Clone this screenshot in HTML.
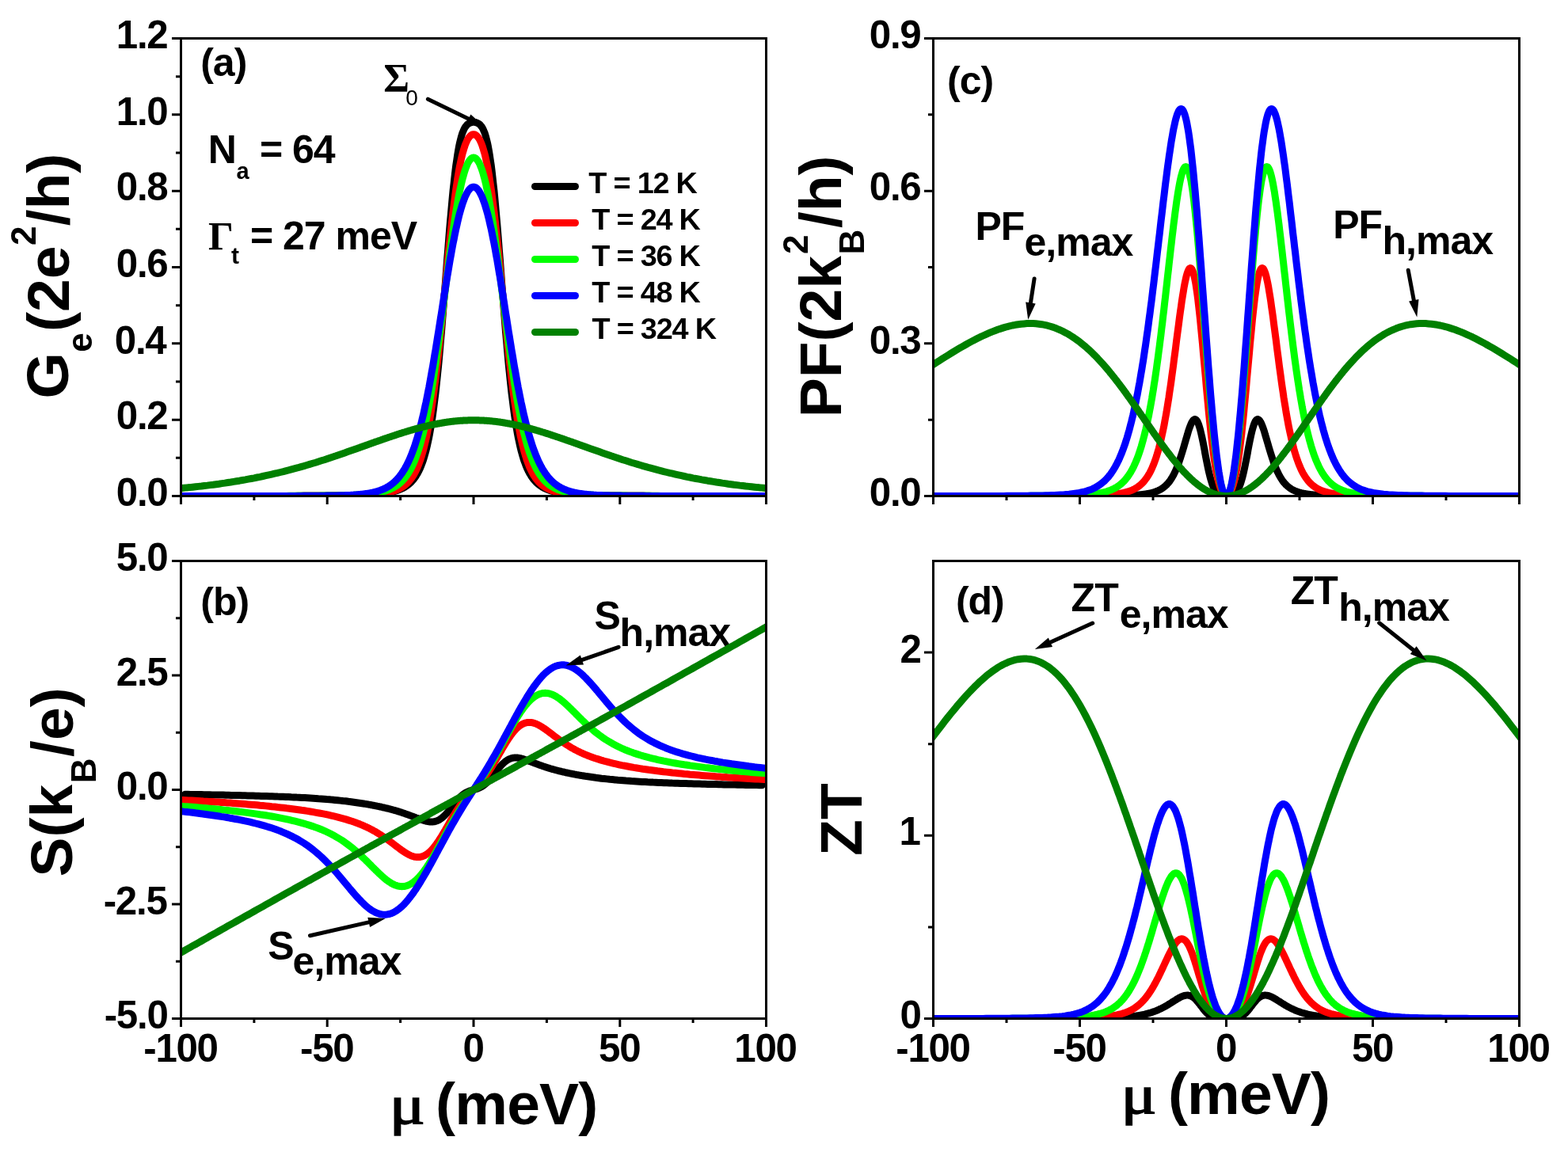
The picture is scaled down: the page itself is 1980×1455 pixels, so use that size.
<!DOCTYPE html>
<html><head><meta charset="utf-8"><title>Thermoelectric properties</title>
<style>
html,body{margin:0;padding:0;background:#fff;overflow:hidden}
svg{display:block}
text{font-family:"Liberation Sans",Arial,sans-serif;font-weight:bold;fill:#000}
.tk{font-size:49.3px;letter-spacing:-1.3px}
.lg{font-size:37.8px;letter-spacing:-1.2px}
.an{font-size:50px;letter-spacing:-1px}
.sub{font-size:29px}
.subb{font-size:30px}
.sub0{font-size:28px;font-weight:normal}
.gr{font-family:"Liberation Serif",serif;font-size:50px}
.ax{font-size:75px}
.axs{font-size:44px}
.mu{font-family:"Liberation Serif",serif;font-weight:normal;font-size:70px;stroke:#000;stroke-width:1.6px}
.mev{font-size:75px;letter-spacing:-0.8px}
</style></head><body>
<svg width="1980" height="1455" viewBox="0 0 1980 1455">
<rect width="1980" height="1455" fill="#fff"/>
<defs>
<clipPath id="cpa"><rect x="228.5" y="48.5" width="739.0" height="578.0"/></clipPath>
<clipPath id="cpb"><rect x="228.5" y="708.5" width="739.0" height="578.0"/></clipPath>
<clipPath id="cpc"><rect x="1178.5" y="48.5" width="740.0" height="578.0"/></clipPath>
<clipPath id="cpd"><rect x="1178.5" y="708.5" width="740.0" height="578.0"/></clipPath>
</defs>
<text class="tk" text-anchor="end" x="211.5" y="639.0">0.0</text>
<text class="tk" text-anchor="end" x="211.5" y="542.3">0.2</text>
<text class="tk" text-anchor="end" x="209.5" y="446.7">0.4</text>
<text class="tk" text-anchor="end" x="211.5" y="350.0">0.6</text>
<text class="tk" text-anchor="end" x="211.5" y="253.3">0.8</text>
<text class="tk" text-anchor="end" x="211.5" y="157.7">1.0</text>
<text class="tk" text-anchor="end" x="211.5" y="61.0">1.2</text>
<text class="tk" text-anchor="end" x="211.5" y="1299.0">-5.0</text>
<text class="tk" text-anchor="end" x="210.5" y="1154.5">-2.5</text>
<text class="tk" text-anchor="end" x="211.5" y="1010.0">0.0</text>
<text class="tk" text-anchor="end" x="211.5" y="865.5">2.5</text>
<text class="tk" text-anchor="end" x="211.5" y="721.0">5.0</text>
<text class="tk" text-anchor="end" x="1162.5" y="639.0">0.0</text>
<text class="tk" text-anchor="end" x="1162.5" y="446.7">0.3</text>
<text class="tk" text-anchor="end" x="1162.5" y="253.3">0.6</text>
<text class="tk" text-anchor="end" x="1162.5" y="61.0">0.9</text>
<text class="tk" text-anchor="end" x="1162.5" y="1299.0">0</text>
<text class="tk" text-anchor="end" x="1161.5" y="1067.0">1</text>
<text class="tk" text-anchor="end" x="1162.5" y="837.0">2</text>
<text class="tk" text-anchor="middle" x="228.0" y="1340.5">-100</text>
<text class="tk" text-anchor="middle" x="412.8" y="1340.5">-50</text>
<text class="tk" text-anchor="middle" x="597.5" y="1340.5">0</text>
<text class="tk" text-anchor="middle" x="782.2" y="1340.5">50</text>
<text class="tk" text-anchor="middle" x="966.5" y="1340.5">100</text>
<text class="tk" text-anchor="middle" x="1178.0" y="1340.5">-100</text>
<text class="tk" text-anchor="middle" x="1363.0" y="1340.5">-50</text>
<text class="tk" text-anchor="middle" x="1548.0" y="1340.5">0</text>
<text class="tk" text-anchor="middle" x="1733.0" y="1340.5">50</text>
<text class="tk" text-anchor="middle" x="1917.5" y="1340.5">100</text>
<text class="an" x="253.2" y="95.8">(a)</text>
<text class="an" x="253.3" y="777.4">(b)</text>
<text class="an" x="1196.0" y="118.6">(c)</text>
<text class="an" x="1206.9" y="776.1">(d)</text>
<text class="an" x="262.7" y="206.0">N</text>
<text class="sub" x="298.5" y="225.8">a</text>
<text class="an" x="327.9" y="206.0">= 64</text>
<text class="gr" x="263.0" y="314.6">Γ</text>
<text class="subb" x="292.0" y="333.0">t</text>
<text class="an" x="315.9" y="315.2">= 27 meV</text>
<text class="gr" x="484.3" y="115.4">Σ</text>
<text class="sub0" x="512.2" y="133.4">0</text>
<text class="an" x="750.6" y="795.0">S</text>
<text class="an" x="782.6" y="816.0">h,max</text>
<text class="an" x="338.2" y="1211.9">S</text>
<text class="an" x="369.6" y="1230.9">e,max</text>
<text class="an" x="1231.5" y="302.9">PF</text>
<text class="an" x="1293.5" y="322.8">e,max</text>
<text class="an" x="1683.2" y="301.2">PF</text>
<text class="an" x="1745.5" y="321.2">h,max</text>
<text class="an" x="1352.6" y="772.4">ZT</text>
<text class="an" x="1413.8" y="793.2">e,max</text>
<text class="an" x="1629.8" y="763.0">ZT</text>
<text class="an" x="1690.3" y="784.0">h,max</text>
<text class="lg" x="743.3" y="243.8">T = 12 K</text>
<text class="lg" x="747.3" y="289.8">T = 24 K</text>
<text class="lg" x="747.3" y="336.3">T = 36 K</text>
<text class="lg" x="747.3" y="382.4">T = 48 K</text>
<text class="lg" x="747.5" y="428.3">T = 324 K</text>
<text class="ax" transform="translate(85.6 503.4) rotate(-90)">G</text>
<text class="axs" transform="translate(115.8 444.8) rotate(-90)">e</text>
<text class="ax" transform="translate(87.4 419.0) rotate(-90)">(2e</text>
<text class="axs" transform="translate(44.6 309.9) rotate(-90)">2</text>
<text class="ax" transform="translate(87.0 285.3) rotate(-90)">/h)</text>
<text class="ax" transform="translate(91.0 1107.5) rotate(-90)">S(k</text>
<text class="axs" transform="translate(121.0 989.2) rotate(-90)">B</text>
<text class="ax" transform="translate(91.8 955.9) rotate(-90)">/e)</text>
<text class="ax" transform="translate(1062.0 527.3) rotate(-90)">PF(2k</text>
<text class="axs" transform="translate(1019.8 321.1) rotate(-90)">2</text>
<text class="axs" transform="translate(1090.8 321.4) rotate(-90)">B</text>
<text class="ax" transform="translate(1062.0 288.1) rotate(-90)">/h)</text>
<text class="ax" transform="translate(1088.2 1080.9) rotate(-90)">ZT</text>
<text class="mu" transform="translate(491.8 1419.3) scale(1.200 1)">μ</text>
<text class="mev" x="550.1" y="1420.2">(meV)</text>
<text class="mu" transform="translate(1415.6 1405.7) scale(1.200 1)">μ</text>
<text class="mev" x="1474.9" y="1407.0">(meV)</text>
<g clip-path="url(#cpa)" fill="none" stroke-width="9" stroke-linejoin="round" stroke-linecap="round">
<path stroke="#000000" d="M206.3 626.5 L210.0 626.5 L213.7 626.5 L217.4 626.5 L221.1 626.5 L224.8 626.5 L228.5 626.5 L232.2 626.5 L235.9 626.5 L239.6 626.5 L243.3 626.5 L247.0 626.5 L250.7 626.5 L254.4 626.5 L258.1 626.5 L261.8 626.5 L265.4 626.5 L269.1 626.5 L272.8 626.5 L276.5 626.5 L280.2 626.5 L283.9 626.5 L287.6 626.5 L291.3 626.5 L295.0 626.5 L298.7 626.5 L302.4 626.5 L306.1 626.5 L309.8 626.5 L313.5 626.5 L317.2 626.4 L320.9 626.4 L324.6 626.4 L328.3 626.4 L332.0 626.4 L335.7 626.4 L339.4 626.4 L343.0 626.4 L346.7 626.4 L350.4 626.4 L354.1 626.4 L357.8 626.4 L361.5 626.4 L365.2 626.4 L368.9 626.4 L372.6 626.4 L376.3 626.3 L380.0 626.3 L383.7 626.3 L387.4 626.3 L391.1 626.3 L394.8 626.3 L398.5 626.3 L402.2 626.2 L405.9 626.2 L409.6 626.2 L413.2 626.1 L416.9 626.1 L420.6 626.1 L424.3 626.0 L428.0 626.0 L431.7 625.9 L435.4 625.9 L439.1 625.8 L442.8 625.7 L446.5 625.6 L450.2 625.5 L451.1 625.5 L452.0 625.5 L453.0 625.4 L453.9 625.4 L454.8 625.4 L455.7 625.3 L456.7 625.3 L457.6 625.3 L458.5 625.2 L459.4 625.2 L460.4 625.1 L461.3 625.1 L462.2 625.0 L463.1 625.0 L464.1 625.0 L465.0 624.9 L465.9 624.8 L466.8 624.8 L467.8 624.7 L468.7 624.7 L469.6 624.6 L470.5 624.6 L471.4 624.5 L472.4 624.4 L473.3 624.4 L474.2 624.3 L475.1 624.2 L476.1 624.1 L477.0 624.0 L477.9 623.9 L478.8 623.9 L479.8 623.8 L480.7 623.7 L481.6 623.5 L482.5 623.4 L483.5 623.3 L484.4 623.2 L485.3 623.1 L486.2 622.9 L487.1 622.8 L488.1 622.7 L489.0 622.5 L489.9 622.3 L490.8 622.2 L491.8 622.0 L492.7 621.8 L493.6 621.6 L494.5 621.4 L495.5 621.2 L496.4 621.0 L497.3 620.7 L498.2 620.5 L499.2 620.2 L500.1 620.0 L501.0 619.7 L501.9 619.4 L502.9 619.0 L503.8 618.7 L504.7 618.3 L505.6 618.0 L506.5 617.6 L507.5 617.1 L508.4 616.7 L509.3 616.2 L510.2 615.7 L511.2 615.2 L512.1 614.6 L513.0 614.0 L513.9 613.3 L514.9 612.7 L515.8 611.9 L516.7 611.2 L517.6 610.4 L518.6 609.5 L519.5 608.6 L520.4 607.6 L521.3 606.5 L522.3 605.4 L523.2 604.2 L524.1 602.9 L525.0 601.6 L525.9 600.1 L526.9 598.6 L527.8 596.9 L528.7 595.2 L529.6 593.3 L530.6 591.2 L531.5 589.1 L532.4 586.7 L533.3 584.3 L534.3 581.6 L535.2 578.8 L536.1 575.7 L537.0 572.5 L538.0 569.0 L538.9 565.3 L539.8 561.3 L540.7 557.0 L541.7 552.5 L542.6 547.7 L543.5 542.5 L544.4 537.0 L545.3 531.2 L546.3 525.0 L547.2 518.5 L548.1 511.5 L549.0 504.1 L550.0 496.4 L550.9 488.2 L551.8 479.7 L552.7 470.7 L553.7 461.3 L554.6 451.5 L555.5 441.4 L556.4 430.9 L557.4 420.1 L558.3 409.0 L559.2 397.6 L560.1 386.0 L561.0 374.2 L562.0 362.3 L562.9 350.4 L563.8 338.5 L564.7 326.6 L565.7 314.8 L566.6 303.2 L567.5 291.8 L568.4 280.8 L569.4 270.1 L570.3 259.8 L571.2 249.9 L572.1 240.5 L573.1 231.7 L574.0 223.4 L574.9 215.6 L575.8 208.4 L576.8 201.8 L577.7 195.7 L578.6 190.2 L579.5 185.2 L580.4 180.8 L581.4 176.8 L582.3 173.3 L583.2 170.2 L584.1 167.5 L585.1 165.2 L586.0 163.1 L586.9 161.4 L587.8 160.0 L588.8 158.8 L589.7 157.7 L590.6 156.9 L591.5 156.2 L592.5 155.7 L593.4 155.2 L594.3 154.9 L595.2 154.6 L596.2 154.5 L597.1 154.4 L598.0 154.3 L598.9 154.4 L599.8 154.5 L600.8 154.6 L601.7 154.9 L602.6 155.2 L603.5 155.7 L604.5 156.2 L605.4 156.9 L606.3 157.7 L607.2 158.8 L608.2 160.0 L609.1 161.4 L610.0 163.1 L610.9 165.2 L611.9 167.5 L612.8 170.2 L613.7 173.3 L614.6 176.8 L615.6 180.8 L616.5 185.2 L617.4 190.2 L618.3 195.7 L619.2 201.8 L620.2 208.4 L621.1 215.6 L622.0 223.4 L622.9 231.7 L623.9 240.5 L624.8 249.9 L625.7 259.8 L626.6 270.1 L627.6 280.8 L628.5 291.8 L629.4 303.2 L630.3 314.8 L631.3 326.6 L632.2 338.5 L633.1 350.4 L634.0 362.3 L635.0 374.2 L635.9 386.0 L636.8 397.6 L637.7 409.0 L638.6 420.1 L639.6 430.9 L640.5 441.4 L641.4 451.5 L642.3 461.3 L643.3 470.7 L644.2 479.7 L645.1 488.2 L646.0 496.4 L647.0 504.1 L647.9 511.5 L648.8 518.5 L649.7 525.0 L650.7 531.2 L651.6 537.0 L652.5 542.5 L653.4 547.7 L654.3 552.5 L655.3 557.0 L656.2 561.3 L657.1 565.3 L658.0 569.0 L659.0 572.5 L659.9 575.7 L660.8 578.8 L661.7 581.6 L662.7 584.3 L663.6 586.7 L664.5 589.1 L665.4 591.2 L666.4 593.3 L667.3 595.2 L668.2 596.9 L669.1 598.6 L670.1 600.1 L671.0 601.6 L671.9 602.9 L672.8 604.2 L673.7 605.4 L674.7 606.5 L675.6 607.6 L676.5 608.6 L677.4 609.5 L678.4 610.4 L679.3 611.2 L680.2 611.9 L681.1 612.7 L682.1 613.3 L683.0 614.0 L683.9 614.6 L684.8 615.2 L685.8 615.7 L686.7 616.2 L687.6 616.7 L688.5 617.1 L689.5 617.6 L690.4 618.0 L691.3 618.3 L692.2 618.7 L693.1 619.0 L694.1 619.4 L695.0 619.7 L695.9 620.0 L696.8 620.2 L697.8 620.5 L698.7 620.7 L699.6 621.0 L700.5 621.2 L701.5 621.4 L702.4 621.6 L703.3 621.8 L704.2 622.0 L705.2 622.2 L706.1 622.3 L707.0 622.5 L707.9 622.7 L708.9 622.8 L709.8 622.9 L710.7 623.1 L711.6 623.2 L712.5 623.3 L713.5 623.4 L714.4 623.5 L715.3 623.7 L716.2 623.8 L717.2 623.9 L718.1 623.9 L719.0 624.0 L719.9 624.1 L720.9 624.2 L721.8 624.3 L722.7 624.4 L723.6 624.4 L724.6 624.5 L725.5 624.6 L726.4 624.6 L727.3 624.7 L728.2 624.7 L729.2 624.8 L730.1 624.8 L731.0 624.9 L731.9 625.0 L732.9 625.0 L733.8 625.0 L734.7 625.1 L735.6 625.1 L736.6 625.2 L737.5 625.2 L738.4 625.3 L739.3 625.3 L740.3 625.3 L741.2 625.4 L742.1 625.4 L743.0 625.4 L744.0 625.5 L744.9 625.5 L745.8 625.5 L749.5 625.6 L753.2 625.7 L756.9 625.8 L760.6 625.9 L764.3 625.9 L768.0 626.0 L771.7 626.0 L775.4 626.1 L779.1 626.1 L782.8 626.1 L786.4 626.2 L790.1 626.2 L793.8 626.2 L797.5 626.3 L801.2 626.3 L804.9 626.3 L808.6 626.3 L812.3 626.3 L816.0 626.3 L819.7 626.3 L823.4 626.4 L827.1 626.4 L830.8 626.4 L834.5 626.4 L838.2 626.4 L841.9 626.4 L845.6 626.4 L849.3 626.4 L853.0 626.4 L856.6 626.4 L860.3 626.4 L864.0 626.4 L867.7 626.4 L871.4 626.4 L875.1 626.4 L878.8 626.4 L882.5 626.5 L886.2 626.5 L889.9 626.5 L893.6 626.5 L897.3 626.5 L901.0 626.5 L904.7 626.5 L908.4 626.5 L912.1 626.5 L915.8 626.5 L919.5 626.5 L923.2 626.5 L926.9 626.5 L930.5 626.5 L934.2 626.5 L937.9 626.5 L941.6 626.5 L945.3 626.5 L949.0 626.5 L952.7 626.5 L956.4 626.5 L960.1 626.5 L963.8 626.5 L967.5 626.5 L971.2 626.5 L974.9 626.5 L978.6 626.5 L982.3 626.5 L986.0 626.5 L989.7 626.5"/>
<path stroke="#ff0000" d="M206.3 626.5 L210.0 626.5 L213.7 626.5 L217.4 626.5 L221.1 626.5 L224.8 626.5 L228.5 626.5 L232.2 626.5 L235.9 626.5 L239.6 626.5 L243.3 626.5 L247.0 626.5 L250.7 626.5 L254.4 626.5 L258.1 626.5 L261.8 626.5 L265.4 626.5 L269.1 626.5 L272.8 626.5 L276.5 626.5 L280.2 626.5 L283.9 626.5 L287.6 626.5 L291.3 626.5 L295.0 626.5 L298.7 626.5 L302.4 626.5 L306.1 626.5 L309.8 626.5 L313.5 626.5 L317.2 626.5 L320.9 626.5 L324.6 626.5 L328.3 626.4 L332.0 626.4 L335.7 626.4 L339.4 626.4 L343.0 626.4 L346.7 626.4 L350.4 626.4 L354.1 626.4 L357.8 626.4 L361.5 626.4 L365.2 626.4 L368.9 626.4 L372.6 626.4 L376.3 626.4 L380.0 626.4 L383.7 626.3 L387.4 626.3 L391.1 626.3 L394.8 626.3 L398.5 626.3 L402.2 626.3 L405.9 626.2 L409.6 626.2 L413.2 626.2 L416.9 626.2 L420.6 626.1 L424.3 626.1 L428.0 626.0 L431.7 626.0 L435.4 625.9 L439.1 625.9 L442.8 625.8 L446.5 625.7 L450.2 625.6 L451.1 625.6 L452.0 625.5 L453.0 625.5 L453.9 625.5 L454.8 625.4 L455.7 625.4 L456.7 625.4 L457.6 625.3 L458.5 625.3 L459.4 625.2 L460.4 625.2 L461.3 625.2 L462.2 625.1 L463.1 625.1 L464.1 625.0 L465.0 625.0 L465.9 624.9 L466.8 624.9 L467.8 624.8 L468.7 624.7 L469.6 624.7 L470.5 624.6 L471.4 624.5 L472.4 624.5 L473.3 624.4 L474.2 624.3 L475.1 624.2 L476.1 624.1 L477.0 624.0 L477.9 623.9 L478.8 623.8 L479.8 623.7 L480.7 623.6 L481.6 623.5 L482.5 623.4 L483.5 623.2 L484.4 623.1 L485.3 623.0 L486.2 622.8 L487.1 622.6 L488.1 622.5 L489.0 622.3 L489.9 622.1 L490.8 621.9 L491.8 621.7 L492.7 621.5 L493.6 621.2 L494.5 621.0 L495.5 620.7 L496.4 620.5 L497.3 620.2 L498.2 619.9 L499.2 619.5 L500.1 619.2 L501.0 618.8 L501.9 618.4 L502.9 618.0 L503.8 617.6 L504.7 617.1 L505.6 616.6 L506.5 616.1 L507.5 615.6 L508.4 615.0 L509.3 614.3 L510.2 613.7 L511.2 613.0 L512.1 612.2 L513.0 611.4 L513.9 610.6 L514.9 609.7 L515.8 608.7 L516.7 607.7 L517.6 606.6 L518.6 605.4 L519.5 604.2 L520.4 602.9 L521.3 601.5 L522.3 600.0 L523.2 598.4 L524.1 596.7 L525.0 594.9 L525.9 593.0 L526.9 591.0 L527.8 588.8 L528.7 586.5 L529.6 584.1 L530.6 581.5 L531.5 578.7 L532.4 575.8 L533.3 572.7 L534.3 569.4 L535.2 566.0 L536.1 562.3 L537.0 558.4 L538.0 554.3 L538.9 550.0 L539.8 545.5 L540.7 540.7 L541.7 535.6 L542.6 530.3 L543.5 524.8 L544.4 519.0 L545.3 512.9 L546.3 506.6 L547.2 500.0 L548.1 493.1 L549.0 486.0 L550.0 478.6 L550.9 471.0 L551.8 463.1 L552.7 455.0 L553.7 446.7 L554.6 438.1 L555.5 429.4 L556.4 420.5 L557.4 411.4 L558.3 402.3 L559.2 393.0 L560.1 383.6 L561.0 374.1 L562.0 364.7 L562.9 355.2 L563.8 345.8 L564.7 336.4 L565.7 327.2 L566.6 318.0 L567.5 309.0 L568.4 300.2 L569.4 291.6 L570.3 283.2 L571.2 275.0 L572.1 267.1 L573.1 259.5 L574.0 252.2 L574.9 245.2 L575.8 238.6 L576.8 232.2 L577.7 226.2 L578.6 220.6 L579.5 215.3 L580.4 210.3 L581.4 205.7 L582.3 201.4 L583.2 197.4 L584.1 193.7 L585.1 190.4 L586.0 187.3 L586.9 184.5 L587.8 182.0 L588.8 179.7 L589.7 177.7 L590.6 176.0 L591.5 174.5 L592.5 173.2 L593.4 172.1 L594.3 171.2 L595.2 170.5 L596.2 170.0 L597.1 169.8 L598.0 169.7 L598.9 169.8 L599.8 170.0 L600.8 170.5 L601.7 171.2 L602.6 172.1 L603.5 173.2 L604.5 174.5 L605.4 176.0 L606.3 177.7 L607.2 179.7 L608.2 182.0 L609.1 184.5 L610.0 187.3 L610.9 190.4 L611.9 193.7 L612.8 197.4 L613.7 201.4 L614.6 205.7 L615.6 210.3 L616.5 215.3 L617.4 220.6 L618.3 226.2 L619.2 232.2 L620.2 238.6 L621.1 245.2 L622.0 252.2 L622.9 259.5 L623.9 267.1 L624.8 275.0 L625.7 283.2 L626.6 291.6 L627.6 300.2 L628.5 309.0 L629.4 318.0 L630.3 327.2 L631.3 336.4 L632.2 345.8 L633.1 355.2 L634.0 364.7 L635.0 374.1 L635.9 383.6 L636.8 393.0 L637.7 402.3 L638.6 411.4 L639.6 420.5 L640.5 429.4 L641.4 438.1 L642.3 446.7 L643.3 455.0 L644.2 463.1 L645.1 471.0 L646.0 478.6 L647.0 486.0 L647.9 493.1 L648.8 500.0 L649.7 506.6 L650.7 512.9 L651.6 519.0 L652.5 524.8 L653.4 530.3 L654.3 535.6 L655.3 540.7 L656.2 545.5 L657.1 550.0 L658.0 554.3 L659.0 558.4 L659.9 562.3 L660.8 566.0 L661.7 569.4 L662.7 572.7 L663.6 575.8 L664.5 578.7 L665.4 581.5 L666.4 584.1 L667.3 586.5 L668.2 588.8 L669.1 591.0 L670.1 593.0 L671.0 594.9 L671.9 596.7 L672.8 598.4 L673.7 600.0 L674.7 601.5 L675.6 602.9 L676.5 604.2 L677.4 605.4 L678.4 606.6 L679.3 607.7 L680.2 608.7 L681.1 609.7 L682.1 610.6 L683.0 611.4 L683.9 612.2 L684.8 613.0 L685.8 613.7 L686.7 614.3 L687.6 615.0 L688.5 615.6 L689.5 616.1 L690.4 616.6 L691.3 617.1 L692.2 617.6 L693.1 618.0 L694.1 618.4 L695.0 618.8 L695.9 619.2 L696.8 619.5 L697.8 619.9 L698.7 620.2 L699.6 620.5 L700.5 620.7 L701.5 621.0 L702.4 621.2 L703.3 621.5 L704.2 621.7 L705.2 621.9 L706.1 622.1 L707.0 622.3 L707.9 622.5 L708.9 622.6 L709.8 622.8 L710.7 623.0 L711.6 623.1 L712.5 623.2 L713.5 623.4 L714.4 623.5 L715.3 623.6 L716.2 623.7 L717.2 623.8 L718.1 623.9 L719.0 624.0 L719.9 624.1 L720.9 624.2 L721.8 624.3 L722.7 624.4 L723.6 624.5 L724.6 624.5 L725.5 624.6 L726.4 624.7 L727.3 624.7 L728.2 624.8 L729.2 624.9 L730.1 624.9 L731.0 625.0 L731.9 625.0 L732.9 625.1 L733.8 625.1 L734.7 625.2 L735.6 625.2 L736.6 625.2 L737.5 625.3 L738.4 625.3 L739.3 625.4 L740.3 625.4 L741.2 625.4 L742.1 625.5 L743.0 625.5 L744.0 625.5 L744.9 625.6 L745.8 625.6 L749.5 625.7 L753.2 625.8 L756.9 625.9 L760.6 625.9 L764.3 626.0 L768.0 626.0 L771.7 626.1 L775.4 626.1 L779.1 626.2 L782.8 626.2 L786.4 626.2 L790.1 626.2 L793.8 626.3 L797.5 626.3 L801.2 626.3 L804.9 626.3 L808.6 626.3 L812.3 626.3 L816.0 626.4 L819.7 626.4 L823.4 626.4 L827.1 626.4 L830.8 626.4 L834.5 626.4 L838.2 626.4 L841.9 626.4 L845.6 626.4 L849.3 626.4 L853.0 626.4 L856.6 626.4 L860.3 626.4 L864.0 626.4 L867.7 626.4 L871.4 626.5 L875.1 626.5 L878.8 626.5 L882.5 626.5 L886.2 626.5 L889.9 626.5 L893.6 626.5 L897.3 626.5 L901.0 626.5 L904.7 626.5 L908.4 626.5 L912.1 626.5 L915.8 626.5 L919.5 626.5 L923.2 626.5 L926.9 626.5 L930.5 626.5 L934.2 626.5 L937.9 626.5 L941.6 626.5 L945.3 626.5 L949.0 626.5 L952.7 626.5 L956.4 626.5 L960.1 626.5 L963.8 626.5 L967.5 626.5 L971.2 626.5 L974.9 626.5 L978.6 626.5 L982.3 626.5 L986.0 626.5 L989.7 626.5"/>
<path stroke="#00ff00" d="M206.3 626.5 L210.0 626.5 L213.7 626.5 L217.4 626.5 L221.1 626.5 L224.8 626.5 L228.5 626.5 L232.2 626.5 L235.9 626.5 L239.6 626.5 L243.3 626.5 L247.0 626.5 L250.7 626.5 L254.4 626.5 L258.1 626.5 L261.8 626.5 L265.4 626.5 L269.1 626.5 L272.8 626.5 L276.5 626.5 L280.2 626.5 L283.9 626.5 L287.6 626.5 L291.3 626.5 L295.0 626.5 L298.7 626.5 L302.4 626.4 L306.1 626.4 L309.8 626.4 L313.5 626.4 L317.2 626.4 L320.9 626.4 L324.6 626.4 L328.3 626.4 L332.0 626.4 L335.7 626.4 L339.4 626.4 L343.0 626.4 L346.7 626.4 L350.4 626.4 L354.1 626.4 L357.8 626.4 L361.5 626.4 L365.2 626.3 L368.9 626.3 L372.6 626.3 L376.3 626.3 L380.0 626.3 L383.7 626.3 L387.4 626.3 L391.1 626.2 L394.8 626.2 L398.5 626.2 L402.2 626.2 L405.9 626.1 L409.6 626.1 L413.2 626.0 L416.9 626.0 L420.6 625.9 L424.3 625.9 L428.0 625.8 L431.7 625.7 L435.4 625.6 L439.1 625.5 L442.8 625.4 L446.5 625.3 L450.2 625.1 L451.1 625.1 L452.0 625.0 L453.0 625.0 L453.9 624.9 L454.8 624.8 L455.7 624.8 L456.7 624.7 L457.6 624.7 L458.5 624.6 L459.4 624.5 L460.4 624.5 L461.3 624.4 L462.2 624.3 L463.1 624.2 L464.1 624.1 L465.0 624.1 L465.9 624.0 L466.8 623.9 L467.8 623.8 L468.7 623.7 L469.6 623.5 L470.5 623.4 L471.4 623.3 L472.4 623.2 L473.3 623.0 L474.2 622.9 L475.1 622.7 L476.1 622.6 L477.0 622.4 L477.9 622.3 L478.8 622.1 L479.8 621.9 L480.7 621.7 L481.6 621.5 L482.5 621.2 L483.5 621.0 L484.4 620.8 L485.3 620.5 L486.2 620.2 L487.1 620.0 L488.1 619.7 L489.0 619.3 L489.9 619.0 L490.8 618.7 L491.8 618.3 L492.7 617.9 L493.6 617.5 L494.5 617.1 L495.5 616.6 L496.4 616.1 L497.3 615.6 L498.2 615.1 L499.2 614.5 L500.1 613.9 L501.0 613.3 L501.9 612.7 L502.9 612.0 L503.8 611.2 L504.7 610.5 L505.6 609.6 L506.5 608.8 L507.5 607.9 L508.4 606.9 L509.3 605.9 L510.2 604.9 L511.2 603.8 L512.1 602.6 L513.0 601.4 L513.9 600.1 L514.9 598.7 L515.8 597.3 L516.7 595.7 L517.6 594.1 L518.6 592.5 L519.5 590.7 L520.4 588.9 L521.3 586.9 L522.3 584.9 L523.2 582.7 L524.1 580.5 L525.0 578.1 L525.9 575.6 L526.9 573.0 L527.8 570.3 L528.7 567.5 L529.6 564.5 L530.6 561.4 L531.5 558.1 L532.4 554.7 L533.3 551.2 L534.3 547.5 L535.2 543.7 L536.1 539.7 L537.0 535.5 L538.0 531.2 L538.9 526.7 L539.8 522.1 L540.7 517.3 L541.7 512.3 L542.6 507.2 L543.5 501.9 L544.4 496.4 L545.3 490.8 L546.3 485.0 L547.2 479.0 L548.1 472.9 L549.0 466.7 L550.0 460.3 L550.9 453.8 L551.8 447.1 L552.7 440.3 L553.7 433.5 L554.6 426.5 L555.5 419.4 L556.4 412.2 L557.4 405.0 L558.3 397.7 L559.2 390.4 L560.1 383.1 L561.0 375.7 L562.0 368.3 L562.9 361.0 L563.8 353.6 L564.7 346.3 L565.7 339.1 L566.6 331.9 L567.5 324.9 L568.4 317.9 L569.4 311.1 L570.3 304.3 L571.2 297.7 L572.1 291.3 L573.1 285.0 L574.0 278.9 L574.9 273.0 L575.8 267.3 L576.8 261.8 L577.7 256.5 L578.6 251.4 L579.5 246.5 L580.4 241.9 L581.4 237.5 L582.3 233.3 L583.2 229.4 L584.1 225.7 L585.1 222.2 L586.0 219.0 L586.9 216.0 L587.8 213.3 L588.8 210.8 L589.7 208.5 L590.6 206.5 L591.5 204.7 L592.5 203.2 L593.4 201.9 L594.3 200.9 L595.2 200.0 L596.2 199.4 L597.1 199.1 L598.0 199.0 L598.9 199.1 L599.8 199.4 L600.8 200.0 L601.7 200.9 L602.6 201.9 L603.5 203.2 L604.5 204.7 L605.4 206.5 L606.3 208.5 L607.2 210.8 L608.2 213.3 L609.1 216.0 L610.0 219.0 L610.9 222.2 L611.9 225.7 L612.8 229.4 L613.7 233.3 L614.6 237.5 L615.6 241.9 L616.5 246.5 L617.4 251.4 L618.3 256.5 L619.2 261.8 L620.2 267.3 L621.1 273.0 L622.0 278.9 L622.9 285.0 L623.9 291.3 L624.8 297.7 L625.7 304.3 L626.6 311.1 L627.6 317.9 L628.5 324.9 L629.4 331.9 L630.3 339.1 L631.3 346.3 L632.2 353.6 L633.1 361.0 L634.0 368.3 L635.0 375.7 L635.9 383.1 L636.8 390.4 L637.7 397.7 L638.6 405.0 L639.6 412.2 L640.5 419.4 L641.4 426.5 L642.3 433.5 L643.3 440.3 L644.2 447.1 L645.1 453.8 L646.0 460.3 L647.0 466.7 L647.9 472.9 L648.8 479.0 L649.7 485.0 L650.7 490.8 L651.6 496.4 L652.5 501.9 L653.4 507.2 L654.3 512.3 L655.3 517.3 L656.2 522.1 L657.1 526.7 L658.0 531.2 L659.0 535.5 L659.9 539.7 L660.8 543.7 L661.7 547.5 L662.7 551.2 L663.6 554.7 L664.5 558.1 L665.4 561.4 L666.4 564.5 L667.3 567.5 L668.2 570.3 L669.1 573.0 L670.1 575.6 L671.0 578.1 L671.9 580.5 L672.8 582.7 L673.7 584.9 L674.7 586.9 L675.6 588.9 L676.5 590.7 L677.4 592.5 L678.4 594.1 L679.3 595.7 L680.2 597.3 L681.1 598.7 L682.1 600.1 L683.0 601.4 L683.9 602.6 L684.8 603.8 L685.8 604.9 L686.7 605.9 L687.6 606.9 L688.5 607.9 L689.5 608.8 L690.4 609.6 L691.3 610.5 L692.2 611.2 L693.1 612.0 L694.1 612.7 L695.0 613.3 L695.9 613.9 L696.8 614.5 L697.8 615.1 L698.7 615.6 L699.6 616.1 L700.5 616.6 L701.5 617.1 L702.4 617.5 L703.3 617.9 L704.2 618.3 L705.2 618.7 L706.1 619.0 L707.0 619.3 L707.9 619.7 L708.9 620.0 L709.8 620.2 L710.7 620.5 L711.6 620.8 L712.5 621.0 L713.5 621.2 L714.4 621.5 L715.3 621.7 L716.2 621.9 L717.2 622.1 L718.1 622.3 L719.0 622.4 L719.9 622.6 L720.9 622.7 L721.8 622.9 L722.7 623.0 L723.6 623.2 L724.6 623.3 L725.5 623.4 L726.4 623.5 L727.3 623.7 L728.2 623.8 L729.2 623.9 L730.1 624.0 L731.0 624.1 L731.9 624.1 L732.9 624.2 L733.8 624.3 L734.7 624.4 L735.6 624.5 L736.6 624.5 L737.5 624.6 L738.4 624.7 L739.3 624.7 L740.3 624.8 L741.2 624.8 L742.1 624.9 L743.0 625.0 L744.0 625.0 L744.9 625.1 L745.8 625.1 L749.5 625.3 L753.2 625.4 L756.9 625.5 L760.6 625.6 L764.3 625.7 L768.0 625.8 L771.7 625.9 L775.4 625.9 L779.1 626.0 L782.8 626.0 L786.4 626.1 L790.1 626.1 L793.8 626.2 L797.5 626.2 L801.2 626.2 L804.9 626.2 L808.6 626.3 L812.3 626.3 L816.0 626.3 L819.7 626.3 L823.4 626.3 L827.1 626.3 L830.8 626.3 L834.5 626.4 L838.2 626.4 L841.9 626.4 L845.6 626.4 L849.3 626.4 L853.0 626.4 L856.6 626.4 L860.3 626.4 L864.0 626.4 L867.7 626.4 L871.4 626.4 L875.1 626.4 L878.8 626.4 L882.5 626.4 L886.2 626.4 L889.9 626.4 L893.6 626.4 L897.3 626.5 L901.0 626.5 L904.7 626.5 L908.4 626.5 L912.1 626.5 L915.8 626.5 L919.5 626.5 L923.2 626.5 L926.9 626.5 L930.5 626.5 L934.2 626.5 L937.9 626.5 L941.6 626.5 L945.3 626.5 L949.0 626.5 L952.7 626.5 L956.4 626.5 L960.1 626.5 L963.8 626.5 L967.5 626.5 L971.2 626.5 L974.9 626.5 L978.6 626.5 L982.3 626.5 L986.0 626.5 L989.7 626.5"/>
<path stroke="#0000ff" d="M206.3 626.5 L210.0 626.5 L213.7 626.5 L217.4 626.5 L221.1 626.5 L224.8 626.5 L228.5 626.5 L232.2 626.5 L235.9 626.5 L239.6 626.5 L243.3 626.5 L247.0 626.5 L250.7 626.5 L254.4 626.5 L258.1 626.5 L261.8 626.5 L265.4 626.5 L269.1 626.5 L272.8 626.5 L276.5 626.5 L280.2 626.5 L283.9 626.5 L287.6 626.5 L291.3 626.5 L295.0 626.5 L298.7 626.5 L302.4 626.5 L306.1 626.5 L309.8 626.5 L313.5 626.5 L317.2 626.5 L320.9 626.5 L324.6 626.5 L328.3 626.5 L332.0 626.5 L335.7 626.5 L339.4 626.4 L343.0 626.4 L346.7 626.4 L350.4 626.4 L354.1 626.4 L357.8 626.4 L361.5 626.4 L365.2 626.4 L368.9 626.4 L372.6 626.4 L376.3 626.4 L380.0 626.4 L383.7 626.3 L387.4 626.3 L391.1 626.3 L394.8 626.3 L398.5 626.3 L402.2 626.2 L405.9 626.2 L409.6 626.2 L413.2 626.1 L416.9 626.1 L420.6 626.0 L424.3 625.9 L428.0 625.8 L431.7 625.7 L435.4 625.6 L439.1 625.4 L442.8 625.3 L446.5 625.1 L450.2 624.8 L451.1 624.7 L452.0 624.7 L453.0 624.6 L453.9 624.5 L454.8 624.4 L455.7 624.3 L456.7 624.2 L457.6 624.1 L458.5 624.0 L459.4 623.9 L460.4 623.8 L461.3 623.7 L462.2 623.5 L463.1 623.4 L464.1 623.3 L465.0 623.1 L465.9 623.0 L466.8 622.8 L467.8 622.6 L468.7 622.4 L469.6 622.3 L470.5 622.1 L471.4 621.9 L472.4 621.6 L473.3 621.4 L474.2 621.2 L475.1 620.9 L476.1 620.7 L477.0 620.4 L477.9 620.1 L478.8 619.8 L479.8 619.5 L480.7 619.1 L481.6 618.8 L482.5 618.4 L483.5 618.0 L484.4 617.6 L485.3 617.2 L486.2 616.7 L487.1 616.3 L488.1 615.8 L489.0 615.3 L489.9 614.7 L490.8 614.2 L491.8 613.6 L492.7 612.9 L493.6 612.3 L494.5 611.6 L495.5 610.9 L496.4 610.1 L497.3 609.3 L498.2 608.5 L499.2 607.6 L500.1 606.7 L501.0 605.7 L501.9 604.7 L502.9 603.7 L503.8 602.6 L504.7 601.5 L505.6 600.3 L506.5 599.0 L507.5 597.7 L508.4 596.3 L509.3 594.9 L510.2 593.4 L511.2 591.9 L512.1 590.2 L513.0 588.5 L513.9 586.8 L514.9 584.9 L515.8 583.0 L516.7 581.0 L517.6 578.9 L518.6 576.7 L519.5 574.5 L520.4 572.1 L521.3 569.7 L522.3 567.1 L523.2 564.5 L524.1 561.8 L525.0 558.9 L525.9 556.0 L526.9 553.0 L527.8 549.8 L528.7 546.6 L529.6 543.2 L530.6 539.7 L531.5 536.1 L532.4 532.5 L533.3 528.6 L534.3 524.7 L535.2 520.7 L536.1 516.5 L537.0 512.3 L538.0 507.9 L538.9 503.4 L539.8 498.8 L540.7 494.1 L541.7 489.3 L542.6 484.4 L543.5 479.4 L544.4 474.3 L545.3 469.1 L546.3 463.9 L547.2 458.5 L548.1 453.1 L549.0 447.6 L550.0 442.0 L550.9 436.3 L551.8 430.6 L552.7 424.9 L553.7 419.1 L554.6 413.3 L555.5 407.5 L556.4 401.6 L557.4 395.7 L558.3 389.9 L559.2 384.0 L560.1 378.2 L561.0 372.3 L562.0 366.6 L562.9 360.8 L563.8 355.1 L564.7 349.5 L565.7 343.9 L566.6 338.4 L567.5 333.0 L568.4 327.7 L569.4 322.4 L570.3 317.3 L571.2 312.3 L572.1 307.4 L573.1 302.7 L574.0 298.0 L574.9 293.5 L575.8 289.2 L576.8 285.0 L577.7 280.9 L578.6 277.0 L579.5 273.3 L580.4 269.7 L581.4 266.3 L582.3 263.1 L583.2 260.1 L584.1 257.2 L585.1 254.5 L586.0 252.0 L586.9 249.6 L587.8 247.5 L588.8 245.5 L589.7 243.7 L590.6 242.1 L591.5 240.7 L592.5 239.5 L593.4 238.4 L594.3 237.6 L595.2 236.9 L596.2 236.5 L597.1 236.2 L598.0 236.1 L598.9 236.2 L599.8 236.5 L600.8 236.9 L601.7 237.6 L602.6 238.4 L603.5 239.5 L604.5 240.7 L605.4 242.1 L606.3 243.7 L607.2 245.5 L608.2 247.5 L609.1 249.6 L610.0 252.0 L610.9 254.5 L611.9 257.2 L612.8 260.1 L613.7 263.1 L614.6 266.3 L615.6 269.7 L616.5 273.3 L617.4 277.0 L618.3 280.9 L619.2 285.0 L620.2 289.2 L621.1 293.5 L622.0 298.0 L622.9 302.7 L623.9 307.4 L624.8 312.3 L625.7 317.3 L626.6 322.4 L627.6 327.7 L628.5 333.0 L629.4 338.4 L630.3 343.9 L631.3 349.5 L632.2 355.1 L633.1 360.8 L634.0 366.6 L635.0 372.3 L635.9 378.2 L636.8 384.0 L637.7 389.9 L638.6 395.7 L639.6 401.6 L640.5 407.5 L641.4 413.3 L642.3 419.1 L643.3 424.9 L644.2 430.6 L645.1 436.3 L646.0 442.0 L647.0 447.6 L647.9 453.1 L648.8 458.5 L649.7 463.9 L650.7 469.1 L651.6 474.3 L652.5 479.4 L653.4 484.4 L654.3 489.3 L655.3 494.1 L656.2 498.8 L657.1 503.4 L658.0 507.9 L659.0 512.3 L659.9 516.5 L660.8 520.7 L661.7 524.7 L662.7 528.6 L663.6 532.5 L664.5 536.1 L665.4 539.7 L666.4 543.2 L667.3 546.6 L668.2 549.8 L669.1 553.0 L670.1 556.0 L671.0 558.9 L671.9 561.8 L672.8 564.5 L673.7 567.1 L674.7 569.7 L675.6 572.1 L676.5 574.5 L677.4 576.7 L678.4 578.9 L679.3 581.0 L680.2 583.0 L681.1 584.9 L682.1 586.8 L683.0 588.5 L683.9 590.2 L684.8 591.9 L685.8 593.4 L686.7 594.9 L687.6 596.3 L688.5 597.7 L689.5 599.0 L690.4 600.3 L691.3 601.5 L692.2 602.6 L693.1 603.7 L694.1 604.7 L695.0 605.7 L695.9 606.7 L696.8 607.6 L697.8 608.5 L698.7 609.3 L699.6 610.1 L700.5 610.9 L701.5 611.6 L702.4 612.3 L703.3 612.9 L704.2 613.6 L705.2 614.2 L706.1 614.7 L707.0 615.3 L707.9 615.8 L708.9 616.3 L709.8 616.7 L710.7 617.2 L711.6 617.6 L712.5 618.0 L713.5 618.4 L714.4 618.8 L715.3 619.1 L716.2 619.5 L717.2 619.8 L718.1 620.1 L719.0 620.4 L719.9 620.7 L720.9 620.9 L721.8 621.2 L722.7 621.4 L723.6 621.6 L724.6 621.9 L725.5 622.1 L726.4 622.3 L727.3 622.4 L728.2 622.6 L729.2 622.8 L730.1 623.0 L731.0 623.1 L731.9 623.3 L732.9 623.4 L733.8 623.5 L734.7 623.7 L735.6 623.8 L736.6 623.9 L737.5 624.0 L738.4 624.1 L739.3 624.2 L740.3 624.3 L741.2 624.4 L742.1 624.5 L743.0 624.6 L744.0 624.7 L744.9 624.7 L745.8 624.8 L749.5 625.1 L753.2 625.3 L756.9 625.4 L760.6 625.6 L764.3 625.7 L768.0 625.8 L771.7 625.9 L775.4 626.0 L779.1 626.1 L782.8 626.1 L786.4 626.2 L790.1 626.2 L793.8 626.2 L797.5 626.3 L801.2 626.3 L804.9 626.3 L808.6 626.3 L812.3 626.3 L816.0 626.4 L819.7 626.4 L823.4 626.4 L827.1 626.4 L830.8 626.4 L834.5 626.4 L838.2 626.4 L841.9 626.4 L845.6 626.4 L849.3 626.4 L853.0 626.4 L856.6 626.4 L860.3 626.5 L864.0 626.5 L867.7 626.5 L871.4 626.5 L875.1 626.5 L878.8 626.5 L882.5 626.5 L886.2 626.5 L889.9 626.5 L893.6 626.5 L897.3 626.5 L901.0 626.5 L904.7 626.5 L908.4 626.5 L912.1 626.5 L915.8 626.5 L919.5 626.5 L923.2 626.5 L926.9 626.5 L930.5 626.5 L934.2 626.5 L937.9 626.5 L941.6 626.5 L945.3 626.5 L949.0 626.5 L952.7 626.5 L956.4 626.5 L960.1 626.5 L963.8 626.5 L967.5 626.5 L971.2 626.5 L974.9 626.5 L978.6 626.5 L982.3 626.5 L986.0 626.5 L989.7 626.5"/>
<path stroke="#008000" d="M206.3 618.5 L210.0 618.2 L213.7 617.9 L217.4 617.6 L221.1 617.3 L224.8 617.0 L228.5 616.7 L232.2 616.3 L235.9 615.9 L239.6 615.6 L243.3 615.2 L247.0 614.8 L250.7 614.4 L254.4 614.0 L258.1 613.5 L261.8 613.1 L265.4 612.6 L269.1 612.2 L272.8 611.7 L276.5 611.2 L280.2 610.6 L283.9 610.1 L287.6 609.5 L291.3 609.0 L295.0 608.4 L298.7 607.8 L302.4 607.2 L306.1 606.5 L309.8 605.9 L313.5 605.2 L317.2 604.5 L320.9 603.8 L324.6 603.0 L328.3 602.3 L332.0 601.5 L335.7 600.7 L339.4 599.9 L343.0 599.1 L346.7 598.2 L350.4 597.4 L354.1 596.5 L357.8 595.6 L361.5 594.6 L365.2 593.7 L368.9 592.7 L372.6 591.7 L376.3 590.7 L380.0 589.6 L383.7 588.6 L387.4 587.5 L391.1 586.4 L394.8 585.3 L398.5 584.2 L402.2 583.0 L405.9 581.8 L409.6 580.7 L413.2 579.5 L416.9 578.2 L420.6 577.0 L424.3 575.8 L428.0 574.5 L431.7 573.2 L435.4 571.9 L439.1 570.6 L442.8 569.3 L446.5 568.0 L450.2 566.7 L451.1 566.4 L452.0 566.1 L453.0 565.7 L453.9 565.4 L454.8 565.1 L455.7 564.7 L456.7 564.4 L457.6 564.1 L458.5 563.7 L459.4 563.4 L460.4 563.1 L461.3 562.8 L462.2 562.4 L463.1 562.1 L464.1 561.8 L465.0 561.4 L465.9 561.1 L466.8 560.8 L467.8 560.4 L468.7 560.1 L469.6 559.8 L470.5 559.5 L471.4 559.1 L472.4 558.8 L473.3 558.5 L474.2 558.1 L475.1 557.8 L476.1 557.5 L477.0 557.2 L477.9 556.8 L478.8 556.5 L479.8 556.2 L480.7 555.9 L481.6 555.5 L482.5 555.2 L483.5 554.9 L484.4 554.6 L485.3 554.3 L486.2 553.9 L487.1 553.6 L488.1 553.3 L489.0 553.0 L489.9 552.7 L490.8 552.3 L491.8 552.0 L492.7 551.7 L493.6 551.4 L494.5 551.1 L495.5 550.8 L496.4 550.5 L497.3 550.2 L498.2 549.9 L499.2 549.6 L500.1 549.2 L501.0 548.9 L501.9 548.6 L502.9 548.3 L503.8 548.0 L504.7 547.7 L505.6 547.5 L506.5 547.2 L507.5 546.9 L508.4 546.6 L509.3 546.3 L510.2 546.0 L511.2 545.7 L512.1 545.4 L513.0 545.1 L513.9 544.9 L514.9 544.6 L515.8 544.3 L516.7 544.0 L517.6 543.8 L518.6 543.5 L519.5 543.2 L520.4 543.0 L521.3 542.7 L522.3 542.4 L523.2 542.2 L524.1 541.9 L525.0 541.6 L525.9 541.4 L526.9 541.1 L527.8 540.9 L528.7 540.6 L529.6 540.4 L530.6 540.2 L531.5 539.9 L532.4 539.7 L533.3 539.4 L534.3 539.2 L535.2 539.0 L536.1 538.8 L537.0 538.5 L538.0 538.3 L538.9 538.1 L539.8 537.9 L540.7 537.7 L541.7 537.4 L542.6 537.2 L543.5 537.0 L544.4 536.8 L545.3 536.6 L546.3 536.4 L547.2 536.2 L548.1 536.0 L549.0 535.9 L550.0 535.7 L550.9 535.5 L551.8 535.3 L552.7 535.1 L553.7 535.0 L554.6 534.8 L555.5 534.6 L556.4 534.5 L557.4 534.3 L558.3 534.2 L559.2 534.0 L560.1 533.8 L561.0 533.7 L562.0 533.6 L562.9 533.4 L563.8 533.3 L564.7 533.1 L565.7 533.0 L566.6 532.9 L567.5 532.8 L568.4 532.6 L569.4 532.5 L570.3 532.4 L571.2 532.3 L572.1 532.2 L573.1 532.1 L574.0 532.0 L574.9 531.9 L575.8 531.8 L576.8 531.7 L577.7 531.6 L578.6 531.6 L579.5 531.5 L580.4 531.4 L581.4 531.3 L582.3 531.3 L583.2 531.2 L584.1 531.2 L585.1 531.1 L586.0 531.1 L586.9 531.0 L587.8 531.0 L588.8 530.9 L589.7 530.9 L590.6 530.9 L591.5 530.8 L592.5 530.8 L593.4 530.8 L594.3 530.8 L595.2 530.8 L596.2 530.7 L597.1 530.7 L598.0 530.7 L598.9 530.7 L599.8 530.7 L600.8 530.8 L601.7 530.8 L602.6 530.8 L603.5 530.8 L604.5 530.8 L605.4 530.9 L606.3 530.9 L607.2 530.9 L608.2 531.0 L609.1 531.0 L610.0 531.1 L610.9 531.1 L611.9 531.2 L612.8 531.2 L613.7 531.3 L614.6 531.3 L615.6 531.4 L616.5 531.5 L617.4 531.6 L618.3 531.6 L619.2 531.7 L620.2 531.8 L621.1 531.9 L622.0 532.0 L622.9 532.1 L623.9 532.2 L624.8 532.3 L625.7 532.4 L626.6 532.5 L627.6 532.6 L628.5 532.8 L629.4 532.9 L630.3 533.0 L631.3 533.1 L632.2 533.3 L633.1 533.4 L634.0 533.6 L635.0 533.7 L635.9 533.8 L636.8 534.0 L637.7 534.2 L638.6 534.3 L639.6 534.5 L640.5 534.6 L641.4 534.8 L642.3 535.0 L643.3 535.1 L644.2 535.3 L645.1 535.5 L646.0 535.7 L647.0 535.9 L647.9 536.0 L648.8 536.2 L649.7 536.4 L650.7 536.6 L651.6 536.8 L652.5 537.0 L653.4 537.2 L654.3 537.4 L655.3 537.7 L656.2 537.9 L657.1 538.1 L658.0 538.3 L659.0 538.5 L659.9 538.8 L660.8 539.0 L661.7 539.2 L662.7 539.4 L663.6 539.7 L664.5 539.9 L665.4 540.2 L666.4 540.4 L667.3 540.6 L668.2 540.9 L669.1 541.1 L670.1 541.4 L671.0 541.6 L671.9 541.9 L672.8 542.2 L673.7 542.4 L674.7 542.7 L675.6 543.0 L676.5 543.2 L677.4 543.5 L678.4 543.8 L679.3 544.0 L680.2 544.3 L681.1 544.6 L682.1 544.9 L683.0 545.1 L683.9 545.4 L684.8 545.7 L685.8 546.0 L686.7 546.3 L687.6 546.6 L688.5 546.9 L689.5 547.2 L690.4 547.5 L691.3 547.7 L692.2 548.0 L693.1 548.3 L694.1 548.6 L695.0 548.9 L695.9 549.2 L696.8 549.6 L697.8 549.9 L698.7 550.2 L699.6 550.5 L700.5 550.8 L701.5 551.1 L702.4 551.4 L703.3 551.7 L704.2 552.0 L705.2 552.3 L706.1 552.7 L707.0 553.0 L707.9 553.3 L708.9 553.6 L709.8 553.9 L710.7 554.3 L711.6 554.6 L712.5 554.9 L713.5 555.2 L714.4 555.5 L715.3 555.9 L716.2 556.2 L717.2 556.5 L718.1 556.8 L719.0 557.2 L719.9 557.5 L720.9 557.8 L721.8 558.1 L722.7 558.5 L723.6 558.8 L724.6 559.1 L725.5 559.5 L726.4 559.8 L727.3 560.1 L728.2 560.4 L729.2 560.8 L730.1 561.1 L731.0 561.4 L731.9 561.8 L732.9 562.1 L733.8 562.4 L734.7 562.8 L735.6 563.1 L736.6 563.4 L737.5 563.7 L738.4 564.1 L739.3 564.4 L740.3 564.7 L741.2 565.1 L742.1 565.4 L743.0 565.7 L744.0 566.1 L744.9 566.4 L745.8 566.7 L749.5 568.0 L753.2 569.3 L756.9 570.6 L760.6 571.9 L764.3 573.2 L768.0 574.5 L771.7 575.8 L775.4 577.0 L779.1 578.2 L782.8 579.5 L786.4 580.7 L790.1 581.8 L793.8 583.0 L797.5 584.2 L801.2 585.3 L804.9 586.4 L808.6 587.5 L812.3 588.6 L816.0 589.6 L819.7 590.7 L823.4 591.7 L827.1 592.7 L830.8 593.7 L834.5 594.6 L838.2 595.6 L841.9 596.5 L845.6 597.4 L849.3 598.2 L853.0 599.1 L856.6 599.9 L860.3 600.7 L864.0 601.5 L867.7 602.3 L871.4 603.0 L875.1 603.8 L878.8 604.5 L882.5 605.2 L886.2 605.9 L889.9 606.5 L893.6 607.2 L897.3 607.8 L901.0 608.4 L904.7 609.0 L908.4 609.5 L912.1 610.1 L915.8 610.6 L919.5 611.2 L923.2 611.7 L926.9 612.2 L930.5 612.6 L934.2 613.1 L937.9 613.5 L941.6 614.0 L945.3 614.4 L949.0 614.8 L952.7 615.2 L956.4 615.6 L960.1 615.9 L963.8 616.3 L967.5 616.7 L971.2 617.0 L974.9 617.3 L978.6 617.6 L982.3 617.9 L986.0 618.2 L989.7 618.5"/>
</g>
<g clip-path="url(#cpb)" fill="none" stroke-width="9" stroke-linejoin="round" stroke-linecap="round">
<path stroke="#000000" d="M233.7 1003.3 L237.2 1003.3 L240.6 1003.4 L244.1 1003.4 L247.5 1003.5 L250.9 1003.5 L254.4 1003.6 L257.8 1003.7 L261.2 1003.7 L264.7 1003.8 L268.1 1003.9 L271.5 1003.9 L275.0 1004.0 L278.4 1004.1 L281.9 1004.1 L285.3 1004.2 L288.7 1004.3 L292.2 1004.4 L295.6 1004.4 L299.0 1004.5 L302.5 1004.6 L305.9 1004.7 L309.3 1004.8 L312.8 1004.9 L316.2 1005.0 L319.7 1005.1 L323.1 1005.2 L326.5 1005.3 L330.0 1005.4 L333.4 1005.5 L336.8 1005.6 L340.3 1005.7 L343.7 1005.8 L347.1 1005.9 L350.6 1006.1 L354.0 1006.2 L357.5 1006.3 L360.9 1006.5 L364.3 1006.6 L367.8 1006.8 L371.2 1006.9 L374.6 1007.1 L378.1 1007.2 L381.5 1007.4 L384.9 1007.6 L388.4 1007.8 L391.8 1008.0 L395.3 1008.2 L398.7 1008.4 L402.1 1008.7 L405.6 1008.9 L409.0 1009.2 L412.4 1009.5 L415.9 1009.7 L419.3 1010.1 L422.7 1010.4 L426.2 1010.7 L429.6 1011.1 L433.1 1011.5 L436.5 1011.8 L439.9 1012.3 L443.4 1012.7 L446.8 1013.2 L450.2 1013.7 L453.7 1014.2 L457.1 1014.7 L460.5 1015.3 L461.4 1015.4 L462.3 1015.5 L463.1 1015.7 L464.0 1015.8 L464.8 1016.0 L465.7 1016.1 L466.6 1016.3 L467.4 1016.4 L468.3 1016.6 L469.1 1016.8 L470.0 1016.9 L470.9 1017.1 L471.7 1017.3 L472.6 1017.4 L473.4 1017.6 L474.3 1017.8 L475.2 1017.9 L476.0 1018.1 L476.9 1018.3 L477.7 1018.5 L478.6 1018.6 L479.4 1018.8 L480.3 1019.0 L481.2 1019.2 L482.0 1019.4 L482.9 1019.6 L483.7 1019.8 L484.6 1020.0 L485.5 1020.2 L486.3 1020.4 L487.2 1020.6 L488.0 1020.8 L488.9 1021.0 L489.8 1021.2 L490.6 1021.4 L491.5 1021.6 L492.3 1021.9 L493.2 1022.1 L494.1 1022.3 L494.9 1022.5 L495.8 1022.8 L496.6 1023.0 L497.5 1023.3 L498.3 1023.5 L499.2 1023.7 L500.1 1024.0 L500.9 1024.2 L501.8 1024.5 L502.6 1024.8 L503.5 1025.0 L504.4 1025.3 L505.2 1025.6 L506.1 1025.8 L506.9 1026.1 L507.8 1026.4 L508.7 1026.7 L509.5 1027.0 L510.4 1027.3 L511.2 1027.6 L512.1 1027.9 L513.0 1028.2 L513.8 1028.5 L514.7 1028.8 L515.5 1029.1 L516.4 1029.4 L517.2 1029.7 L518.1 1030.0 L519.0 1030.4 L519.8 1030.7 L520.7 1031.0 L521.5 1031.3 L522.4 1031.7 L523.3 1032.0 L524.1 1032.3 L525.0 1032.7 L525.8 1033.0 L526.7 1033.3 L527.6 1033.6 L528.4 1034.0 L529.3 1034.3 L530.1 1034.6 L531.0 1034.9 L531.9 1035.2 L532.7 1035.5 L533.6 1035.8 L534.4 1036.1 L535.3 1036.3 L536.1 1036.6 L537.0 1036.8 L537.9 1037.1 L538.7 1037.3 L539.6 1037.4 L540.4 1037.6 L541.3 1037.7 L542.2 1037.9 L543.0 1037.9 L543.9 1038.0 L544.7 1038.0 L545.6 1038.0 L546.5 1038.0 L547.3 1037.9 L548.2 1037.8 L549.0 1037.6 L549.9 1037.4 L550.8 1037.1 L551.6 1036.8 L552.5 1036.5 L553.3 1036.1 L554.2 1035.7 L555.0 1035.2 L555.9 1034.6 L556.8 1034.0 L557.6 1033.4 L558.5 1032.7 L559.3 1032.0 L560.2 1031.2 L561.1 1030.4 L561.9 1029.5 L562.8 1028.6 L563.6 1027.7 L564.5 1026.7 L565.4 1025.7 L566.2 1024.7 L567.1 1023.6 L567.9 1022.5 L568.8 1021.4 L569.7 1020.3 L570.5 1019.2 L571.4 1018.1 L572.2 1017.0 L573.1 1015.9 L573.9 1014.8 L574.8 1013.7 L575.7 1012.7 L576.5 1011.6 L577.4 1010.6 L578.2 1009.6 L579.1 1008.7 L580.0 1007.8 L580.8 1006.9 L581.7 1006.1 L582.5 1005.3 L583.4 1004.5 L584.3 1003.8 L585.1 1003.2 L586.0 1002.6 L586.8 1002.0 L587.7 1001.5 L588.6 1001.0 L589.4 1000.5 L590.3 1000.1 L591.1 999.7 L592.0 999.4 L592.8 999.0 L593.7 998.8 L594.6 998.5 L595.4 998.2 L596.3 998.0 L597.1 997.7 L598.0 997.5 L598.9 997.3 L599.7 997.0 L600.6 996.8 L601.4 996.5 L602.3 996.2 L603.2 996.0 L604.0 995.6 L604.9 995.3 L605.7 994.9 L606.6 994.5 L607.4 994.0 L608.3 993.5 L609.2 993.0 L610.0 992.4 L610.9 991.8 L611.7 991.2 L612.6 990.5 L613.5 989.7 L614.3 988.9 L615.2 988.1 L616.0 987.2 L616.9 986.3 L617.8 985.4 L618.6 984.4 L619.5 983.4 L620.3 982.3 L621.2 981.3 L622.1 980.2 L622.9 979.1 L623.8 978.0 L624.6 976.9 L625.5 975.8 L626.3 974.7 L627.2 973.6 L628.1 972.5 L628.9 971.4 L629.8 970.3 L630.6 969.3 L631.5 968.3 L632.4 967.3 L633.2 966.4 L634.1 965.5 L634.9 964.6 L635.8 963.8 L636.7 963.0 L637.5 962.3 L638.4 961.6 L639.2 961.0 L640.1 960.4 L641.0 959.8 L641.8 959.3 L642.7 958.9 L643.5 958.5 L644.4 958.2 L645.2 957.9 L646.1 957.6 L647.0 957.4 L647.8 957.2 L648.7 957.1 L649.5 957.0 L650.4 957.0 L651.3 957.0 L652.1 957.0 L653.0 957.1 L653.8 957.1 L654.7 957.3 L655.6 957.4 L656.4 957.6 L657.3 957.7 L658.1 957.9 L659.0 958.2 L659.9 958.4 L660.7 958.7 L661.6 958.9 L662.4 959.2 L663.3 959.5 L664.1 959.8 L665.0 960.1 L665.9 960.4 L666.7 960.7 L667.6 961.0 L668.4 961.4 L669.3 961.7 L670.2 962.0 L671.0 962.3 L671.9 962.7 L672.7 963.0 L673.6 963.3 L674.5 963.7 L675.3 964.0 L676.2 964.3 L677.0 964.6 L677.9 965.0 L678.8 965.3 L679.6 965.6 L680.5 965.9 L681.3 966.2 L682.2 966.5 L683.0 966.8 L683.9 967.1 L684.8 967.4 L685.6 967.7 L686.5 968.0 L687.3 968.3 L688.2 968.6 L689.1 968.9 L689.9 969.2 L690.8 969.4 L691.6 969.7 L692.5 970.0 L693.4 970.2 L694.2 970.5 L695.1 970.8 L695.9 971.0 L696.8 971.3 L697.7 971.5 L698.5 971.7 L699.4 972.0 L700.2 972.2 L701.1 972.5 L701.9 972.7 L702.8 972.9 L703.7 973.1 L704.5 973.4 L705.4 973.6 L706.2 973.8 L707.1 974.0 L708.0 974.2 L708.8 974.4 L709.7 974.6 L710.5 974.8 L711.4 975.0 L712.3 975.2 L713.1 975.4 L714.0 975.6 L714.8 975.8 L715.7 976.0 L716.6 976.2 L717.4 976.4 L718.3 976.5 L719.1 976.7 L720.0 976.9 L720.8 977.1 L721.7 977.2 L722.6 977.4 L723.4 977.6 L724.3 977.7 L725.1 977.9 L726.0 978.1 L726.9 978.2 L727.7 978.4 L728.6 978.6 L729.4 978.7 L730.3 978.9 L731.2 979.0 L732.0 979.2 L732.9 979.3 L733.7 979.5 L734.6 979.6 L735.5 979.7 L738.9 980.3 L742.3 980.8 L745.8 981.3 L749.2 981.8 L752.6 982.3 L756.1 982.7 L759.5 983.2 L762.9 983.5 L766.4 983.9 L769.8 984.3 L773.3 984.6 L776.7 984.9 L780.1 985.3 L783.6 985.5 L787.0 985.8 L790.4 986.1 L793.9 986.3 L797.3 986.6 L800.7 986.8 L804.2 987.0 L807.6 987.2 L811.1 987.4 L814.5 987.6 L817.9 987.8 L821.4 987.9 L824.8 988.1 L828.2 988.2 L831.7 988.4 L835.1 988.5 L838.5 988.7 L842.0 988.8 L845.4 988.9 L848.9 989.1 L852.3 989.2 L855.7 989.3 L859.2 989.4 L862.6 989.5 L866.0 989.6 L869.5 989.7 L872.9 989.8 L876.3 989.9 L879.8 990.0 L883.2 990.1 L886.7 990.2 L890.1 990.3 L893.5 990.4 L897.0 990.5 L900.4 990.6 L903.8 990.6 L907.3 990.7 L910.7 990.8 L914.1 990.9 L917.6 990.9 L921.0 991.0 L924.5 991.1 L927.9 991.1 L931.3 991.2 L934.8 991.3 L938.2 991.3 L941.6 991.4 L945.1 991.5 L948.5 991.5 L951.9 991.6 L955.4 991.6 L958.8 991.7 L962.3 991.7"/>
<path stroke="#ff0000" d="M200.8 1009.1 L204.6 1009.3 L208.3 1009.5 L212.1 1009.6 L215.8 1009.8 L219.6 1010.0 L223.3 1010.2 L227.1 1010.3 L230.8 1010.5 L234.6 1010.7 L238.3 1010.9 L242.1 1011.1 L245.8 1011.3 L249.6 1011.5 L253.3 1011.7 L257.0 1012.0 L260.8 1012.2 L264.5 1012.4 L268.3 1012.6 L272.0 1012.9 L275.8 1013.1 L279.5 1013.4 L283.3 1013.6 L287.0 1013.9 L290.8 1014.1 L294.5 1014.4 L298.3 1014.7 L302.0 1015.0 L305.8 1015.3 L309.5 1015.6 L313.2 1015.9 L317.0 1016.2 L320.7 1016.5 L324.5 1016.8 L328.2 1017.2 L332.0 1017.5 L335.7 1017.9 L339.5 1018.3 L343.2 1018.7 L347.0 1019.0 L350.7 1019.5 L354.5 1019.9 L358.2 1020.3 L362.0 1020.8 L365.7 1021.2 L369.4 1021.7 L373.2 1022.2 L376.9 1022.7 L380.7 1023.3 L384.4 1023.8 L388.2 1024.4 L391.9 1025.0 L395.7 1025.6 L399.4 1026.3 L403.2 1027.0 L406.9 1027.7 L410.7 1028.4 L414.4 1029.2 L418.2 1030.1 L421.9 1030.9 L425.7 1031.8 L429.4 1032.8 L433.1 1033.8 L436.9 1034.9 L440.6 1036.1 L444.4 1037.3 L448.1 1038.6 L449.1 1038.9 L450.0 1039.3 L450.9 1039.6 L451.9 1040.0 L452.8 1040.3 L453.8 1040.7 L454.7 1041.1 L455.6 1041.5 L456.6 1041.8 L457.5 1042.2 L458.4 1042.6 L459.4 1043.0 L460.3 1043.5 L461.2 1043.9 L462.2 1044.3 L463.1 1044.7 L464.1 1045.2 L465.0 1045.6 L465.9 1046.1 L466.9 1046.6 L467.8 1047.1 L468.7 1047.5 L469.7 1048.0 L470.6 1048.5 L471.5 1049.0 L472.5 1049.6 L473.4 1050.1 L474.4 1050.6 L475.3 1051.2 L476.2 1051.7 L477.2 1052.3 L478.1 1052.9 L479.0 1053.5 L480.0 1054.1 L480.9 1054.7 L481.9 1055.3 L482.8 1055.9 L483.7 1056.5 L484.7 1057.1 L485.6 1057.8 L486.5 1058.4 L487.5 1059.1 L488.4 1059.8 L489.3 1060.4 L490.3 1061.1 L491.2 1061.8 L492.2 1062.5 L493.1 1063.2 L494.0 1063.9 L495.0 1064.6 L495.9 1065.3 L496.8 1066.0 L497.8 1066.8 L498.7 1067.5 L499.6 1068.2 L500.6 1068.9 L501.5 1069.6 L502.5 1070.3 L503.4 1071.0 L504.3 1071.7 L505.3 1072.4 L506.2 1073.1 L507.1 1073.8 L508.1 1074.4 L509.0 1075.1 L510.0 1075.7 L510.9 1076.3 L511.8 1076.9 L512.8 1077.5 L513.7 1078.1 L514.6 1078.6 L515.6 1079.1 L516.5 1079.6 L517.4 1080.0 L518.4 1080.5 L519.3 1080.9 L520.3 1081.2 L521.2 1081.5 L522.1 1081.8 L523.1 1082.1 L524.0 1082.3 L524.9 1082.4 L525.9 1082.5 L526.8 1082.6 L527.7 1082.6 L528.7 1082.6 L529.6 1082.5 L530.6 1082.4 L531.5 1082.2 L532.4 1082.0 L533.4 1081.7 L534.3 1081.3 L535.2 1080.9 L536.2 1080.5 L537.1 1080.0 L538.1 1079.4 L539.0 1078.8 L539.9 1078.1 L540.9 1077.4 L541.8 1076.6 L542.7 1075.8 L543.7 1074.9 L544.6 1073.9 L545.5 1072.9 L546.5 1071.9 L547.4 1070.8 L548.4 1069.6 L549.3 1068.4 L550.2 1067.2 L551.2 1065.9 L552.1 1064.6 L553.0 1063.2 L554.0 1061.9 L554.9 1060.4 L555.8 1059.0 L556.8 1057.5 L557.7 1056.0 L558.7 1054.4 L559.6 1052.8 L560.5 1051.3 L561.5 1049.7 L562.4 1048.1 L563.3 1046.4 L564.3 1044.8 L565.2 1043.2 L566.2 1041.5 L567.1 1039.9 L568.0 1038.3 L569.0 1036.6 L569.9 1035.0 L570.8 1033.4 L571.8 1031.8 L572.7 1030.2 L573.6 1028.7 L574.6 1027.1 L575.5 1025.6 L576.5 1024.1 L577.4 1022.7 L578.3 1021.2 L579.3 1019.8 L580.2 1018.4 L581.1 1017.1 L582.1 1015.8 L583.0 1014.5 L583.9 1013.2 L584.9 1012.0 L585.8 1010.8 L586.8 1009.7 L587.7 1008.5 L588.6 1007.4 L589.6 1006.4 L590.5 1005.3 L591.4 1004.3 L592.4 1003.3 L593.3 1002.3 L594.3 1001.3 L595.2 1000.3 L596.1 999.4 L597.1 998.4 L598.0 997.5 L598.9 996.6 L599.9 995.6 L600.8 994.7 L601.7 993.7 L602.7 992.7 L603.6 991.7 L604.6 990.7 L605.5 989.7 L606.4 988.6 L607.4 987.6 L608.3 986.5 L609.2 985.3 L610.2 984.2 L611.1 983.0 L612.1 981.8 L613.0 980.5 L613.9 979.2 L614.9 977.9 L615.8 976.6 L616.7 975.2 L617.7 973.8 L618.6 972.3 L619.5 970.9 L620.5 969.4 L621.4 967.9 L622.4 966.3 L623.3 964.8 L624.2 963.2 L625.2 961.6 L626.1 960.0 L627.0 958.4 L628.0 956.7 L628.9 955.1 L629.8 953.5 L630.8 951.8 L631.7 950.2 L632.7 948.6 L633.6 946.9 L634.5 945.3 L635.5 943.7 L636.4 942.2 L637.3 940.6 L638.3 939.0 L639.2 937.5 L640.2 936.0 L641.1 934.6 L642.0 933.1 L643.0 931.8 L643.9 930.4 L644.8 929.1 L645.8 927.8 L646.7 926.6 L647.6 925.4 L648.6 924.2 L649.5 923.1 L650.5 922.1 L651.4 921.1 L652.3 920.1 L653.3 919.2 L654.2 918.4 L655.1 917.6 L656.1 916.9 L657.0 916.2 L657.9 915.6 L658.9 915.0 L659.8 914.5 L660.8 914.1 L661.7 913.7 L662.6 913.3 L663.6 913.0 L664.5 912.8 L665.4 912.6 L666.4 912.5 L667.3 912.4 L668.3 912.4 L669.2 912.4 L670.1 912.5 L671.1 912.6 L672.0 912.7 L672.9 912.9 L673.9 913.2 L674.8 913.5 L675.7 913.8 L676.7 914.1 L677.6 914.5 L678.6 915.0 L679.5 915.4 L680.4 915.9 L681.4 916.4 L682.3 916.9 L683.2 917.5 L684.2 918.1 L685.1 918.7 L686.0 919.3 L687.0 919.9 L687.9 920.6 L688.9 921.2 L689.8 921.9 L690.7 922.6 L691.7 923.3 L692.6 924.0 L693.5 924.7 L694.5 925.4 L695.4 926.1 L696.4 926.8 L697.3 927.5 L698.2 928.2 L699.2 929.0 L700.1 929.7 L701.0 930.4 L702.0 931.1 L702.9 931.8 L703.8 932.5 L704.8 933.2 L705.7 933.9 L706.7 934.6 L707.6 935.2 L708.5 935.9 L709.5 936.6 L710.4 937.2 L711.3 937.9 L712.3 938.5 L713.2 939.1 L714.1 939.7 L715.1 940.3 L716.0 940.9 L717.0 941.5 L717.9 942.1 L718.8 942.7 L719.8 943.3 L720.7 943.8 L721.6 944.4 L722.6 944.9 L723.5 945.4 L724.5 946.0 L725.4 946.5 L726.3 947.0 L727.3 947.5 L728.2 947.9 L729.1 948.4 L730.1 948.9 L731.0 949.4 L731.9 949.8 L732.9 950.3 L733.8 950.7 L734.8 951.1 L735.7 951.5 L736.6 952.0 L737.6 952.4 L738.5 952.8 L739.4 953.2 L740.4 953.5 L741.3 953.9 L742.2 954.3 L743.2 954.7 L744.1 955.0 L745.1 955.4 L746.0 955.7 L746.9 956.1 L747.9 956.4 L751.6 957.7 L755.4 958.9 L759.1 960.1 L762.9 961.2 L766.6 962.2 L770.3 963.2 L774.1 964.1 L777.8 964.9 L781.6 965.8 L785.3 966.6 L789.1 967.3 L792.8 968.0 L796.6 968.7 L800.3 969.4 L804.1 970.0 L807.8 970.6 L811.6 971.2 L815.3 971.7 L819.1 972.3 L822.8 972.8 L826.6 973.3 L830.3 973.8 L834.0 974.2 L837.8 974.7 L841.5 975.1 L845.3 975.5 L849.0 976.0 L852.8 976.3 L856.5 976.7 L860.3 977.1 L864.0 977.5 L867.8 977.8 L871.5 978.2 L875.3 978.5 L879.0 978.8 L882.8 979.1 L886.5 979.4 L890.2 979.7 L894.0 980.0 L897.7 980.3 L901.5 980.6 L905.2 980.9 L909.0 981.1 L912.7 981.4 L916.5 981.6 L920.2 981.9 L924.0 982.1 L927.7 982.4 L931.5 982.6 L935.2 982.8 L939.0 983.0 L942.7 983.3 L946.4 983.5 L950.2 983.7 L953.9 983.9 L957.7 984.1 L961.4 984.3 L965.2 984.5 L968.9 984.7 L972.7 984.8 L976.4 985.0 L980.2 985.2 L983.9 985.4 L987.7 985.5 L991.4 985.7 L995.2 985.9"/>
<path stroke="#00ff00" d="M206.3 1016.6 L210.0 1016.9 L213.7 1017.1 L217.4 1017.4 L221.1 1017.6 L224.8 1017.9 L228.5 1018.2 L232.2 1018.5 L235.9 1018.7 L239.6 1019.0 L243.3 1019.3 L247.0 1019.6 L250.7 1019.9 L254.4 1020.2 L258.1 1020.6 L261.8 1020.9 L265.4 1021.2 L269.1 1021.6 L272.8 1021.9 L276.5 1022.3 L280.2 1022.7 L283.9 1023.1 L287.6 1023.5 L291.3 1023.9 L295.0 1024.3 L298.7 1024.7 L302.4 1025.2 L306.1 1025.6 L309.8 1026.1 L313.5 1026.6 L317.2 1027.1 L320.9 1027.6 L324.6 1028.1 L328.3 1028.7 L332.0 1029.2 L335.7 1029.8 L339.4 1030.4 L343.0 1031.0 L346.7 1031.7 L350.4 1032.4 L354.1 1033.1 L357.8 1033.8 L361.5 1034.6 L365.2 1035.4 L368.9 1036.3 L372.6 1037.2 L376.3 1038.1 L380.0 1039.1 L383.7 1040.1 L387.4 1041.2 L391.1 1042.4 L394.8 1043.6 L398.5 1044.9 L402.2 1046.3 L405.9 1047.7 L409.6 1049.3 L413.2 1051.0 L416.9 1052.8 L420.6 1054.7 L424.3 1056.8 L428.0 1059.0 L431.7 1061.3 L435.4 1063.8 L439.1 1066.5 L442.8 1069.3 L446.5 1072.3 L450.2 1075.5 L451.1 1076.3 L452.0 1077.1 L453.0 1078.0 L453.9 1078.8 L454.8 1079.7 L455.7 1080.5 L456.7 1081.4 L457.6 1082.3 L458.5 1083.2 L459.4 1084.1 L460.4 1085.0 L461.3 1085.9 L462.2 1086.8 L463.1 1087.7 L464.1 1088.6 L465.0 1089.5 L465.9 1090.5 L466.8 1091.4 L467.8 1092.3 L468.7 1093.2 L469.6 1094.2 L470.5 1095.1 L471.4 1096.0 L472.4 1097.0 L473.3 1097.9 L474.2 1098.8 L475.1 1099.7 L476.1 1100.6 L477.0 1101.5 L477.9 1102.4 L478.8 1103.3 L479.8 1104.2 L480.7 1105.0 L481.6 1105.9 L482.5 1106.7 L483.5 1107.5 L484.4 1108.3 L485.3 1109.1 L486.2 1109.9 L487.1 1110.6 L488.1 1111.4 L489.0 1112.1 L489.9 1112.7 L490.8 1113.4 L491.8 1114.0 L492.7 1114.6 L493.6 1115.2 L494.5 1115.7 L495.5 1116.2 L496.4 1116.7 L497.3 1117.2 L498.2 1117.6 L499.2 1118.0 L500.1 1118.3 L501.0 1118.6 L501.9 1118.9 L502.9 1119.1 L503.8 1119.3 L504.7 1119.4 L505.6 1119.6 L506.5 1119.6 L507.5 1119.7 L508.4 1119.6 L509.3 1119.6 L510.2 1119.5 L511.2 1119.3 L512.1 1119.1 L513.0 1118.9 L513.9 1118.6 L514.9 1118.3 L515.8 1117.9 L516.7 1117.5 L517.6 1117.1 L518.6 1116.6 L519.5 1116.0 L520.4 1115.4 L521.3 1114.8 L522.3 1114.1 L523.2 1113.4 L524.1 1112.6 L525.0 1111.8 L525.9 1111.0 L526.9 1110.1 L527.8 1109.2 L528.7 1108.2 L529.6 1107.2 L530.6 1106.1 L531.5 1105.1 L532.4 1103.9 L533.3 1102.8 L534.3 1101.6 L535.2 1100.4 L536.1 1099.1 L537.0 1097.8 L538.0 1096.5 L538.9 1095.1 L539.8 1093.7 L540.7 1092.3 L541.7 1090.9 L542.6 1089.4 L543.5 1088.0 L544.4 1086.4 L545.3 1084.9 L546.3 1083.4 L547.2 1081.8 L548.1 1080.2 L549.0 1078.6 L550.0 1077.0 L550.9 1075.3 L551.8 1073.7 L552.7 1072.0 L553.7 1070.4 L554.6 1068.7 L555.5 1067.0 L556.4 1065.3 L557.4 1063.6 L558.3 1061.9 L559.2 1060.2 L560.1 1058.5 L561.0 1056.8 L562.0 1055.1 L562.9 1053.4 L563.8 1051.7 L564.7 1050.0 L565.7 1048.3 L566.6 1046.7 L567.5 1045.0 L568.4 1043.3 L569.4 1041.7 L570.3 1040.0 L571.2 1038.4 L572.1 1036.8 L573.1 1035.2 L574.0 1033.6 L574.9 1032.0 L575.8 1030.5 L576.8 1028.9 L577.7 1027.4 L578.6 1025.9 L579.5 1024.4 L580.4 1022.9 L581.4 1021.5 L582.3 1020.0 L583.2 1018.6 L584.1 1017.2 L585.1 1015.8 L586.0 1014.4 L586.9 1013.1 L587.8 1011.7 L588.8 1010.4 L589.7 1009.1 L590.6 1007.7 L591.5 1006.4 L592.5 1005.1 L593.4 1003.9 L594.3 1002.6 L595.2 1001.3 L596.2 1000.0 L597.1 998.8 L598.0 997.5 L598.9 996.2 L599.8 995.0 L600.8 993.7 L601.7 992.4 L602.6 991.1 L603.5 989.9 L604.5 988.6 L605.4 987.3 L606.3 985.9 L607.2 984.6 L608.2 983.3 L609.1 981.9 L610.0 980.6 L610.9 979.2 L611.9 977.8 L612.8 976.4 L613.7 975.0 L614.6 973.5 L615.6 972.1 L616.5 970.6 L617.4 969.1 L618.3 967.6 L619.2 966.1 L620.2 964.5 L621.1 963.0 L622.0 961.4 L622.9 959.8 L623.9 958.2 L624.8 956.6 L625.7 955.0 L626.6 953.3 L627.6 951.7 L628.5 950.0 L629.4 948.3 L630.3 946.7 L631.3 945.0 L632.2 943.3 L633.1 941.6 L634.0 939.9 L635.0 938.2 L635.9 936.5 L636.8 934.8 L637.7 933.1 L638.6 931.4 L639.6 929.7 L640.5 928.0 L641.4 926.3 L642.3 924.6 L643.3 923.0 L644.2 921.3 L645.1 919.7 L646.0 918.0 L647.0 916.4 L647.9 914.8 L648.8 913.2 L649.7 911.6 L650.7 910.1 L651.6 908.6 L652.5 907.0 L653.4 905.6 L654.3 904.1 L655.3 902.7 L656.2 901.3 L657.1 899.9 L658.0 898.5 L659.0 897.2 L659.9 895.9 L660.8 894.6 L661.7 893.4 L662.7 892.2 L663.6 891.1 L664.5 889.9 L665.4 888.9 L666.4 887.8 L667.3 886.8 L668.2 885.8 L669.1 884.9 L670.1 884.0 L671.0 883.2 L671.9 882.4 L672.8 881.6 L673.7 880.9 L674.7 880.2 L675.6 879.6 L676.5 879.0 L677.4 878.4 L678.4 877.9 L679.3 877.5 L680.2 877.1 L681.1 876.7 L682.1 876.4 L683.0 876.1 L683.9 875.9 L684.8 875.7 L685.8 875.5 L686.7 875.4 L687.6 875.4 L688.5 875.3 L689.5 875.4 L690.4 875.4 L691.3 875.6 L692.2 875.7 L693.1 875.9 L694.1 876.1 L695.0 876.4 L695.9 876.7 L696.8 877.0 L697.8 877.4 L698.7 877.8 L699.6 878.3 L700.5 878.8 L701.5 879.3 L702.4 879.8 L703.3 880.4 L704.2 881.0 L705.2 881.6 L706.1 882.3 L707.0 882.9 L707.9 883.6 L708.9 884.4 L709.8 885.1 L710.7 885.9 L711.6 886.7 L712.5 887.5 L713.5 888.3 L714.4 889.1 L715.3 890.0 L716.2 890.8 L717.2 891.7 L718.1 892.6 L719.0 893.5 L719.9 894.4 L720.9 895.3 L721.8 896.2 L722.7 897.1 L723.6 898.0 L724.6 899.0 L725.5 899.9 L726.4 900.8 L727.3 901.8 L728.2 902.7 L729.2 903.6 L730.1 904.5 L731.0 905.5 L731.9 906.4 L732.9 907.3 L733.8 908.2 L734.7 909.1 L735.6 910.0 L736.6 910.9 L737.5 911.8 L738.4 912.7 L739.3 913.6 L740.3 914.5 L741.2 915.3 L742.1 916.2 L743.0 917.0 L744.0 917.9 L744.9 918.7 L745.8 919.5 L749.5 922.7 L753.2 925.7 L756.9 928.5 L760.6 931.2 L764.3 933.7 L768.0 936.0 L771.7 938.2 L775.4 940.3 L779.1 942.2 L782.8 944.0 L786.4 945.7 L790.1 947.3 L793.8 948.7 L797.5 950.1 L801.2 951.4 L804.9 952.6 L808.6 953.8 L812.3 954.9 L816.0 955.9 L819.7 956.9 L823.4 957.8 L827.1 958.7 L830.8 959.6 L834.5 960.4 L838.2 961.2 L841.9 961.9 L845.6 962.6 L849.3 963.3 L853.0 964.0 L856.6 964.6 L860.3 965.2 L864.0 965.8 L867.7 966.3 L871.4 966.9 L875.1 967.4 L878.8 967.9 L882.5 968.4 L886.2 968.9 L889.9 969.4 L893.6 969.8 L897.3 970.3 L901.0 970.7 L904.7 971.1 L908.4 971.5 L912.1 971.9 L915.8 972.3 L919.5 972.7 L923.2 973.1 L926.9 973.4 L930.5 973.8 L934.2 974.1 L937.9 974.4 L941.6 974.8 L945.3 975.1 L949.0 975.4 L952.7 975.7 L956.4 976.0 L960.1 976.3 L963.8 976.5 L967.5 976.8 L971.2 977.1 L974.9 977.4 L978.6 977.6 L982.3 977.9 L986.0 978.1 L989.7 978.4"/>
<path stroke="#0000ff" d="M214.2 1023.1 L217.8 1023.5 L221.4 1023.9 L225.0 1024.2 L228.6 1024.6 L232.3 1025.1 L235.9 1025.5 L239.5 1025.9 L243.1 1026.3 L246.8 1026.8 L250.4 1027.2 L254.0 1027.7 L257.6 1028.2 L261.2 1028.7 L264.9 1029.2 L268.5 1029.7 L272.1 1030.2 L275.7 1030.8 L279.3 1031.4 L283.0 1031.9 L286.6 1032.5 L290.2 1033.2 L293.8 1033.8 L297.4 1034.5 L301.1 1035.2 L304.7 1035.9 L308.3 1036.7 L311.9 1037.4 L315.6 1038.2 L319.2 1039.1 L322.8 1040.0 L326.4 1040.9 L330.0 1041.9 L333.7 1042.9 L337.3 1044.0 L340.9 1045.1 L344.5 1046.3 L348.1 1047.5 L351.8 1048.9 L355.4 1050.3 L359.0 1051.8 L362.6 1053.4 L366.2 1055.1 L369.9 1056.9 L373.5 1058.8 L377.1 1060.8 L380.7 1063.0 L384.4 1065.3 L388.0 1067.7 L391.6 1070.4 L395.2 1073.1 L398.8 1076.1 L402.5 1079.2 L406.1 1082.5 L409.7 1086.0 L413.3 1089.6 L416.9 1093.4 L420.6 1097.3 L424.2 1101.4 L427.8 1105.6 L431.4 1109.9 L435.1 1114.3 L438.7 1118.6 L442.3 1123.0 L445.9 1127.2 L449.5 1131.4 L453.2 1135.4 L454.1 1136.3 L455.0 1137.3 L455.9 1138.2 L456.8 1139.2 L457.7 1140.0 L458.6 1140.9 L459.5 1141.8 L460.4 1142.6 L461.3 1143.5 L462.2 1144.3 L463.1 1145.0 L464.0 1145.8 L464.9 1146.5 L465.8 1147.2 L466.7 1147.9 L467.6 1148.6 L468.5 1149.2 L469.5 1149.8 L470.4 1150.4 L471.3 1150.9 L472.2 1151.4 L473.1 1151.9 L474.0 1152.3 L474.9 1152.8 L475.8 1153.2 L476.7 1153.5 L477.6 1153.8 L478.5 1154.1 L479.4 1154.4 L480.3 1154.6 L481.2 1154.8 L482.1 1154.9 L483.0 1155.1 L483.9 1155.2 L484.8 1155.2 L485.7 1155.2 L486.7 1155.2 L487.6 1155.1 L488.5 1155.0 L489.4 1154.9 L490.3 1154.7 L491.2 1154.5 L492.1 1154.3 L493.0 1154.0 L493.9 1153.7 L494.8 1153.4 L495.7 1153.0 L496.6 1152.6 L497.5 1152.1 L498.4 1151.6 L499.3 1151.1 L500.2 1150.5 L501.1 1149.9 L502.0 1149.3 L502.9 1148.6 L503.9 1147.9 L504.8 1147.2 L505.7 1146.4 L506.6 1145.6 L507.5 1144.8 L508.4 1144.0 L509.3 1143.1 L510.2 1142.2 L511.1 1141.2 L512.0 1140.2 L512.9 1139.2 L513.8 1138.2 L514.7 1137.1 L515.6 1136.0 L516.5 1134.9 L517.4 1133.7 L518.3 1132.6 L519.2 1131.4 L520.1 1130.1 L521.1 1128.9 L522.0 1127.6 L522.9 1126.3 L523.8 1125.0 L524.7 1123.7 L525.6 1122.3 L526.5 1120.9 L527.4 1119.5 L528.3 1118.1 L529.2 1116.7 L530.1 1115.2 L531.0 1113.8 L531.9 1112.3 L532.8 1110.8 L533.7 1109.3 L534.6 1107.7 L535.5 1106.2 L536.4 1104.6 L537.3 1103.1 L538.3 1101.5 L539.2 1099.9 L540.1 1098.3 L541.0 1096.7 L541.9 1095.0 L542.8 1093.4 L543.7 1091.8 L544.6 1090.1 L545.5 1088.5 L546.4 1086.8 L547.3 1085.1 L548.2 1083.5 L549.1 1081.8 L550.0 1080.1 L550.9 1078.4 L551.8 1076.8 L552.7 1075.1 L553.6 1073.4 L554.5 1071.7 L555.5 1070.0 L556.4 1068.3 L557.3 1066.7 L558.2 1065.0 L559.1 1063.3 L560.0 1061.6 L560.9 1060.0 L561.8 1058.3 L562.7 1056.6 L563.6 1055.0 L564.5 1053.3 L565.4 1051.7 L566.3 1050.0 L567.2 1048.4 L568.1 1046.8 L569.0 1045.2 L569.9 1043.6 L570.8 1042.0 L571.7 1040.4 L572.7 1038.8 L573.6 1037.2 L574.5 1035.6 L575.4 1034.1 L576.3 1032.5 L577.2 1031.0 L578.1 1029.4 L579.0 1027.9 L579.9 1026.4 L580.8 1024.9 L581.7 1023.4 L582.6 1021.9 L583.5 1020.4 L584.4 1018.9 L585.3 1017.5 L586.2 1016.0 L587.1 1014.6 L588.0 1013.1 L588.9 1011.7 L589.9 1010.2 L590.8 1008.8 L591.7 1007.4 L592.6 1006.0 L593.5 1004.6 L594.4 1003.1 L595.3 1001.7 L596.2 1000.3 L597.1 998.9 L598.0 997.5 L598.9 996.1 L599.8 994.7 L600.7 993.3 L601.6 991.9 L602.5 990.4 L603.4 989.0 L604.3 987.6 L605.2 986.2 L606.1 984.8 L607.1 983.3 L608.0 981.9 L608.9 980.4 L609.8 979.0 L610.7 977.5 L611.6 976.1 L612.5 974.6 L613.4 973.1 L614.3 971.6 L615.2 970.1 L616.1 968.6 L617.0 967.1 L617.9 965.6 L618.8 964.0 L619.7 962.5 L620.6 960.9 L621.5 959.4 L622.4 957.8 L623.3 956.2 L624.3 954.6 L625.2 953.0 L626.1 951.4 L627.0 949.8 L627.9 948.2 L628.8 946.6 L629.7 945.0 L630.6 943.3 L631.5 941.7 L632.4 940.0 L633.3 938.4 L634.2 936.7 L635.1 935.0 L636.0 933.4 L636.9 931.7 L637.8 930.0 L638.7 928.3 L639.6 926.7 L640.5 925.0 L641.5 923.3 L642.4 921.6 L643.3 919.9 L644.2 918.2 L645.1 916.6 L646.0 914.9 L646.9 913.2 L647.8 911.5 L648.7 909.9 L649.6 908.2 L650.5 906.5 L651.4 904.9 L652.3 903.2 L653.2 901.6 L654.1 900.0 L655.0 898.3 L655.9 896.7 L656.8 895.1 L657.7 893.5 L658.7 891.9 L659.6 890.4 L660.5 888.8 L661.4 887.3 L662.3 885.7 L663.2 884.2 L664.1 882.7 L665.0 881.2 L665.9 879.8 L666.8 878.3 L667.7 876.9 L668.6 875.5 L669.5 874.1 L670.4 872.7 L671.3 871.3 L672.2 870.0 L673.1 868.7 L674.0 867.4 L674.9 866.1 L675.9 864.9 L676.8 863.6 L677.7 862.4 L678.6 861.3 L679.5 860.1 L680.4 859.0 L681.3 857.9 L682.2 856.8 L683.1 855.8 L684.0 854.8 L684.9 853.8 L685.8 852.8 L686.7 851.9 L687.6 851.0 L688.5 850.2 L689.4 849.4 L690.3 848.6 L691.2 847.8 L692.1 847.1 L693.1 846.4 L694.0 845.7 L694.9 845.1 L695.8 844.5 L696.7 843.9 L697.6 843.4 L698.5 842.9 L699.4 842.4 L700.3 842.0 L701.2 841.6 L702.1 841.3 L703.0 841.0 L703.9 840.7 L704.8 840.5 L705.7 840.3 L706.6 840.1 L707.5 840.0 L708.4 839.9 L709.3 839.8 L710.3 839.8 L711.2 839.8 L712.1 839.8 L713.0 839.9 L713.9 840.1 L714.8 840.2 L715.7 840.4 L716.6 840.6 L717.5 840.9 L718.4 841.2 L719.3 841.5 L720.2 841.8 L721.1 842.2 L722.0 842.7 L722.9 843.1 L723.8 843.6 L724.7 844.1 L725.6 844.6 L726.5 845.2 L727.5 845.8 L728.4 846.4 L729.3 847.1 L730.2 847.8 L731.1 848.5 L732.0 849.2 L732.9 850.0 L733.8 850.7 L734.7 851.5 L735.6 852.4 L736.5 853.2 L737.4 854.1 L738.3 855.0 L739.2 855.8 L740.1 856.8 L741.0 857.7 L741.9 858.7 L742.8 859.6 L746.5 863.6 L750.1 867.8 L753.7 872.0 L757.3 876.4 L760.9 880.7 L764.6 885.1 L768.2 889.4 L771.8 893.6 L775.4 897.7 L779.1 901.6 L782.7 905.4 L786.3 909.0 L789.9 912.5 L793.5 915.8 L797.2 918.9 L800.8 921.9 L804.4 924.6 L808.0 927.3 L811.6 929.7 L815.3 932.0 L818.9 934.2 L822.5 936.2 L826.1 938.1 L829.8 939.9 L833.4 941.6 L837.0 943.2 L840.6 944.7 L844.2 946.1 L847.9 947.5 L851.5 948.7 L855.1 949.9 L858.7 951.0 L862.3 952.1 L866.0 953.1 L869.6 954.1 L873.2 955.0 L876.8 955.9 L880.4 956.8 L884.1 957.6 L887.7 958.3 L891.3 959.1 L894.9 959.8 L898.6 960.5 L902.2 961.2 L905.8 961.8 L909.4 962.5 L913.0 963.1 L916.7 963.6 L920.3 964.2 L923.9 964.8 L927.5 965.3 L931.1 965.8 L934.8 966.3 L938.4 966.8 L942.0 967.3 L945.6 967.8 L949.2 968.2 L952.9 968.7 L956.5 969.1 L960.1 969.5 L963.7 969.9 L967.4 970.4 L971.0 970.8 L974.6 971.1 L978.2 971.5 L981.8 971.9"/>
<path stroke="#008000" d="M206.3 1215.6 L210.0 1213.5 L213.7 1211.4 L217.4 1209.3 L221.1 1207.3 L224.8 1205.2 L228.5 1203.1 L232.2 1201.0 L235.9 1198.9 L239.6 1196.8 L243.3 1194.7 L247.0 1192.7 L250.7 1190.6 L254.4 1188.5 L258.1 1186.4 L261.8 1184.3 L265.4 1182.2 L269.1 1180.1 L272.8 1178.1 L276.5 1176.0 L280.2 1173.9 L283.9 1171.8 L287.6 1169.7 L291.3 1167.6 L295.0 1165.6 L298.7 1163.5 L302.4 1161.4 L306.1 1159.3 L309.8 1157.2 L313.5 1155.2 L317.2 1153.1 L320.9 1151.0 L324.6 1148.9 L328.3 1146.9 L332.0 1144.8 L335.7 1142.7 L339.4 1140.6 L343.0 1138.6 L346.7 1136.5 L350.4 1134.4 L354.1 1132.3 L357.8 1130.3 L361.5 1128.2 L365.2 1126.1 L368.9 1124.1 L372.6 1122.0 L376.3 1119.9 L380.0 1117.9 L383.7 1115.8 L387.4 1113.7 L391.1 1111.7 L394.8 1109.6 L398.5 1107.5 L402.2 1105.5 L405.9 1103.4 L409.6 1101.4 L413.2 1099.3 L416.9 1097.2 L420.6 1095.2 L424.3 1093.1 L428.0 1091.1 L431.7 1089.0 L435.4 1087.0 L439.1 1084.9 L442.8 1082.9 L446.5 1080.8 L450.2 1078.8 L451.1 1078.3 L452.0 1077.7 L453.0 1077.2 L453.9 1076.7 L454.8 1076.2 L455.7 1075.7 L456.7 1075.2 L457.6 1074.7 L458.5 1074.2 L459.4 1073.7 L460.4 1073.1 L461.3 1072.6 L462.2 1072.1 L463.1 1071.6 L464.1 1071.1 L465.0 1070.6 L465.9 1070.1 L466.8 1069.6 L467.8 1069.1 L468.7 1068.5 L469.6 1068.0 L470.5 1067.5 L471.4 1067.0 L472.4 1066.5 L473.3 1066.0 L474.2 1065.5 L475.1 1065.0 L476.1 1064.5 L477.0 1063.9 L477.9 1063.4 L478.8 1062.9 L479.8 1062.4 L480.7 1061.9 L481.6 1061.4 L482.5 1060.9 L483.5 1060.4 L484.4 1059.9 L485.3 1059.4 L486.2 1058.8 L487.1 1058.3 L488.1 1057.8 L489.0 1057.3 L489.9 1056.8 L490.8 1056.3 L491.8 1055.8 L492.7 1055.3 L493.6 1054.8 L494.5 1054.3 L495.5 1053.8 L496.4 1053.2 L497.3 1052.7 L498.2 1052.2 L499.2 1051.7 L500.1 1051.2 L501.0 1050.7 L501.9 1050.2 L502.9 1049.7 L503.8 1049.2 L504.7 1048.7 L505.6 1048.2 L506.5 1047.7 L507.5 1047.1 L508.4 1046.6 L509.3 1046.1 L510.2 1045.6 L511.2 1045.1 L512.1 1044.6 L513.0 1044.1 L513.9 1043.6 L514.9 1043.1 L515.8 1042.6 L516.7 1042.1 L517.6 1041.6 L518.6 1041.0 L519.5 1040.5 L520.4 1040.0 L521.3 1039.5 L522.3 1039.0 L523.2 1038.5 L524.1 1038.0 L525.0 1037.5 L525.9 1037.0 L526.9 1036.5 L527.8 1036.0 L528.7 1035.5 L529.6 1035.0 L530.6 1034.4 L531.5 1033.9 L532.4 1033.4 L533.3 1032.9 L534.3 1032.4 L535.2 1031.9 L536.1 1031.4 L537.0 1030.9 L538.0 1030.4 L538.9 1029.9 L539.8 1029.4 L540.7 1028.9 L541.7 1028.4 L542.6 1027.9 L543.5 1027.4 L544.4 1026.8 L545.3 1026.3 L546.3 1025.8 L547.2 1025.3 L548.1 1024.8 L549.0 1024.3 L550.0 1023.8 L550.9 1023.3 L551.8 1022.8 L552.7 1022.3 L553.7 1021.8 L554.6 1021.3 L555.5 1020.8 L556.4 1020.3 L557.4 1019.8 L558.3 1019.2 L559.2 1018.7 L560.1 1018.2 L561.0 1017.7 L562.0 1017.2 L562.9 1016.7 L563.8 1016.2 L564.7 1015.7 L565.7 1015.2 L566.6 1014.7 L567.5 1014.2 L568.4 1013.7 L569.4 1013.2 L570.3 1012.7 L571.2 1012.2 L572.1 1011.7 L573.1 1011.2 L574.0 1010.6 L574.9 1010.1 L575.8 1009.6 L576.8 1009.1 L577.7 1008.6 L578.6 1008.1 L579.5 1007.6 L580.4 1007.1 L581.4 1006.6 L582.3 1006.1 L583.2 1005.6 L584.1 1005.1 L585.1 1004.6 L586.0 1004.1 L586.9 1003.6 L587.8 1003.1 L588.8 1002.6 L589.7 1002.1 L590.6 1001.5 L591.5 1001.0 L592.5 1000.5 L593.4 1000.0 L594.3 999.5 L595.2 999.0 L596.2 998.5 L597.1 998.0 L598.0 997.5 L598.9 997.0 L599.8 996.5 L600.8 996.0 L601.7 995.5 L602.6 995.0 L603.5 994.5 L604.5 994.0 L605.4 993.5 L606.3 992.9 L607.2 992.4 L608.2 991.9 L609.1 991.4 L610.0 990.9 L610.9 990.4 L611.9 989.9 L612.8 989.4 L613.7 988.9 L614.6 988.4 L615.6 987.9 L616.5 987.4 L617.4 986.9 L618.3 986.4 L619.2 985.9 L620.2 985.4 L621.1 984.9 L622.0 984.4 L622.9 983.8 L623.9 983.3 L624.8 982.8 L625.7 982.3 L626.6 981.8 L627.6 981.3 L628.5 980.8 L629.4 980.3 L630.3 979.8 L631.3 979.3 L632.2 978.8 L633.1 978.3 L634.0 977.8 L635.0 977.3 L635.9 976.8 L636.8 976.3 L637.7 975.8 L638.6 975.2 L639.6 974.7 L640.5 974.2 L641.4 973.7 L642.3 973.2 L643.3 972.7 L644.2 972.2 L645.1 971.7 L646.0 971.2 L647.0 970.7 L647.9 970.2 L648.8 969.7 L649.7 969.2 L650.7 968.7 L651.6 968.2 L652.5 967.6 L653.4 967.1 L654.3 966.6 L655.3 966.1 L656.2 965.6 L657.1 965.1 L658.0 964.6 L659.0 964.1 L659.9 963.6 L660.8 963.1 L661.7 962.6 L662.7 962.1 L663.6 961.6 L664.5 961.1 L665.4 960.6 L666.4 960.0 L667.3 959.5 L668.2 959.0 L669.1 958.5 L670.1 958.0 L671.0 957.5 L671.9 957.0 L672.8 956.5 L673.7 956.0 L674.7 955.5 L675.6 955.0 L676.5 954.5 L677.4 954.0 L678.4 953.4 L679.3 952.9 L680.2 952.4 L681.1 951.9 L682.1 951.4 L683.0 950.9 L683.9 950.4 L684.8 949.9 L685.8 949.4 L686.7 948.9 L687.6 948.4 L688.5 947.9 L689.5 947.3 L690.4 946.8 L691.3 946.3 L692.2 945.8 L693.1 945.3 L694.1 944.8 L695.0 944.3 L695.9 943.8 L696.8 943.3 L697.8 942.8 L698.7 942.3 L699.6 941.8 L700.5 941.2 L701.5 940.7 L702.4 940.2 L703.3 939.7 L704.2 939.2 L705.2 938.7 L706.1 938.2 L707.0 937.7 L707.9 937.2 L708.9 936.7 L709.8 936.2 L710.7 935.6 L711.6 935.1 L712.5 934.6 L713.5 934.1 L714.4 933.6 L715.3 933.1 L716.2 932.6 L717.2 932.1 L718.1 931.6 L719.0 931.1 L719.9 930.5 L720.9 930.0 L721.8 929.5 L722.7 929.0 L723.6 928.5 L724.6 928.0 L725.5 927.5 L726.4 927.0 L727.3 926.5 L728.2 925.9 L729.2 925.4 L730.1 924.9 L731.0 924.4 L731.9 923.9 L732.9 923.4 L733.8 922.9 L734.7 922.4 L735.6 921.9 L736.6 921.3 L737.5 920.8 L738.4 920.3 L739.3 919.8 L740.3 919.3 L741.2 918.8 L742.1 918.3 L743.0 917.8 L744.0 917.3 L744.9 916.7 L745.8 916.2 L749.5 914.2 L753.2 912.1 L756.9 910.1 L760.6 908.0 L764.3 906.0 L768.0 903.9 L771.7 901.9 L775.4 899.8 L779.1 897.8 L782.8 895.7 L786.4 893.6 L790.1 891.6 L793.8 889.5 L797.5 887.5 L801.2 885.4 L804.9 883.3 L808.6 881.3 L812.3 879.2 L816.0 877.1 L819.7 875.1 L823.4 873.0 L827.1 870.9 L830.8 868.9 L834.5 866.8 L838.2 864.7 L841.9 862.7 L845.6 860.6 L849.3 858.5 L853.0 856.4 L856.6 854.4 L860.3 852.3 L864.0 850.2 L867.7 848.1 L871.4 846.1 L875.1 844.0 L878.8 841.9 L882.5 839.8 L886.2 837.8 L889.9 835.7 L893.6 833.6 L897.3 831.5 L901.0 829.4 L904.7 827.4 L908.4 825.3 L912.1 823.2 L915.8 821.1 L919.5 819.0 L923.2 816.9 L926.9 814.9 L930.5 812.8 L934.2 810.7 L937.9 808.6 L941.6 806.5 L945.3 804.4 L949.0 802.3 L952.7 800.3 L956.4 798.2 L960.1 796.1 L963.8 794.0 L967.5 791.9 L971.2 789.8 L974.9 787.7 L978.6 785.7 L982.3 783.6 L986.0 781.5 L989.7 779.4"/>
</g>
<g clip-path="url(#cpc)" fill="none" stroke-width="9" stroke-linejoin="round" stroke-linecap="round">
<path stroke="#000000" d="M1170.4 626.5 L1174.0 626.5 L1177.6 626.5 L1181.1 626.5 L1184.7 626.5 L1188.3 626.5 L1191.8 626.5 L1195.4 626.5 L1199.0 626.5 L1202.5 626.5 L1206.1 626.5 L1209.7 626.5 L1213.2 626.5 L1216.8 626.5 L1220.4 626.5 L1223.9 626.5 L1227.5 626.5 L1231.1 626.5 L1234.6 626.5 L1238.2 626.5 L1241.8 626.5 L1245.3 626.5 L1248.9 626.5 L1252.5 626.5 L1256.0 626.5 L1259.6 626.5 L1263.2 626.5 L1266.7 626.5 L1270.3 626.5 L1273.9 626.5 L1277.4 626.5 L1281.0 626.5 L1284.6 626.5 L1288.1 626.5 L1291.7 626.5 L1295.3 626.5 L1298.8 626.5 L1302.4 626.5 L1306.0 626.5 L1309.5 626.5 L1313.1 626.5 L1316.7 626.5 L1320.2 626.5 L1323.8 626.5 L1327.4 626.5 L1330.9 626.5 L1334.5 626.5 L1338.1 626.5 L1341.6 626.5 L1345.2 626.5 L1348.8 626.5 L1352.3 626.5 L1355.9 626.4 L1359.5 626.4 L1363.0 626.4 L1366.6 626.4 L1370.2 626.4 L1373.7 626.4 L1377.3 626.4 L1380.9 626.4 L1384.4 626.4 L1388.0 626.3 L1391.6 626.3 L1395.1 626.3 L1398.7 626.3 L1402.3 626.2 L1405.8 626.2 L1406.7 626.2 L1407.6 626.1 L1408.5 626.1 L1409.4 626.1 L1410.3 626.1 L1411.2 626.1 L1412.1 626.1 L1413.0 626.0 L1413.9 626.0 L1414.7 626.0 L1415.6 626.0 L1416.5 626.0 L1417.4 625.9 L1418.3 625.9 L1419.2 625.9 L1420.1 625.9 L1421.0 625.8 L1421.9 625.8 L1422.8 625.8 L1423.7 625.8 L1424.6 625.7 L1425.4 625.7 L1426.3 625.7 L1427.2 625.6 L1428.1 625.6 L1429.0 625.5 L1429.9 625.5 L1430.8 625.4 L1431.7 625.4 L1432.6 625.3 L1433.5 625.3 L1434.4 625.2 L1435.3 625.2 L1436.1 625.1 L1437.0 625.0 L1437.9 625.0 L1438.8 624.9 L1439.7 624.8 L1440.6 624.7 L1441.5 624.6 L1442.4 624.5 L1443.3 624.4 L1444.2 624.3 L1445.1 624.2 L1446.0 624.1 L1446.8 623.9 L1447.7 623.8 L1448.6 623.7 L1449.5 623.5 L1450.4 623.3 L1451.3 623.2 L1452.2 623.0 L1453.1 622.8 L1454.0 622.6 L1454.9 622.3 L1455.8 622.1 L1456.7 621.8 L1457.5 621.6 L1458.4 621.3 L1459.3 621.0 L1460.2 620.6 L1461.1 620.3 L1462.0 619.9 L1462.9 619.5 L1463.8 619.0 L1464.7 618.6 L1465.6 618.1 L1466.5 617.6 L1467.4 617.0 L1468.2 616.4 L1469.1 615.7 L1470.0 615.0 L1470.9 614.3 L1471.8 613.5 L1472.7 612.7 L1473.6 611.8 L1474.5 610.8 L1475.4 609.8 L1476.3 608.7 L1477.2 607.5 L1478.1 606.2 L1478.9 604.9 L1479.8 603.5 L1480.7 602.0 L1481.6 600.3 L1482.5 598.6 L1483.4 596.8 L1484.3 594.9 L1485.2 592.9 L1486.1 590.8 L1487.0 588.5 L1487.9 586.2 L1488.8 583.7 L1489.6 581.2 L1490.5 578.5 L1491.4 575.7 L1492.3 572.9 L1493.2 570.0 L1494.1 567.0 L1495.0 563.9 L1495.9 560.8 L1496.8 557.7 L1497.7 554.6 L1498.6 551.6 L1499.5 548.6 L1500.3 545.7 L1501.2 542.9 L1502.1 540.3 L1503.0 537.9 L1503.9 535.7 L1504.8 533.8 L1505.7 532.2 L1506.6 530.9 L1507.5 530.1 L1508.4 529.6 L1509.3 529.6 L1510.2 530.0 L1511.0 530.9 L1511.9 532.3 L1512.8 534.2 L1513.7 536.5 L1514.6 539.3 L1515.5 542.4 L1516.4 546.0 L1517.3 549.9 L1518.2 554.0 L1519.1 558.4 L1520.0 563.0 L1520.9 567.6 L1521.7 572.4 L1522.6 577.1 L1523.5 581.7 L1524.4 586.2 L1525.3 590.6 L1526.2 594.7 L1527.1 598.6 L1528.0 602.2 L1528.9 605.5 L1529.8 608.5 L1530.7 611.3 L1531.6 613.7 L1532.4 615.8 L1533.3 617.7 L1534.2 619.3 L1535.1 620.7 L1536.0 621.9 L1536.9 622.8 L1537.8 623.6 L1538.7 624.3 L1539.6 624.8 L1540.5 625.2 L1541.4 625.6 L1542.3 625.8 L1543.1 626.1 L1544.0 626.2 L1544.9 626.3 L1545.8 626.4 L1546.7 626.5 L1547.6 626.5 L1548.5 626.5 L1549.4 626.5 L1550.3 626.5 L1551.2 626.4 L1552.1 626.3 L1553.0 626.2 L1553.9 626.1 L1554.7 625.8 L1555.6 625.6 L1556.5 625.2 L1557.4 624.8 L1558.3 624.3 L1559.2 623.6 L1560.1 622.8 L1561.0 621.9 L1561.9 620.7 L1562.8 619.3 L1563.7 617.7 L1564.6 615.8 L1565.4 613.7 L1566.3 611.3 L1567.2 608.5 L1568.1 605.5 L1569.0 602.2 L1569.9 598.6 L1570.8 594.7 L1571.7 590.6 L1572.6 586.2 L1573.5 581.7 L1574.4 577.1 L1575.3 572.4 L1576.1 567.6 L1577.0 563.0 L1577.9 558.4 L1578.8 554.0 L1579.7 549.9 L1580.6 546.0 L1581.5 542.4 L1582.4 539.3 L1583.3 536.5 L1584.2 534.2 L1585.1 532.3 L1586.0 530.9 L1586.8 530.0 L1587.7 529.6 L1588.6 529.6 L1589.5 530.1 L1590.4 530.9 L1591.3 532.2 L1592.2 533.8 L1593.1 535.7 L1594.0 537.9 L1594.9 540.3 L1595.8 542.9 L1596.7 545.7 L1597.5 548.6 L1598.4 551.6 L1599.3 554.6 L1600.2 557.7 L1601.1 560.8 L1602.0 563.9 L1602.9 567.0 L1603.8 570.0 L1604.7 572.9 L1605.6 575.7 L1606.5 578.5 L1607.4 581.2 L1608.2 583.7 L1609.1 586.2 L1610.0 588.5 L1610.9 590.8 L1611.8 592.9 L1612.7 594.9 L1613.6 596.8 L1614.5 598.6 L1615.4 600.3 L1616.3 602.0 L1617.2 603.5 L1618.1 604.9 L1618.9 606.2 L1619.8 607.5 L1620.7 608.7 L1621.6 609.8 L1622.5 610.8 L1623.4 611.8 L1624.3 612.7 L1625.2 613.5 L1626.1 614.3 L1627.0 615.0 L1627.9 615.7 L1628.8 616.4 L1629.6 617.0 L1630.5 617.6 L1631.4 618.1 L1632.3 618.6 L1633.2 619.0 L1634.1 619.5 L1635.0 619.9 L1635.9 620.3 L1636.8 620.6 L1637.7 621.0 L1638.6 621.3 L1639.5 621.6 L1640.3 621.8 L1641.2 622.1 L1642.1 622.3 L1643.0 622.6 L1643.9 622.8 L1644.8 623.0 L1645.7 623.2 L1646.6 623.3 L1647.5 623.5 L1648.4 623.7 L1649.3 623.8 L1650.2 623.9 L1651.0 624.1 L1651.9 624.2 L1652.8 624.3 L1653.7 624.4 L1654.6 624.5 L1655.5 624.6 L1656.4 624.7 L1657.3 624.8 L1658.2 624.9 L1659.1 625.0 L1660.0 625.0 L1660.9 625.1 L1661.7 625.2 L1662.6 625.2 L1663.5 625.3 L1664.4 625.3 L1665.3 625.4 L1666.2 625.4 L1667.1 625.5 L1668.0 625.5 L1668.9 625.6 L1669.8 625.6 L1670.7 625.7 L1671.6 625.7 L1672.4 625.7 L1673.3 625.8 L1674.2 625.8 L1675.1 625.8 L1676.0 625.8 L1676.9 625.9 L1677.8 625.9 L1678.7 625.9 L1679.6 625.9 L1680.5 626.0 L1681.4 626.0 L1682.3 626.0 L1683.1 626.0 L1684.0 626.0 L1684.9 626.1 L1685.8 626.1 L1686.7 626.1 L1687.6 626.1 L1688.5 626.1 L1689.4 626.1 L1690.3 626.2 L1691.2 626.2 L1694.7 626.2 L1698.3 626.3 L1701.9 626.3 L1705.4 626.3 L1709.0 626.3 L1712.6 626.4 L1716.1 626.4 L1719.7 626.4 L1723.3 626.4 L1726.8 626.4 L1730.4 626.4 L1734.0 626.4 L1737.5 626.4 L1741.1 626.4 L1744.7 626.5 L1748.2 626.5 L1751.8 626.5 L1755.4 626.5 L1758.9 626.5 L1762.5 626.5 L1766.1 626.5 L1769.6 626.5 L1773.2 626.5 L1776.8 626.5 L1780.3 626.5 L1783.9 626.5 L1787.5 626.5 L1791.0 626.5 L1794.6 626.5 L1798.2 626.5 L1801.7 626.5 L1805.3 626.5 L1808.9 626.5 L1812.4 626.5 L1816.0 626.5 L1819.6 626.5 L1823.1 626.5 L1826.7 626.5 L1830.3 626.5 L1833.8 626.5 L1837.4 626.5 L1841.0 626.5 L1844.5 626.5 L1848.1 626.5 L1851.7 626.5 L1855.2 626.5 L1858.8 626.5 L1862.4 626.5 L1865.9 626.5 L1869.5 626.5 L1873.1 626.5 L1876.6 626.5 L1880.2 626.5 L1883.8 626.5 L1887.3 626.5 L1890.9 626.5 L1894.5 626.5 L1898.0 626.5 L1901.6 626.5 L1905.2 626.5 L1908.7 626.5 L1912.3 626.5 L1915.9 626.5 L1919.4 626.5 L1923.0 626.5 L1926.6 626.5"/>
<path stroke="#ff0000" d="M1137.9 626.5 L1141.7 626.5 L1145.6 626.5 L1149.5 626.5 L1153.4 626.5 L1157.2 626.5 L1161.1 626.5 L1165.0 626.5 L1168.9 626.5 L1172.7 626.5 L1176.6 626.5 L1180.5 626.5 L1184.4 626.5 L1188.2 626.5 L1192.1 626.5 L1196.0 626.5 L1199.8 626.5 L1203.7 626.5 L1207.6 626.5 L1211.5 626.5 L1215.3 626.5 L1219.2 626.5 L1223.1 626.5 L1227.0 626.5 L1230.8 626.5 L1234.7 626.5 L1238.6 626.5 L1242.5 626.5 L1246.3 626.5 L1250.2 626.5 L1254.1 626.5 L1258.0 626.5 L1261.8 626.5 L1265.7 626.5 L1269.6 626.5 L1273.5 626.5 L1277.3 626.5 L1281.2 626.5 L1285.1 626.5 L1288.9 626.5 L1292.8 626.4 L1296.7 626.4 L1300.6 626.4 L1304.4 626.4 L1308.3 626.4 L1312.2 626.4 L1316.1 626.4 L1319.9 626.4 L1323.8 626.4 L1327.7 626.4 L1331.6 626.4 L1335.4 626.3 L1339.3 626.3 L1343.2 626.3 L1347.1 626.3 L1350.9 626.2 L1354.8 626.2 L1358.7 626.2 L1362.6 626.1 L1366.4 626.1 L1370.3 626.0 L1374.2 625.9 L1378.0 625.8 L1381.9 625.7 L1385.8 625.6 L1389.7 625.4 L1393.5 625.3 L1394.5 625.2 L1395.5 625.1 L1396.4 625.1 L1397.4 625.0 L1398.4 625.0 L1399.4 624.9 L1400.3 624.8 L1401.3 624.7 L1402.3 624.7 L1403.2 624.6 L1404.2 624.5 L1405.2 624.4 L1406.1 624.3 L1407.1 624.2 L1408.1 624.1 L1409.0 624.0 L1410.0 623.8 L1411.0 623.7 L1411.9 623.6 L1412.9 623.4 L1413.9 623.3 L1414.9 623.1 L1415.8 622.9 L1416.8 622.8 L1417.8 622.6 L1418.7 622.4 L1419.7 622.1 L1420.7 621.9 L1421.6 621.7 L1422.6 621.4 L1423.6 621.1 L1424.5 620.8 L1425.5 620.5 L1426.5 620.2 L1427.4 619.8 L1428.4 619.5 L1429.4 619.1 L1430.3 618.6 L1431.3 618.2 L1432.3 617.7 L1433.3 617.2 L1434.2 616.6 L1435.2 616.0 L1436.2 615.4 L1437.1 614.7 L1438.1 614.0 L1439.1 613.3 L1440.0 612.5 L1441.0 611.6 L1442.0 610.7 L1442.9 609.7 L1443.9 608.7 L1444.9 607.6 L1445.8 606.4 L1446.8 605.1 L1447.8 603.8 L1448.7 602.4 L1449.7 600.8 L1450.7 599.2 L1451.7 597.5 L1452.6 595.7 L1453.6 593.7 L1454.6 591.6 L1455.5 589.4 L1456.5 587.1 L1457.5 584.6 L1458.4 582.0 L1459.4 579.2 L1460.4 576.3 L1461.3 573.2 L1462.3 569.9 L1463.3 566.4 L1464.2 562.7 L1465.2 558.9 L1466.2 554.8 L1467.1 550.5 L1468.1 546.1 L1469.1 541.4 L1470.1 536.5 L1471.0 531.3 L1472.0 526.0 L1473.0 520.4 L1473.9 514.6 L1474.9 508.6 L1475.9 502.4 L1476.8 495.9 L1477.8 489.3 L1478.8 482.5 L1479.7 475.6 L1480.7 468.4 L1481.7 461.2 L1482.6 453.8 L1483.6 446.3 L1484.6 438.8 L1485.5 431.2 L1486.5 423.7 L1487.5 416.2 L1488.5 408.7 L1489.4 401.4 L1490.4 394.2 L1491.4 387.3 L1492.3 380.6 L1493.3 374.2 L1494.3 368.2 L1495.2 362.6 L1496.2 357.4 L1497.2 352.8 L1498.1 348.7 L1499.1 345.3 L1500.1 342.5 L1501.0 340.4 L1502.0 339.1 L1503.0 338.5 L1504.0 338.8 L1504.9 339.9 L1505.9 341.8 L1506.9 344.6 L1507.8 348.2 L1508.8 352.6 L1509.8 357.9 L1510.7 363.9 L1511.7 370.7 L1512.7 378.2 L1513.6 386.3 L1514.6 395.1 L1515.6 404.4 L1516.5 414.1 L1517.5 424.2 L1518.5 434.6 L1519.4 445.3 L1520.4 456.1 L1521.4 466.9 L1522.4 477.7 L1523.3 488.5 L1524.3 499.1 L1525.3 509.4 L1526.2 519.4 L1527.2 529.2 L1528.2 538.5 L1529.1 547.4 L1530.1 555.8 L1531.1 563.7 L1532.0 571.2 L1533.0 578.1 L1534.0 584.5 L1534.9 590.4 L1535.9 595.8 L1536.9 600.7 L1537.8 605.1 L1538.8 609.0 L1539.8 612.5 L1540.8 615.6 L1541.7 618.2 L1542.7 620.5 L1543.7 622.4 L1544.6 623.9 L1545.6 625.0 L1546.6 625.8 L1547.5 626.3 L1548.5 626.5 L1549.5 626.3 L1550.4 625.8 L1551.4 625.0 L1552.4 623.9 L1553.3 622.4 L1554.3 620.5 L1555.3 618.2 L1556.2 615.6 L1557.2 612.5 L1558.2 609.0 L1559.2 605.1 L1560.1 600.7 L1561.1 595.8 L1562.1 590.4 L1563.0 584.5 L1564.0 578.1 L1565.0 571.2 L1565.9 563.7 L1566.9 555.8 L1567.9 547.4 L1568.8 538.5 L1569.8 529.2 L1570.8 519.4 L1571.7 509.4 L1572.7 499.1 L1573.7 488.5 L1574.6 477.7 L1575.6 466.9 L1576.6 456.1 L1577.6 445.3 L1578.5 434.6 L1579.5 424.2 L1580.5 414.1 L1581.4 404.4 L1582.4 395.1 L1583.4 386.3 L1584.3 378.2 L1585.3 370.7 L1586.3 363.9 L1587.2 357.9 L1588.2 352.6 L1589.2 348.2 L1590.1 344.6 L1591.1 341.8 L1592.1 339.9 L1593.0 338.8 L1594.0 338.5 L1595.0 339.1 L1596.0 340.4 L1596.9 342.5 L1597.9 345.3 L1598.9 348.7 L1599.8 352.8 L1600.8 357.4 L1601.8 362.6 L1602.7 368.2 L1603.7 374.2 L1604.7 380.6 L1605.6 387.3 L1606.6 394.2 L1607.6 401.4 L1608.5 408.7 L1609.5 416.2 L1610.5 423.7 L1611.5 431.2 L1612.4 438.8 L1613.4 446.3 L1614.4 453.8 L1615.3 461.2 L1616.3 468.4 L1617.3 475.6 L1618.2 482.5 L1619.2 489.3 L1620.2 495.9 L1621.1 502.4 L1622.1 508.6 L1623.1 514.6 L1624.0 520.4 L1625.0 526.0 L1626.0 531.3 L1626.9 536.5 L1627.9 541.4 L1628.9 546.1 L1629.9 550.5 L1630.8 554.8 L1631.8 558.9 L1632.8 562.7 L1633.7 566.4 L1634.7 569.9 L1635.7 573.2 L1636.6 576.3 L1637.6 579.2 L1638.6 582.0 L1639.5 584.6 L1640.5 587.1 L1641.5 589.4 L1642.4 591.6 L1643.4 593.7 L1644.4 595.7 L1645.3 597.5 L1646.3 599.2 L1647.3 600.8 L1648.3 602.4 L1649.2 603.8 L1650.2 605.1 L1651.2 606.4 L1652.1 607.6 L1653.1 608.7 L1654.1 609.7 L1655.0 610.7 L1656.0 611.6 L1657.0 612.5 L1657.9 613.3 L1658.9 614.0 L1659.9 614.7 L1660.8 615.4 L1661.8 616.0 L1662.8 616.6 L1663.7 617.2 L1664.7 617.7 L1665.7 618.2 L1666.7 618.6 L1667.6 619.1 L1668.6 619.5 L1669.6 619.8 L1670.5 620.2 L1671.5 620.5 L1672.5 620.8 L1673.4 621.1 L1674.4 621.4 L1675.4 621.7 L1676.3 621.9 L1677.3 622.1 L1678.3 622.4 L1679.2 622.6 L1680.2 622.8 L1681.2 622.9 L1682.1 623.1 L1683.1 623.3 L1684.1 623.4 L1685.1 623.6 L1686.0 623.7 L1687.0 623.8 L1688.0 624.0 L1688.9 624.1 L1689.9 624.2 L1690.9 624.3 L1691.8 624.4 L1692.8 624.5 L1693.8 624.6 L1694.7 624.7 L1695.7 624.7 L1696.7 624.8 L1697.6 624.9 L1698.6 625.0 L1699.6 625.0 L1700.6 625.1 L1701.5 625.1 L1702.5 625.2 L1703.5 625.3 L1707.3 625.4 L1711.2 625.6 L1715.1 625.7 L1719.0 625.8 L1722.8 625.9 L1726.7 626.0 L1730.6 626.1 L1734.4 626.1 L1738.3 626.2 L1742.2 626.2 L1746.1 626.2 L1749.9 626.3 L1753.8 626.3 L1757.7 626.3 L1761.6 626.3 L1765.4 626.4 L1769.3 626.4 L1773.2 626.4 L1777.1 626.4 L1780.9 626.4 L1784.8 626.4 L1788.7 626.4 L1792.6 626.4 L1796.4 626.4 L1800.3 626.4 L1804.2 626.4 L1808.1 626.5 L1811.9 626.5 L1815.8 626.5 L1819.7 626.5 L1823.5 626.5 L1827.4 626.5 L1831.3 626.5 L1835.2 626.5 L1839.0 626.5 L1842.9 626.5 L1846.8 626.5 L1850.7 626.5 L1854.5 626.5 L1858.4 626.5 L1862.3 626.5 L1866.2 626.5 L1870.0 626.5 L1873.9 626.5 L1877.8 626.5 L1881.7 626.5 L1885.5 626.5 L1889.4 626.5 L1893.3 626.5 L1897.2 626.5 L1901.0 626.5 L1904.9 626.5 L1908.8 626.5 L1912.6 626.5 L1916.5 626.5 L1920.4 626.5 L1924.3 626.5 L1928.1 626.5 L1932.0 626.5 L1935.9 626.5 L1939.8 626.5 L1943.6 626.5 L1947.5 626.5 L1951.4 626.5 L1955.3 626.5 L1959.1 626.5"/>
<path stroke="#00ff00" d="M1145.7 626.5 L1149.5 626.5 L1153.3 626.5 L1157.1 626.5 L1160.9 626.5 L1164.7 626.5 L1168.5 626.5 L1172.3 626.5 L1176.1 626.5 L1179.9 626.5 L1183.7 626.5 L1187.5 626.5 L1191.3 626.5 L1195.1 626.5 L1198.9 626.5 L1202.7 626.5 L1206.5 626.5 L1210.3 626.5 L1214.1 626.5 L1217.9 626.5 L1221.7 626.5 L1225.5 626.5 L1229.3 626.5 L1233.1 626.5 L1236.9 626.5 L1240.7 626.5 L1244.5 626.5 L1248.3 626.5 L1252.1 626.5 L1255.9 626.4 L1259.7 626.4 L1263.5 626.4 L1267.3 626.4 L1271.1 626.4 L1274.9 626.4 L1278.7 626.4 L1282.5 626.4 L1286.3 626.4 L1290.1 626.4 L1293.9 626.4 L1297.7 626.4 L1301.5 626.3 L1305.3 626.3 L1309.1 626.3 L1312.9 626.3 L1316.7 626.3 L1320.5 626.2 L1324.3 626.2 L1328.1 626.2 L1331.9 626.1 L1335.7 626.1 L1339.5 626.0 L1343.3 625.9 L1347.1 625.9 L1350.9 625.8 L1354.7 625.7 L1358.5 625.5 L1362.3 625.4 L1366.1 625.2 L1369.9 624.9 L1373.7 624.7 L1377.5 624.3 L1381.3 623.9 L1385.1 623.4 L1388.9 622.8 L1392.7 622.0 L1396.5 621.0 L1397.5 620.7 L1398.4 620.4 L1399.4 620.1 L1400.3 619.8 L1401.3 619.5 L1402.2 619.1 L1403.2 618.7 L1404.1 618.3 L1405.1 617.9 L1406.0 617.4 L1407.0 617.0 L1407.9 616.5 L1408.9 615.9 L1409.8 615.4 L1410.8 614.8 L1411.7 614.1 L1412.7 613.5 L1413.6 612.8 L1414.6 612.0 L1415.5 611.3 L1416.5 610.4 L1417.4 609.6 L1418.4 608.6 L1419.3 607.7 L1420.3 606.7 L1421.2 605.6 L1422.2 604.4 L1423.1 603.2 L1424.1 602.0 L1425.0 600.6 L1426.0 599.2 L1426.9 597.7 L1427.9 596.2 L1428.8 594.5 L1429.8 592.8 L1430.7 591.0 L1431.7 589.1 L1432.6 587.0 L1433.6 584.9 L1434.5 582.7 L1435.5 580.4 L1436.4 577.9 L1437.4 575.3 L1438.3 572.7 L1439.3 569.8 L1440.2 566.9 L1441.2 563.8 L1442.1 560.5 L1443.1 557.1 L1444.0 553.6 L1445.0 549.9 L1445.9 546.0 L1446.9 542.0 L1447.8 537.8 L1448.8 533.5 L1449.7 528.9 L1450.7 524.2 L1451.6 519.3 L1452.6 514.2 L1453.5 508.9 L1454.5 503.5 L1455.4 497.8 L1456.4 492.0 L1457.3 485.9 L1458.3 479.7 L1459.2 473.3 L1460.2 466.7 L1461.1 459.9 L1462.1 452.9 L1463.0 445.8 L1464.0 438.4 L1464.9 431.0 L1465.9 423.3 L1466.8 415.5 L1467.8 407.6 L1468.7 399.6 L1469.7 391.4 L1470.6 383.1 L1471.6 374.8 L1472.5 366.4 L1473.5 357.9 L1474.4 349.4 L1475.4 340.9 L1476.3 332.5 L1477.3 324.0 L1478.2 315.7 L1479.2 307.4 L1480.1 299.2 L1481.1 291.2 L1482.0 283.4 L1483.0 275.8 L1483.9 268.5 L1484.9 261.4 L1485.8 254.7 L1486.8 248.3 L1487.7 242.2 L1488.7 236.6 L1489.6 231.5 L1490.6 226.8 L1491.5 222.7 L1492.5 219.1 L1493.4 216.1 L1494.4 213.7 L1495.3 212.0 L1496.3 210.9 L1497.2 210.5 L1498.2 210.8 L1499.1 211.9 L1500.1 213.6 L1501.0 216.1 L1502.0 219.4 L1502.9 223.4 L1503.9 228.1 L1504.8 233.6 L1505.8 239.8 L1506.7 246.7 L1507.7 254.3 L1508.6 262.5 L1509.6 271.4 L1510.5 280.8 L1511.5 290.8 L1512.4 301.3 L1513.4 312.2 L1514.3 323.6 L1515.3 335.3 L1516.2 347.4 L1517.2 359.7 L1518.1 372.1 L1519.1 384.8 L1520.0 397.5 L1521.0 410.2 L1521.9 422.9 L1522.9 435.5 L1523.8 448.0 L1524.8 460.3 L1525.7 472.4 L1526.7 484.2 L1527.6 495.7 L1528.6 506.9 L1529.5 517.6 L1530.5 528.0 L1531.4 537.9 L1532.4 547.3 L1533.3 556.3 L1534.3 564.7 L1535.2 572.7 L1536.2 580.1 L1537.1 586.9 L1538.1 593.3 L1539.0 599.0 L1540.0 604.3 L1540.9 608.9 L1541.9 613.1 L1542.8 616.6 L1543.8 619.7 L1544.7 622.1 L1545.7 624.0 L1546.6 625.4 L1547.6 626.2 L1548.5 626.5 L1549.4 626.2 L1550.4 625.4 L1551.3 624.0 L1552.3 622.1 L1553.2 619.7 L1554.2 616.6 L1555.1 613.1 L1556.1 608.9 L1557.0 604.3 L1558.0 599.0 L1558.9 593.3 L1559.9 586.9 L1560.8 580.1 L1561.8 572.7 L1562.7 564.7 L1563.7 556.3 L1564.6 547.3 L1565.6 537.9 L1566.5 528.0 L1567.5 517.6 L1568.4 506.9 L1569.4 495.7 L1570.3 484.2 L1571.3 472.4 L1572.2 460.3 L1573.2 448.0 L1574.1 435.5 L1575.1 422.9 L1576.0 410.2 L1577.0 397.5 L1577.9 384.8 L1578.9 372.1 L1579.8 359.7 L1580.8 347.4 L1581.7 335.3 L1582.7 323.6 L1583.6 312.2 L1584.6 301.3 L1585.5 290.8 L1586.5 280.8 L1587.4 271.4 L1588.4 262.5 L1589.3 254.3 L1590.3 246.7 L1591.2 239.8 L1592.2 233.6 L1593.1 228.1 L1594.1 223.4 L1595.0 219.4 L1596.0 216.1 L1596.9 213.6 L1597.9 211.9 L1598.8 210.8 L1599.8 210.5 L1600.7 210.9 L1601.7 212.0 L1602.6 213.7 L1603.6 216.1 L1604.5 219.1 L1605.5 222.7 L1606.4 226.8 L1607.4 231.5 L1608.3 236.6 L1609.3 242.2 L1610.2 248.3 L1611.2 254.7 L1612.1 261.4 L1613.1 268.5 L1614.0 275.8 L1615.0 283.4 L1615.9 291.2 L1616.9 299.2 L1617.8 307.4 L1618.8 315.7 L1619.7 324.0 L1620.7 332.5 L1621.6 340.9 L1622.6 349.4 L1623.5 357.9 L1624.5 366.4 L1625.4 374.8 L1626.4 383.1 L1627.3 391.4 L1628.3 399.6 L1629.2 407.6 L1630.2 415.5 L1631.1 423.3 L1632.1 431.0 L1633.0 438.4 L1634.0 445.8 L1634.9 452.9 L1635.9 459.9 L1636.8 466.7 L1637.8 473.3 L1638.7 479.7 L1639.7 485.9 L1640.6 492.0 L1641.6 497.8 L1642.5 503.5 L1643.5 508.9 L1644.4 514.2 L1645.4 519.3 L1646.3 524.2 L1647.3 528.9 L1648.2 533.5 L1649.2 537.8 L1650.1 542.0 L1651.1 546.0 L1652.0 549.9 L1653.0 553.6 L1653.9 557.1 L1654.9 560.5 L1655.8 563.8 L1656.8 566.9 L1657.7 569.8 L1658.7 572.7 L1659.6 575.3 L1660.6 577.9 L1661.5 580.4 L1662.5 582.7 L1663.4 584.9 L1664.4 587.0 L1665.3 589.1 L1666.3 591.0 L1667.2 592.8 L1668.2 594.5 L1669.1 596.2 L1670.1 597.7 L1671.0 599.2 L1672.0 600.6 L1672.9 602.0 L1673.9 603.2 L1674.8 604.4 L1675.8 605.6 L1676.7 606.7 L1677.7 607.7 L1678.6 608.6 L1679.6 609.6 L1680.5 610.4 L1681.5 611.3 L1682.4 612.0 L1683.4 612.8 L1684.3 613.5 L1685.3 614.1 L1686.2 614.8 L1687.2 615.4 L1688.1 615.9 L1689.1 616.5 L1690.0 617.0 L1691.0 617.4 L1691.9 617.9 L1692.9 618.3 L1693.8 618.7 L1694.8 619.1 L1695.7 619.5 L1696.7 619.8 L1697.6 620.1 L1698.6 620.4 L1699.5 620.7 L1700.5 621.0 L1704.3 622.0 L1708.1 622.8 L1711.9 623.4 L1715.7 623.9 L1719.5 624.3 L1723.3 624.7 L1727.1 624.9 L1730.9 625.2 L1734.7 625.4 L1738.5 625.5 L1742.3 625.7 L1746.1 625.8 L1749.9 625.9 L1753.7 625.9 L1757.5 626.0 L1761.3 626.1 L1765.1 626.1 L1768.9 626.2 L1772.7 626.2 L1776.5 626.2 L1780.3 626.3 L1784.1 626.3 L1787.9 626.3 L1791.7 626.3 L1795.5 626.3 L1799.3 626.4 L1803.1 626.4 L1806.9 626.4 L1810.7 626.4 L1814.5 626.4 L1818.3 626.4 L1822.1 626.4 L1825.9 626.4 L1829.7 626.4 L1833.5 626.4 L1837.3 626.4 L1841.1 626.4 L1844.9 626.5 L1848.7 626.5 L1852.5 626.5 L1856.3 626.5 L1860.1 626.5 L1863.9 626.5 L1867.7 626.5 L1871.5 626.5 L1875.3 626.5 L1879.1 626.5 L1882.9 626.5 L1886.7 626.5 L1890.5 626.5 L1894.3 626.5 L1898.1 626.5 L1901.9 626.5 L1905.7 626.5 L1909.5 626.5 L1913.3 626.5 L1917.1 626.5 L1920.9 626.5 L1924.7 626.5 L1928.5 626.5 L1932.3 626.5 L1936.1 626.5 L1939.9 626.5 L1943.7 626.5 L1947.5 626.5 L1951.3 626.5"/>
<path stroke="#0000ff" d="M1151.6 626.5 L1155.3 626.5 L1159.1 626.5 L1162.8 626.5 L1166.6 626.5 L1170.3 626.5 L1174.1 626.5 L1177.8 626.5 L1181.5 626.5 L1185.3 626.5 L1189.0 626.5 L1192.8 626.5 L1196.5 626.5 L1200.3 626.5 L1204.0 626.5 L1207.8 626.5 L1211.5 626.5 L1215.2 626.5 L1219.0 626.5 L1222.7 626.5 L1226.5 626.4 L1230.2 626.4 L1234.0 626.4 L1237.7 626.4 L1241.5 626.4 L1245.2 626.4 L1248.9 626.4 L1252.7 626.4 L1256.4 626.4 L1260.2 626.4 L1263.9 626.4 L1267.7 626.4 L1271.4 626.3 L1275.2 626.3 L1278.9 626.3 L1282.6 626.3 L1286.4 626.3 L1290.1 626.2 L1293.9 626.2 L1297.6 626.2 L1301.4 626.1 L1305.1 626.1 L1308.9 626.0 L1312.6 626.0 L1316.3 625.9 L1320.1 625.8 L1323.8 625.7 L1327.6 625.6 L1331.3 625.5 L1335.1 625.3 L1338.8 625.1 L1342.6 624.9 L1346.3 624.6 L1350.0 624.3 L1353.8 623.8 L1357.5 623.3 L1361.3 622.8 L1365.0 622.0 L1368.8 621.2 L1372.5 620.1 L1376.3 618.8 L1380.0 617.3 L1383.7 615.4 L1387.5 613.1 L1391.2 610.4 L1395.0 607.2 L1398.7 603.2 L1399.7 602.2 L1400.6 601.0 L1401.5 599.8 L1402.5 598.6 L1403.4 597.3 L1404.3 595.9 L1405.3 594.5 L1406.2 593.0 L1407.1 591.5 L1408.1 589.9 L1409.0 588.2 L1410.0 586.4 L1410.9 584.6 L1411.8 582.7 L1412.8 580.8 L1413.7 578.7 L1414.6 576.6 L1415.6 574.3 L1416.5 572.0 L1417.4 569.6 L1418.4 567.1 L1419.3 564.5 L1420.3 561.8 L1421.2 559.0 L1422.1 556.1 L1423.1 553.1 L1424.0 550.0 L1424.9 546.8 L1425.9 543.4 L1426.8 539.9 L1427.7 536.3 L1428.7 532.6 L1429.6 528.8 L1430.6 524.8 L1431.5 520.7 L1432.4 516.5 L1433.4 512.2 L1434.3 507.7 L1435.2 503.0 L1436.2 498.3 L1437.1 493.3 L1438.0 488.3 L1439.0 483.1 L1439.9 477.7 L1440.8 472.3 L1441.8 466.6 L1442.7 460.9 L1443.7 454.9 L1444.6 448.9 L1445.5 442.7 L1446.5 436.3 L1447.4 429.9 L1448.3 423.2 L1449.3 416.5 L1450.2 409.6 L1451.1 402.6 L1452.1 395.5 L1453.0 388.3 L1454.0 380.9 L1454.9 373.5 L1455.8 365.9 L1456.8 358.2 L1457.7 350.5 L1458.6 342.7 L1459.6 334.8 L1460.5 326.9 L1461.4 318.9 L1462.4 310.9 L1463.3 302.9 L1464.3 294.9 L1465.2 286.8 L1466.1 278.8 L1467.1 270.8 L1468.0 262.9 L1468.9 255.0 L1469.9 247.2 L1470.8 239.5 L1471.7 232.0 L1472.7 224.5 L1473.6 217.3 L1474.5 210.2 L1475.5 203.3 L1476.4 196.6 L1477.4 190.2 L1478.3 184.0 L1479.2 178.1 L1480.2 172.6 L1481.1 167.3 L1482.0 162.4 L1483.0 157.9 L1483.9 153.8 L1484.8 150.1 L1485.8 146.8 L1486.7 144.0 L1487.7 141.7 L1488.6 139.8 L1489.5 138.5 L1490.5 137.7 L1491.4 137.4 L1492.3 137.7 L1493.3 138.6 L1494.2 140.0 L1495.1 142.1 L1496.1 144.7 L1497.0 147.9 L1498.0 151.8 L1498.9 156.2 L1499.8 161.2 L1500.8 166.8 L1501.7 173.0 L1502.6 179.8 L1503.6 187.1 L1504.5 195.0 L1505.4 203.5 L1506.4 212.4 L1507.3 221.8 L1508.2 231.7 L1509.2 242.0 L1510.1 252.8 L1511.1 263.9 L1512.0 275.4 L1512.9 287.1 L1513.9 299.2 L1514.8 311.5 L1515.7 324.0 L1516.7 336.7 L1517.6 349.5 L1518.5 362.4 L1519.5 375.4 L1520.4 388.3 L1521.4 401.3 L1522.3 414.1 L1523.2 426.9 L1524.2 439.5 L1525.1 451.9 L1526.0 464.1 L1527.0 476.1 L1527.9 487.8 L1528.8 499.2 L1529.8 510.2 L1530.7 520.8 L1531.7 531.1 L1532.6 540.9 L1533.5 550.3 L1534.5 559.2 L1535.4 567.6 L1536.3 575.5 L1537.3 582.9 L1538.2 589.7 L1539.1 596.0 L1540.1 601.7 L1541.0 606.9 L1541.9 611.5 L1542.9 615.4 L1543.8 618.8 L1544.8 621.6 L1545.7 623.7 L1546.6 625.3 L1547.6 626.2 L1548.5 626.5 L1549.4 626.2 L1550.4 625.3 L1551.3 623.7 L1552.2 621.6 L1553.2 618.8 L1554.1 615.4 L1555.1 611.5 L1556.0 606.9 L1556.9 601.7 L1557.9 596.0 L1558.8 589.7 L1559.7 582.9 L1560.7 575.5 L1561.6 567.6 L1562.5 559.2 L1563.5 550.3 L1564.4 540.9 L1565.3 531.1 L1566.3 520.8 L1567.2 510.2 L1568.2 499.2 L1569.1 487.8 L1570.0 476.1 L1571.0 464.1 L1571.9 451.9 L1572.8 439.5 L1573.8 426.9 L1574.7 414.1 L1575.6 401.3 L1576.6 388.3 L1577.5 375.4 L1578.5 362.4 L1579.4 349.5 L1580.3 336.7 L1581.3 324.0 L1582.2 311.5 L1583.1 299.2 L1584.1 287.1 L1585.0 275.4 L1585.9 263.9 L1586.9 252.8 L1587.8 242.0 L1588.8 231.7 L1589.7 221.8 L1590.6 212.4 L1591.6 203.5 L1592.5 195.0 L1593.4 187.1 L1594.4 179.8 L1595.3 173.0 L1596.2 166.8 L1597.2 161.2 L1598.1 156.2 L1599.0 151.8 L1600.0 147.9 L1600.9 144.7 L1601.9 142.1 L1602.8 140.0 L1603.7 138.6 L1604.7 137.7 L1605.6 137.4 L1606.5 137.7 L1607.5 138.5 L1608.4 139.8 L1609.3 141.7 L1610.3 144.0 L1611.2 146.8 L1612.2 150.1 L1613.1 153.8 L1614.0 157.9 L1615.0 162.4 L1615.9 167.3 L1616.8 172.6 L1617.8 178.1 L1618.7 184.0 L1619.6 190.2 L1620.6 196.6 L1621.5 203.3 L1622.5 210.2 L1623.4 217.3 L1624.3 224.5 L1625.3 232.0 L1626.2 239.5 L1627.1 247.2 L1628.1 255.0 L1629.0 262.9 L1629.9 270.8 L1630.9 278.8 L1631.8 286.8 L1632.7 294.9 L1633.7 302.9 L1634.6 310.9 L1635.6 318.9 L1636.5 326.9 L1637.4 334.8 L1638.4 342.7 L1639.3 350.5 L1640.2 358.2 L1641.2 365.9 L1642.1 373.5 L1643.0 380.9 L1644.0 388.3 L1644.9 395.5 L1645.9 402.6 L1646.8 409.6 L1647.7 416.5 L1648.7 423.2 L1649.6 429.9 L1650.5 436.3 L1651.5 442.7 L1652.4 448.9 L1653.3 454.9 L1654.3 460.9 L1655.2 466.6 L1656.2 472.3 L1657.1 477.7 L1658.0 483.1 L1659.0 488.3 L1659.9 493.3 L1660.8 498.3 L1661.8 503.0 L1662.7 507.7 L1663.6 512.2 L1664.6 516.5 L1665.5 520.7 L1666.4 524.8 L1667.4 528.8 L1668.3 532.6 L1669.3 536.3 L1670.2 539.9 L1671.1 543.4 L1672.1 546.8 L1673.0 550.0 L1673.9 553.1 L1674.9 556.1 L1675.8 559.0 L1676.7 561.8 L1677.7 564.5 L1678.6 567.1 L1679.6 569.6 L1680.5 572.0 L1681.4 574.3 L1682.4 576.6 L1683.3 578.7 L1684.2 580.8 L1685.2 582.7 L1686.1 584.6 L1687.0 586.4 L1688.0 588.2 L1688.9 589.9 L1689.9 591.5 L1690.8 593.0 L1691.7 594.5 L1692.7 595.9 L1693.6 597.3 L1694.5 598.6 L1695.5 599.8 L1696.4 601.0 L1697.3 602.2 L1698.3 603.2 L1702.0 607.2 L1705.8 610.4 L1709.5 613.1 L1713.3 615.4 L1717.0 617.3 L1720.7 618.8 L1724.5 620.1 L1728.2 621.2 L1732.0 622.0 L1735.7 622.8 L1739.5 623.3 L1743.2 623.8 L1747.0 624.3 L1750.7 624.6 L1754.4 624.9 L1758.2 625.1 L1761.9 625.3 L1765.7 625.5 L1769.4 625.6 L1773.2 625.7 L1776.9 625.8 L1780.7 625.9 L1784.4 626.0 L1788.1 626.0 L1791.9 626.1 L1795.6 626.1 L1799.4 626.2 L1803.1 626.2 L1806.9 626.2 L1810.6 626.3 L1814.4 626.3 L1818.1 626.3 L1821.8 626.3 L1825.6 626.3 L1829.3 626.4 L1833.1 626.4 L1836.8 626.4 L1840.6 626.4 L1844.3 626.4 L1848.1 626.4 L1851.8 626.4 L1855.5 626.4 L1859.3 626.4 L1863.0 626.4 L1866.8 626.4 L1870.5 626.4 L1874.3 626.5 L1878.0 626.5 L1881.8 626.5 L1885.5 626.5 L1889.2 626.5 L1893.0 626.5 L1896.7 626.5 L1900.5 626.5 L1904.2 626.5 L1908.0 626.5 L1911.7 626.5 L1915.5 626.5 L1919.2 626.5 L1922.9 626.5 L1926.7 626.5 L1930.4 626.5 L1934.2 626.5 L1937.9 626.5 L1941.7 626.5 L1945.4 626.5"/>
<path stroke="#008000" d="M1156.3 474.9 L1160.0 472.5 L1163.7 470.0 L1167.4 467.6 L1171.1 465.2 L1174.8 462.8 L1178.5 460.4 L1182.2 458.0 L1185.9 455.7 L1189.6 453.3 L1193.3 451.0 L1197.0 448.7 L1200.7 446.4 L1204.4 444.1 L1208.1 441.9 L1211.8 439.7 L1215.5 437.6 L1219.2 435.5 L1222.9 433.4 L1226.6 431.4 L1230.3 429.5 L1234.0 427.6 L1237.7 425.7 L1241.4 424.0 L1245.1 422.3 L1248.8 420.7 L1252.5 419.1 L1256.2 417.7 L1259.9 416.3 L1263.6 415.1 L1267.3 413.9 L1271.0 412.8 L1274.7 411.9 L1278.4 411.0 L1282.1 410.3 L1285.8 409.7 L1289.5 409.2 L1293.2 408.9 L1296.9 408.6 L1300.6 408.6 L1304.3 408.6 L1308.0 408.8 L1311.7 409.2 L1315.4 409.7 L1319.1 410.4 L1322.8 411.2 L1326.5 412.3 L1330.2 413.4 L1333.9 414.8 L1337.6 416.3 L1341.3 418.0 L1345.0 419.9 L1348.7 421.9 L1352.4 424.2 L1356.1 426.6 L1359.8 429.2 L1363.5 431.9 L1367.2 434.9 L1370.9 438.0 L1374.6 441.3 L1378.3 444.8 L1382.0 448.4 L1385.7 452.2 L1389.4 456.2 L1393.1 460.3 L1396.8 464.5 L1400.5 468.9 L1401.4 470.0 L1402.3 471.2 L1403.3 472.3 L1404.2 473.5 L1405.1 474.6 L1406.0 475.8 L1407.0 476.9 L1407.9 478.1 L1408.8 479.3 L1409.8 480.5 L1410.7 481.7 L1411.6 482.9 L1412.5 484.1 L1413.5 485.3 L1414.4 486.6 L1415.3 487.8 L1416.2 489.0 L1417.2 490.3 L1418.1 491.5 L1419.0 492.8 L1419.9 494.0 L1420.8 495.3 L1421.8 496.6 L1422.7 497.9 L1423.6 499.1 L1424.5 500.4 L1425.5 501.7 L1426.4 503.0 L1427.3 504.3 L1428.2 505.6 L1429.2 506.9 L1430.1 508.2 L1431.0 509.6 L1432.0 510.9 L1432.9 512.2 L1433.8 513.5 L1434.7 514.8 L1435.7 516.2 L1436.6 517.5 L1437.5 518.8 L1438.4 520.2 L1439.3 521.5 L1440.3 522.8 L1441.2 524.2 L1442.1 525.5 L1443.0 526.8 L1444.0 528.2 L1444.9 529.5 L1445.8 530.9 L1446.8 532.2 L1447.7 533.5 L1448.6 534.9 L1449.5 536.2 L1450.5 537.6 L1451.4 538.9 L1452.3 540.2 L1453.2 541.6 L1454.2 542.9 L1455.1 544.2 L1456.0 545.5 L1456.9 546.9 L1457.8 548.2 L1458.8 549.5 L1459.7 550.8 L1460.6 552.1 L1461.5 553.4 L1462.5 554.7 L1463.4 556.0 L1464.3 557.3 L1465.2 558.6 L1466.2 559.9 L1467.1 561.1 L1468.0 562.4 L1469.0 563.7 L1469.9 564.9 L1470.8 566.2 L1471.7 567.4 L1472.7 568.7 L1473.6 569.9 L1474.5 571.1 L1475.4 572.3 L1476.3 573.5 L1477.3 574.7 L1478.2 575.9 L1479.1 577.1 L1480.0 578.3 L1481.0 579.5 L1481.9 580.6 L1482.8 581.8 L1483.8 582.9 L1484.7 584.0 L1485.6 585.1 L1486.5 586.2 L1487.5 587.3 L1488.4 588.4 L1489.3 589.5 L1490.2 590.6 L1491.2 591.6 L1492.1 592.6 L1493.0 593.7 L1493.9 594.7 L1494.8 595.7 L1495.8 596.7 L1496.7 597.6 L1497.6 598.6 L1498.5 599.6 L1499.5 600.5 L1500.4 601.4 L1501.3 602.3 L1502.2 603.2 L1503.2 604.1 L1504.1 605.0 L1505.0 605.8 L1506.0 606.7 L1506.9 607.5 L1507.8 608.3 L1508.7 609.1 L1509.7 609.8 L1510.6 610.6 L1511.5 611.3 L1512.4 612.1 L1513.3 612.8 L1514.3 613.5 L1515.2 614.2 L1516.1 614.8 L1517.0 615.5 L1518.0 616.1 L1518.9 616.7 L1519.8 617.3 L1520.8 617.9 L1521.7 618.4 L1522.6 619.0 L1523.5 619.5 L1524.5 620.0 L1525.4 620.5 L1526.3 620.9 L1527.2 621.4 L1528.2 621.8 L1529.1 622.2 L1530.0 622.6 L1530.9 623.0 L1531.8 623.4 L1532.8 623.7 L1533.7 624.0 L1534.6 624.3 L1535.5 624.6 L1536.5 624.9 L1537.4 625.1 L1538.3 625.3 L1539.2 625.5 L1540.2 625.7 L1541.1 625.9 L1542.0 626.0 L1543.0 626.1 L1543.9 626.3 L1544.8 626.3 L1545.7 626.4 L1546.7 626.5 L1547.6 626.5 L1548.5 626.5 L1549.4 626.5 L1550.3 626.5 L1551.3 626.4 L1552.2 626.3 L1553.1 626.3 L1554.0 626.1 L1555.0 626.0 L1555.9 625.9 L1556.8 625.7 L1557.8 625.5 L1558.7 625.3 L1559.6 625.1 L1560.5 624.9 L1561.5 624.6 L1562.4 624.3 L1563.3 624.0 L1564.2 623.7 L1565.2 623.4 L1566.1 623.0 L1567.0 622.6 L1567.9 622.2 L1568.8 621.8 L1569.8 621.4 L1570.7 620.9 L1571.6 620.5 L1572.5 620.0 L1573.5 619.5 L1574.4 619.0 L1575.3 618.4 L1576.2 617.9 L1577.2 617.3 L1578.1 616.7 L1579.0 616.1 L1580.0 615.5 L1580.9 614.8 L1581.8 614.2 L1582.7 613.5 L1583.7 612.8 L1584.6 612.1 L1585.5 611.3 L1586.4 610.6 L1587.3 609.8 L1588.3 609.1 L1589.2 608.3 L1590.1 607.5 L1591.0 606.7 L1592.0 605.8 L1592.9 605.0 L1593.8 604.1 L1594.8 603.2 L1595.7 602.3 L1596.6 601.4 L1597.5 600.5 L1598.5 599.6 L1599.4 598.6 L1600.3 597.6 L1601.2 596.7 L1602.2 595.7 L1603.1 594.7 L1604.0 593.7 L1604.9 592.6 L1605.8 591.6 L1606.8 590.6 L1607.7 589.5 L1608.6 588.4 L1609.5 587.3 L1610.5 586.2 L1611.4 585.1 L1612.3 584.0 L1613.2 582.9 L1614.2 581.8 L1615.1 580.6 L1616.0 579.5 L1617.0 578.3 L1617.9 577.1 L1618.8 575.9 L1619.7 574.7 L1620.7 573.5 L1621.6 572.3 L1622.5 571.1 L1623.4 569.9 L1624.3 568.7 L1625.3 567.4 L1626.2 566.2 L1627.1 564.9 L1628.0 563.7 L1629.0 562.4 L1629.9 561.1 L1630.8 559.9 L1631.8 558.6 L1632.7 557.3 L1633.6 556.0 L1634.5 554.7 L1635.5 553.4 L1636.4 552.1 L1637.3 550.8 L1638.2 549.5 L1639.2 548.2 L1640.1 546.9 L1641.0 545.5 L1641.9 544.2 L1642.8 542.9 L1643.8 541.6 L1644.7 540.2 L1645.6 538.9 L1646.5 537.6 L1647.5 536.2 L1648.4 534.9 L1649.3 533.5 L1650.2 532.2 L1651.2 530.9 L1652.1 529.5 L1653.0 528.2 L1654.0 526.8 L1654.9 525.5 L1655.8 524.2 L1656.7 522.8 L1657.7 521.5 L1658.6 520.2 L1659.5 518.8 L1660.4 517.5 L1661.3 516.2 L1662.3 514.8 L1663.2 513.5 L1664.1 512.2 L1665.0 510.9 L1666.0 509.6 L1666.9 508.2 L1667.8 506.9 L1668.8 505.6 L1669.7 504.3 L1670.6 503.0 L1671.5 501.7 L1672.5 500.4 L1673.4 499.1 L1674.3 497.9 L1675.2 496.6 L1676.2 495.3 L1677.1 494.0 L1678.0 492.8 L1678.9 491.5 L1679.8 490.3 L1680.8 489.0 L1681.7 487.8 L1682.6 486.6 L1683.5 485.3 L1684.5 484.1 L1685.4 482.9 L1686.3 481.7 L1687.2 480.5 L1688.2 479.3 L1689.1 478.1 L1690.0 476.9 L1691.0 475.8 L1691.9 474.6 L1692.8 473.5 L1693.7 472.3 L1694.7 471.2 L1695.6 470.0 L1696.5 468.9 L1700.2 464.5 L1703.9 460.3 L1707.6 456.2 L1711.3 452.2 L1715.0 448.4 L1718.7 444.8 L1722.4 441.3 L1726.1 438.0 L1729.8 434.9 L1733.5 431.9 L1737.2 429.2 L1740.9 426.6 L1744.6 424.2 L1748.3 421.9 L1752.0 419.9 L1755.7 418.0 L1759.4 416.3 L1763.1 414.8 L1766.8 413.4 L1770.5 412.3 L1774.2 411.2 L1777.9 410.4 L1781.6 409.7 L1785.3 409.2 L1789.0 408.8 L1792.7 408.6 L1796.4 408.6 L1800.1 408.6 L1803.8 408.9 L1807.5 409.2 L1811.2 409.7 L1814.9 410.3 L1818.6 411.0 L1822.3 411.9 L1826.0 412.8 L1829.7 413.9 L1833.4 415.1 L1837.1 416.3 L1840.8 417.7 L1844.5 419.1 L1848.2 420.7 L1851.9 422.3 L1855.6 424.0 L1859.3 425.7 L1863.0 427.6 L1866.7 429.5 L1870.4 431.4 L1874.1 433.4 L1877.8 435.5 L1881.5 437.6 L1885.2 439.7 L1888.9 441.9 L1892.6 444.1 L1896.3 446.4 L1900.0 448.7 L1903.7 451.0 L1907.4 453.3 L1911.1 455.7 L1914.8 458.0 L1918.5 460.4 L1922.2 462.8 L1925.9 465.2 L1929.6 467.6 L1933.3 470.0 L1937.0 472.5 L1940.7 474.9"/>
</g>
<g clip-path="url(#cpd)" fill="none" stroke-width="9" stroke-linejoin="round" stroke-linecap="round">
<path stroke="#000000" d="M1181.0 1286.5 L1184.5 1286.5 L1187.9 1286.5 L1191.4 1286.5 L1194.9 1286.5 L1198.3 1286.5 L1201.8 1286.5 L1205.3 1286.5 L1208.7 1286.5 L1212.2 1286.5 L1215.7 1286.5 L1219.1 1286.5 L1222.6 1286.5 L1226.1 1286.5 L1229.5 1286.5 L1233.0 1286.5 L1236.5 1286.5 L1239.9 1286.5 L1243.4 1286.5 L1246.9 1286.5 L1250.3 1286.5 L1253.8 1286.5 L1257.3 1286.5 L1260.7 1286.5 L1264.2 1286.5 L1267.7 1286.5 L1271.1 1286.5 L1274.6 1286.5 L1278.1 1286.5 L1281.5 1286.5 L1285.0 1286.5 L1288.5 1286.5 L1291.9 1286.5 L1295.4 1286.5 L1298.9 1286.5 L1302.4 1286.5 L1305.8 1286.4 L1309.3 1286.4 L1312.8 1286.4 L1316.2 1286.4 L1319.7 1286.4 L1323.2 1286.4 L1326.6 1286.4 L1330.1 1286.4 L1333.6 1286.4 L1337.0 1286.4 L1340.5 1286.4 L1344.0 1286.4 L1347.4 1286.3 L1350.9 1286.3 L1354.4 1286.3 L1357.8 1286.3 L1361.3 1286.3 L1364.8 1286.2 L1368.2 1286.2 L1371.7 1286.2 L1375.2 1286.1 L1378.6 1286.1 L1382.1 1286.0 L1385.6 1286.0 L1389.0 1285.9 L1392.5 1285.8 L1396.0 1285.8 L1399.4 1285.7 L1402.9 1285.5 L1406.4 1285.4 L1409.8 1285.2 L1410.7 1285.2 L1411.6 1285.2 L1412.4 1285.1 L1413.3 1285.1 L1414.2 1285.0 L1415.0 1285.0 L1415.9 1284.9 L1416.8 1284.8 L1417.6 1284.8 L1418.5 1284.7 L1419.4 1284.7 L1420.2 1284.6 L1421.1 1284.5 L1422.0 1284.5 L1422.8 1284.4 L1423.7 1284.3 L1424.6 1284.2 L1425.4 1284.1 L1426.3 1284.1 L1427.2 1284.0 L1428.0 1283.9 L1428.9 1283.8 L1429.8 1283.7 L1430.6 1283.6 L1431.5 1283.5 L1432.4 1283.4 L1433.2 1283.3 L1434.1 1283.1 L1435.0 1283.0 L1435.8 1282.9 L1436.7 1282.7 L1437.6 1282.6 L1438.4 1282.5 L1439.3 1282.3 L1440.2 1282.2 L1441.0 1282.0 L1441.9 1281.8 L1442.8 1281.6 L1443.6 1281.5 L1444.5 1281.3 L1445.4 1281.1 L1446.2 1280.9 L1447.1 1280.7 L1448.0 1280.5 L1448.8 1280.2 L1449.7 1280.0 L1450.6 1279.8 L1451.4 1279.5 L1452.3 1279.3 L1453.2 1279.0 L1454.0 1278.7 L1454.9 1278.4 L1455.8 1278.1 L1456.6 1277.8 L1457.5 1277.5 L1458.4 1277.2 L1459.2 1276.9 L1460.1 1276.5 L1461.0 1276.2 L1461.8 1275.8 L1462.7 1275.4 L1463.6 1275.0 L1464.4 1274.6 L1465.3 1274.2 L1466.2 1273.8 L1467.0 1273.4 L1467.9 1272.9 L1468.8 1272.5 L1469.6 1272.0 L1470.5 1271.6 L1471.4 1271.1 L1472.2 1270.6 L1473.1 1270.1 L1474.0 1269.6 L1474.8 1269.1 L1475.7 1268.5 L1476.6 1268.0 L1477.4 1267.5 L1478.3 1266.9 L1479.2 1266.4 L1480.0 1265.8 L1480.9 1265.3 L1481.8 1264.7 L1482.6 1264.2 L1483.5 1263.6 L1484.4 1263.1 L1485.2 1262.5 L1486.1 1262.0 L1487.0 1261.5 L1487.8 1261.0 L1488.7 1260.5 L1489.6 1260.0 L1490.4 1259.6 L1491.3 1259.1 L1492.2 1258.7 L1493.0 1258.4 L1493.9 1258.0 L1494.8 1257.8 L1495.6 1257.5 L1496.5 1257.3 L1497.4 1257.2 L1498.2 1257.1 L1499.1 1257.0 L1500.0 1257.0 L1500.8 1257.1 L1501.7 1257.3 L1502.6 1257.5 L1503.4 1257.8 L1504.3 1258.2 L1505.2 1258.7 L1506.0 1259.2 L1506.9 1259.8 L1507.8 1260.5 L1508.6 1261.2 L1509.5 1262.0 L1510.4 1262.9 L1511.2 1263.9 L1512.1 1264.9 L1513.0 1265.9 L1513.8 1267.0 L1514.7 1268.1 L1515.6 1269.2 L1516.4 1270.4 L1517.3 1271.5 L1518.2 1272.6 L1519.0 1273.8 L1519.9 1274.9 L1520.8 1275.9 L1521.6 1277.0 L1522.5 1277.9 L1523.4 1278.9 L1524.2 1279.7 L1525.1 1280.6 L1526.0 1281.3 L1526.8 1282.0 L1527.7 1282.6 L1528.6 1283.2 L1529.4 1283.7 L1530.3 1284.1 L1531.2 1284.5 L1532.0 1284.9 L1532.9 1285.2 L1533.8 1285.4 L1534.6 1285.6 L1535.5 1285.8 L1536.4 1285.9 L1537.2 1286.1 L1538.1 1286.2 L1539.0 1286.2 L1539.8 1286.3 L1540.7 1286.4 L1541.6 1286.4 L1542.4 1286.4 L1543.3 1286.4 L1544.2 1286.5 L1545.0 1286.5 L1545.9 1286.5 L1546.8 1286.5 L1547.6 1286.5 L1548.5 1286.5 L1549.4 1286.5 L1550.2 1286.5 L1551.1 1286.5 L1552.0 1286.5 L1552.8 1286.5 L1553.7 1286.4 L1554.6 1286.4 L1555.4 1286.4 L1556.3 1286.4 L1557.2 1286.3 L1558.0 1286.2 L1558.9 1286.2 L1559.8 1286.1 L1560.6 1285.9 L1561.5 1285.8 L1562.4 1285.6 L1563.2 1285.4 L1564.1 1285.2 L1565.0 1284.9 L1565.8 1284.5 L1566.7 1284.1 L1567.6 1283.7 L1568.4 1283.2 L1569.3 1282.6 L1570.2 1282.0 L1571.0 1281.3 L1571.9 1280.6 L1572.8 1279.7 L1573.6 1278.9 L1574.5 1277.9 L1575.4 1277.0 L1576.2 1275.9 L1577.1 1274.9 L1578.0 1273.8 L1578.8 1272.6 L1579.7 1271.5 L1580.6 1270.4 L1581.4 1269.2 L1582.3 1268.1 L1583.2 1267.0 L1584.0 1265.9 L1584.9 1264.9 L1585.8 1263.9 L1586.6 1262.9 L1587.5 1262.0 L1588.4 1261.2 L1589.2 1260.5 L1590.1 1259.8 L1591.0 1259.2 L1591.8 1258.7 L1592.7 1258.2 L1593.6 1257.8 L1594.4 1257.5 L1595.3 1257.3 L1596.2 1257.1 L1597.0 1257.0 L1597.9 1257.0 L1598.8 1257.1 L1599.6 1257.2 L1600.5 1257.3 L1601.4 1257.5 L1602.2 1257.8 L1603.1 1258.0 L1604.0 1258.4 L1604.8 1258.7 L1605.7 1259.1 L1606.6 1259.6 L1607.4 1260.0 L1608.3 1260.5 L1609.2 1261.0 L1610.0 1261.5 L1610.9 1262.0 L1611.8 1262.5 L1612.6 1263.1 L1613.5 1263.6 L1614.4 1264.2 L1615.2 1264.7 L1616.1 1265.3 L1617.0 1265.8 L1617.8 1266.4 L1618.7 1266.9 L1619.6 1267.5 L1620.4 1268.0 L1621.3 1268.5 L1622.2 1269.1 L1623.0 1269.6 L1623.9 1270.1 L1624.8 1270.6 L1625.6 1271.1 L1626.5 1271.6 L1627.4 1272.0 L1628.2 1272.5 L1629.1 1272.9 L1630.0 1273.4 L1630.8 1273.8 L1631.7 1274.2 L1632.6 1274.6 L1633.4 1275.0 L1634.3 1275.4 L1635.2 1275.8 L1636.0 1276.2 L1636.9 1276.5 L1637.8 1276.9 L1638.6 1277.2 L1639.5 1277.5 L1640.4 1277.8 L1641.2 1278.1 L1642.1 1278.4 L1643.0 1278.7 L1643.8 1279.0 L1644.7 1279.3 L1645.6 1279.5 L1646.4 1279.8 L1647.3 1280.0 L1648.2 1280.2 L1649.0 1280.5 L1649.9 1280.7 L1650.8 1280.9 L1651.6 1281.1 L1652.5 1281.3 L1653.4 1281.5 L1654.2 1281.6 L1655.1 1281.8 L1656.0 1282.0 L1656.8 1282.2 L1657.7 1282.3 L1658.6 1282.5 L1659.4 1282.6 L1660.3 1282.7 L1661.2 1282.9 L1662.0 1283.0 L1662.9 1283.1 L1663.8 1283.3 L1664.6 1283.4 L1665.5 1283.5 L1666.4 1283.6 L1667.2 1283.7 L1668.1 1283.8 L1669.0 1283.9 L1669.8 1284.0 L1670.7 1284.1 L1671.6 1284.1 L1672.4 1284.2 L1673.3 1284.3 L1674.2 1284.4 L1675.0 1284.5 L1675.9 1284.5 L1676.8 1284.6 L1677.6 1284.7 L1678.5 1284.7 L1679.4 1284.8 L1680.2 1284.8 L1681.1 1284.9 L1682.0 1285.0 L1682.8 1285.0 L1683.7 1285.1 L1684.6 1285.1 L1685.4 1285.2 L1686.3 1285.2 L1687.2 1285.2 L1690.6 1285.4 L1694.1 1285.5 L1697.6 1285.7 L1701.0 1285.8 L1704.5 1285.8 L1708.0 1285.9 L1711.4 1286.0 L1714.9 1286.0 L1718.4 1286.1 L1721.8 1286.1 L1725.3 1286.2 L1728.8 1286.2 L1732.2 1286.2 L1735.7 1286.3 L1739.2 1286.3 L1742.6 1286.3 L1746.1 1286.3 L1749.6 1286.3 L1753.0 1286.4 L1756.5 1286.4 L1760.0 1286.4 L1763.4 1286.4 L1766.9 1286.4 L1770.4 1286.4 L1773.8 1286.4 L1777.3 1286.4 L1780.8 1286.4 L1784.2 1286.4 L1787.7 1286.4 L1791.2 1286.4 L1794.6 1286.5 L1798.1 1286.5 L1801.6 1286.5 L1805.1 1286.5 L1808.5 1286.5 L1812.0 1286.5 L1815.5 1286.5 L1818.9 1286.5 L1822.4 1286.5 L1825.9 1286.5 L1829.3 1286.5 L1832.8 1286.5 L1836.3 1286.5 L1839.7 1286.5 L1843.2 1286.5 L1846.7 1286.5 L1850.1 1286.5 L1853.6 1286.5 L1857.1 1286.5 L1860.5 1286.5 L1864.0 1286.5 L1867.5 1286.5 L1870.9 1286.5 L1874.4 1286.5 L1877.9 1286.5 L1881.3 1286.5 L1884.8 1286.5 L1888.3 1286.5 L1891.7 1286.5 L1895.2 1286.5 L1898.7 1286.5 L1902.1 1286.5 L1905.6 1286.5 L1909.1 1286.5 L1912.5 1286.5 L1916.0 1286.5"/>
<path stroke="#ff0000" d="M1144.5 1286.5 L1148.3 1286.5 L1152.2 1286.5 L1156.0 1286.5 L1159.8 1286.5 L1163.6 1286.5 L1167.4 1286.5 L1171.2 1286.5 L1175.0 1286.5 L1178.8 1286.5 L1182.6 1286.5 L1186.5 1286.5 L1190.3 1286.5 L1194.1 1286.5 L1197.9 1286.5 L1201.7 1286.5 L1205.5 1286.5 L1209.3 1286.5 L1213.1 1286.5 L1216.9 1286.5 L1220.8 1286.5 L1224.6 1286.5 L1228.4 1286.5 L1232.2 1286.5 L1236.0 1286.5 L1239.8 1286.5 L1243.6 1286.5 L1247.4 1286.5 L1251.2 1286.5 L1255.1 1286.5 L1258.9 1286.5 L1262.7 1286.5 L1266.5 1286.4 L1270.3 1286.4 L1274.1 1286.4 L1277.9 1286.4 L1281.7 1286.4 L1285.5 1286.4 L1289.4 1286.4 L1293.2 1286.4 L1297.0 1286.4 L1300.8 1286.4 L1304.6 1286.4 L1308.4 1286.4 L1312.2 1286.3 L1316.0 1286.3 L1319.8 1286.3 L1323.7 1286.3 L1327.5 1286.3 L1331.3 1286.2 L1335.1 1286.2 L1338.9 1286.2 L1342.7 1286.1 L1346.5 1286.1 L1350.3 1286.0 L1354.1 1286.0 L1358.0 1285.9 L1361.8 1285.8 L1365.6 1285.7 L1369.4 1285.6 L1373.2 1285.5 L1377.0 1285.3 L1380.8 1285.1 L1384.6 1284.9 L1388.4 1284.7 L1392.2 1284.4 L1396.1 1284.0 L1397.0 1283.9 L1398.0 1283.8 L1398.9 1283.7 L1399.9 1283.6 L1400.8 1283.5 L1401.8 1283.3 L1402.7 1283.2 L1403.7 1283.1 L1404.6 1282.9 L1405.6 1282.8 L1406.5 1282.6 L1407.5 1282.4 L1408.4 1282.3 L1409.4 1282.1 L1410.4 1281.9 L1411.3 1281.7 L1412.3 1281.5 L1413.2 1281.2 L1414.2 1281.0 L1415.1 1280.8 L1416.1 1280.5 L1417.0 1280.2 L1418.0 1279.9 L1418.9 1279.6 L1419.9 1279.3 L1420.8 1279.0 L1421.8 1278.7 L1422.7 1278.3 L1423.7 1277.9 L1424.6 1277.5 L1425.6 1277.1 L1426.5 1276.6 L1427.5 1276.2 L1428.5 1275.7 L1429.4 1275.2 L1430.4 1274.6 L1431.3 1274.1 L1432.3 1273.5 L1433.2 1272.8 L1434.2 1272.2 L1435.1 1271.5 L1436.1 1270.8 L1437.0 1270.0 L1438.0 1269.3 L1438.9 1268.4 L1439.9 1267.6 L1440.8 1266.7 L1441.8 1265.8 L1442.7 1264.8 L1443.7 1263.8 L1444.7 1262.7 L1445.6 1261.6 L1446.6 1260.5 L1447.5 1259.3 L1448.5 1258.0 L1449.4 1256.8 L1450.4 1255.4 L1451.3 1254.1 L1452.3 1252.6 L1453.2 1251.2 L1454.2 1249.6 L1455.1 1248.1 L1456.1 1246.5 L1457.0 1244.8 L1458.0 1243.1 L1458.9 1241.4 L1459.9 1239.6 L1460.8 1237.8 L1461.8 1235.9 L1462.8 1234.0 L1463.7 1232.1 L1464.7 1230.1 L1465.6 1228.1 L1466.6 1226.1 L1467.5 1224.1 L1468.5 1222.0 L1469.4 1220.0 L1470.4 1217.9 L1471.3 1215.9 L1472.3 1213.8 L1473.2 1211.8 L1474.2 1209.7 L1475.1 1207.8 L1476.1 1205.8 L1477.0 1203.9 L1478.0 1202.0 L1478.9 1200.2 L1479.9 1198.4 L1480.9 1196.8 L1481.8 1195.2 L1482.8 1193.7 L1483.7 1192.3 L1484.7 1191.0 L1485.6 1189.8 L1486.6 1188.8 L1487.5 1187.9 L1488.5 1187.2 L1489.4 1186.6 L1490.4 1186.1 L1491.3 1185.9 L1492.3 1185.8 L1493.2 1185.9 L1494.2 1186.2 L1495.1 1186.7 L1496.1 1187.4 L1497.1 1188.3 L1498.0 1189.3 L1499.0 1190.6 L1499.9 1192.1 L1500.9 1193.8 L1501.8 1195.6 L1502.8 1197.7 L1503.7 1199.9 L1504.7 1202.3 L1505.6 1204.8 L1506.6 1207.5 L1507.5 1210.3 L1508.5 1213.2 L1509.4 1216.2 L1510.4 1219.3 L1511.3 1222.4 L1512.3 1225.6 L1513.2 1228.8 L1514.2 1232.1 L1515.2 1235.3 L1516.1 1238.5 L1517.1 1241.7 L1518.0 1244.8 L1519.0 1247.8 L1519.9 1250.8 L1520.9 1253.6 L1521.8 1256.3 L1522.8 1259.0 L1523.7 1261.5 L1524.7 1263.8 L1525.6 1266.1 L1526.6 1268.2 L1527.5 1270.1 L1528.5 1272.0 L1529.4 1273.6 L1530.4 1275.2 L1531.4 1276.6 L1532.3 1277.9 L1533.3 1279.1 L1534.2 1280.2 L1535.2 1281.1 L1536.1 1282.0 L1537.1 1282.7 L1538.0 1283.4 L1539.0 1284.0 L1539.9 1284.5 L1540.9 1285.0 L1541.8 1285.3 L1542.8 1285.7 L1543.7 1285.9 L1544.7 1286.1 L1545.6 1286.3 L1546.6 1286.4 L1547.5 1286.5 L1548.5 1286.5 L1549.5 1286.5 L1550.4 1286.4 L1551.4 1286.3 L1552.3 1286.1 L1553.3 1285.9 L1554.2 1285.7 L1555.2 1285.3 L1556.1 1285.0 L1557.1 1284.5 L1558.0 1284.0 L1559.0 1283.4 L1559.9 1282.7 L1560.9 1282.0 L1561.8 1281.1 L1562.8 1280.2 L1563.7 1279.1 L1564.7 1277.9 L1565.6 1276.6 L1566.6 1275.2 L1567.6 1273.6 L1568.5 1272.0 L1569.5 1270.1 L1570.4 1268.2 L1571.4 1266.1 L1572.3 1263.8 L1573.3 1261.5 L1574.2 1259.0 L1575.2 1256.3 L1576.1 1253.6 L1577.1 1250.8 L1578.0 1247.8 L1579.0 1244.8 L1579.9 1241.7 L1580.9 1238.5 L1581.8 1235.3 L1582.8 1232.1 L1583.8 1228.8 L1584.7 1225.6 L1585.7 1222.4 L1586.6 1219.3 L1587.6 1216.2 L1588.5 1213.2 L1589.5 1210.3 L1590.4 1207.5 L1591.4 1204.8 L1592.3 1202.3 L1593.3 1199.9 L1594.2 1197.7 L1595.2 1195.6 L1596.1 1193.8 L1597.1 1192.1 L1598.0 1190.6 L1599.0 1189.3 L1599.9 1188.3 L1600.9 1187.4 L1601.9 1186.7 L1602.8 1186.2 L1603.8 1185.9 L1604.7 1185.8 L1605.7 1185.9 L1606.6 1186.1 L1607.6 1186.6 L1608.5 1187.2 L1609.5 1187.9 L1610.4 1188.8 L1611.4 1189.8 L1612.3 1191.0 L1613.3 1192.3 L1614.2 1193.7 L1615.2 1195.2 L1616.1 1196.8 L1617.1 1198.4 L1618.1 1200.2 L1619.0 1202.0 L1620.0 1203.9 L1620.9 1205.8 L1621.9 1207.8 L1622.8 1209.7 L1623.8 1211.8 L1624.7 1213.8 L1625.7 1215.9 L1626.6 1217.9 L1627.6 1220.0 L1628.5 1222.0 L1629.5 1224.1 L1630.4 1226.1 L1631.4 1228.1 L1632.3 1230.1 L1633.3 1232.1 L1634.2 1234.0 L1635.2 1235.9 L1636.2 1237.8 L1637.1 1239.6 L1638.1 1241.4 L1639.0 1243.1 L1640.0 1244.8 L1640.9 1246.5 L1641.9 1248.1 L1642.8 1249.6 L1643.8 1251.2 L1644.7 1252.6 L1645.7 1254.1 L1646.6 1255.4 L1647.6 1256.8 L1648.5 1258.0 L1649.5 1259.3 L1650.4 1260.5 L1651.4 1261.6 L1652.3 1262.7 L1653.3 1263.8 L1654.3 1264.8 L1655.2 1265.8 L1656.2 1266.7 L1657.1 1267.6 L1658.1 1268.4 L1659.0 1269.3 L1660.0 1270.0 L1660.9 1270.8 L1661.9 1271.5 L1662.8 1272.2 L1663.8 1272.8 L1664.7 1273.5 L1665.7 1274.1 L1666.6 1274.6 L1667.6 1275.2 L1668.5 1275.7 L1669.5 1276.2 L1670.5 1276.6 L1671.4 1277.1 L1672.4 1277.5 L1673.3 1277.9 L1674.3 1278.3 L1675.2 1278.7 L1676.2 1279.0 L1677.1 1279.3 L1678.1 1279.6 L1679.0 1279.9 L1680.0 1280.2 L1680.9 1280.5 L1681.9 1280.8 L1682.8 1281.0 L1683.8 1281.2 L1684.7 1281.5 L1685.7 1281.7 L1686.6 1281.9 L1687.6 1282.1 L1688.6 1282.3 L1689.5 1282.4 L1690.5 1282.6 L1691.4 1282.8 L1692.4 1282.9 L1693.3 1283.1 L1694.3 1283.2 L1695.2 1283.3 L1696.2 1283.5 L1697.1 1283.6 L1698.1 1283.7 L1699.0 1283.8 L1700.0 1283.9 L1700.9 1284.0 L1704.8 1284.4 L1708.6 1284.7 L1712.4 1284.9 L1716.2 1285.1 L1720.0 1285.3 L1723.8 1285.5 L1727.6 1285.6 L1731.4 1285.7 L1735.2 1285.8 L1739.0 1285.9 L1742.9 1286.0 L1746.7 1286.0 L1750.5 1286.1 L1754.3 1286.1 L1758.1 1286.2 L1761.9 1286.2 L1765.7 1286.2 L1769.5 1286.3 L1773.3 1286.3 L1777.2 1286.3 L1781.0 1286.3 L1784.8 1286.3 L1788.6 1286.4 L1792.4 1286.4 L1796.2 1286.4 L1800.0 1286.4 L1803.8 1286.4 L1807.6 1286.4 L1811.5 1286.4 L1815.3 1286.4 L1819.1 1286.4 L1822.9 1286.4 L1826.7 1286.4 L1830.5 1286.4 L1834.3 1286.5 L1838.1 1286.5 L1841.9 1286.5 L1845.8 1286.5 L1849.6 1286.5 L1853.4 1286.5 L1857.2 1286.5 L1861.0 1286.5 L1864.8 1286.5 L1868.6 1286.5 L1872.4 1286.5 L1876.2 1286.5 L1880.1 1286.5 L1883.9 1286.5 L1887.7 1286.5 L1891.5 1286.5 L1895.3 1286.5 L1899.1 1286.5 L1902.9 1286.5 L1906.7 1286.5 L1910.5 1286.5 L1914.4 1286.5 L1918.2 1286.5 L1922.0 1286.5 L1925.8 1286.5 L1929.6 1286.5 L1933.4 1286.5 L1937.2 1286.5 L1941.0 1286.5 L1944.8 1286.5 L1948.7 1286.5 L1952.5 1286.5"/>
<path stroke="#00ff00" d="M1156.3 1286.5 L1160.0 1286.5 L1163.7 1286.5 L1167.4 1286.5 L1171.1 1286.5 L1174.8 1286.5 L1178.5 1286.5 L1182.2 1286.5 L1185.9 1286.5 L1189.6 1286.5 L1193.3 1286.5 L1197.0 1286.5 L1200.7 1286.5 L1204.4 1286.5 L1208.1 1286.5 L1211.8 1286.5 L1215.5 1286.5 L1219.2 1286.5 L1222.9 1286.5 L1226.6 1286.4 L1230.3 1286.4 L1234.0 1286.4 L1237.7 1286.4 L1241.4 1286.4 L1245.1 1286.4 L1248.8 1286.4 L1252.5 1286.4 L1256.2 1286.4 L1259.9 1286.4 L1263.6 1286.4 L1267.3 1286.4 L1271.0 1286.4 L1274.7 1286.4 L1278.4 1286.3 L1282.1 1286.3 L1285.8 1286.3 L1289.5 1286.3 L1293.2 1286.3 L1296.9 1286.2 L1300.6 1286.2 L1304.3 1286.2 L1308.0 1286.2 L1311.7 1286.1 L1315.4 1286.1 L1319.1 1286.0 L1322.8 1286.0 L1326.5 1285.9 L1330.2 1285.8 L1333.9 1285.8 L1337.6 1285.7 L1341.3 1285.6 L1345.0 1285.4 L1348.7 1285.3 L1352.4 1285.1 L1356.1 1284.9 L1359.8 1284.7 L1363.5 1284.4 L1367.2 1284.1 L1370.9 1283.7 L1374.6 1283.2 L1378.3 1282.7 L1382.0 1282.0 L1385.7 1281.2 L1389.4 1280.2 L1393.1 1279.1 L1396.8 1277.7 L1400.5 1276.0 L1401.4 1275.5 L1402.3 1275.0 L1403.3 1274.5 L1404.2 1273.9 L1405.1 1273.4 L1406.0 1272.8 L1407.0 1272.1 L1407.9 1271.5 L1408.8 1270.8 L1409.8 1270.1 L1410.7 1269.3 L1411.6 1268.5 L1412.5 1267.7 L1413.5 1266.9 L1414.4 1266.0 L1415.3 1265.1 L1416.2 1264.1 L1417.2 1263.1 L1418.1 1262.0 L1419.0 1260.9 L1419.9 1259.8 L1420.8 1258.6 L1421.8 1257.3 L1422.7 1256.1 L1423.6 1254.7 L1424.5 1253.3 L1425.5 1251.9 L1426.4 1250.4 L1427.3 1248.8 L1428.2 1247.2 L1429.2 1245.6 L1430.1 1243.8 L1431.0 1242.1 L1432.0 1240.2 L1432.9 1238.3 L1433.8 1236.3 L1434.7 1234.3 L1435.7 1232.2 L1436.6 1230.1 L1437.5 1227.9 L1438.4 1225.6 L1439.3 1223.3 L1440.3 1220.9 L1441.2 1218.4 L1442.1 1215.9 L1443.0 1213.4 L1444.0 1210.7 L1444.9 1208.1 L1445.8 1205.3 L1446.8 1202.5 L1447.7 1199.7 L1448.6 1196.8 L1449.5 1193.9 L1450.5 1190.9 L1451.4 1187.9 L1452.3 1184.9 L1453.2 1181.8 L1454.2 1178.7 L1455.1 1175.6 L1456.0 1172.4 L1456.9 1169.3 L1457.8 1166.1 L1458.8 1163.0 L1459.7 1159.8 L1460.6 1156.6 L1461.5 1153.5 L1462.5 1150.4 L1463.4 1147.3 L1464.3 1144.2 L1465.2 1141.2 L1466.2 1138.2 L1467.1 1135.3 L1468.0 1132.5 L1469.0 1129.7 L1469.9 1127.1 L1470.8 1124.5 L1471.7 1122.0 L1472.7 1119.6 L1473.6 1117.4 L1474.5 1115.2 L1475.4 1113.2 L1476.3 1111.4 L1477.3 1109.7 L1478.2 1108.2 L1479.1 1106.8 L1480.0 1105.6 L1481.0 1104.6 L1481.9 1103.8 L1482.8 1103.3 L1483.8 1102.9 L1484.7 1102.7 L1485.6 1102.7 L1486.5 1103.0 L1487.5 1103.5 L1488.4 1104.3 L1489.3 1105.2 L1490.2 1106.4 L1491.2 1107.9 L1492.1 1109.5 L1493.0 1111.4 L1493.9 1113.6 L1494.8 1115.9 L1495.8 1118.5 L1496.7 1121.3 L1497.6 1124.3 L1498.5 1127.6 L1499.5 1131.0 L1500.4 1134.6 L1501.3 1138.3 L1502.2 1142.2 L1503.2 1146.3 L1504.1 1150.5 L1505.0 1154.8 L1506.0 1159.3 L1506.9 1163.8 L1507.8 1168.4 L1508.7 1173.0 L1509.7 1177.7 L1510.6 1182.4 L1511.5 1187.2 L1512.4 1191.9 L1513.3 1196.6 L1514.3 1201.2 L1515.2 1205.8 L1516.1 1210.4 L1517.0 1214.8 L1518.0 1219.2 L1518.9 1223.5 L1519.8 1227.6 L1520.8 1231.6 L1521.7 1235.6 L1522.6 1239.3 L1523.5 1242.9 L1524.5 1246.4 L1525.4 1249.7 L1526.3 1252.9 L1527.2 1255.9 L1528.2 1258.8 L1529.1 1261.5 L1530.0 1264.0 L1530.9 1266.4 L1531.8 1268.6 L1532.8 1270.7 L1533.7 1272.7 L1534.6 1274.4 L1535.5 1276.1 L1536.5 1277.6 L1537.4 1279.0 L1538.3 1280.2 L1539.2 1281.4 L1540.2 1282.4 L1541.1 1283.3 L1542.0 1284.0 L1543.0 1284.7 L1543.9 1285.3 L1544.8 1285.7 L1545.7 1286.1 L1546.7 1286.3 L1547.6 1286.5 L1548.5 1286.5 L1549.4 1286.5 L1550.3 1286.3 L1551.3 1286.1 L1552.2 1285.7 L1553.1 1285.3 L1554.0 1284.7 L1555.0 1284.0 L1555.9 1283.3 L1556.8 1282.4 L1557.8 1281.4 L1558.7 1280.2 L1559.6 1279.0 L1560.5 1277.6 L1561.5 1276.1 L1562.4 1274.4 L1563.3 1272.7 L1564.2 1270.7 L1565.2 1268.6 L1566.1 1266.4 L1567.0 1264.0 L1567.9 1261.5 L1568.8 1258.8 L1569.8 1255.9 L1570.7 1252.9 L1571.6 1249.7 L1572.5 1246.4 L1573.5 1242.9 L1574.4 1239.3 L1575.3 1235.6 L1576.2 1231.6 L1577.2 1227.6 L1578.1 1223.5 L1579.0 1219.2 L1580.0 1214.8 L1580.9 1210.4 L1581.8 1205.8 L1582.7 1201.2 L1583.7 1196.6 L1584.6 1191.9 L1585.5 1187.2 L1586.4 1182.4 L1587.3 1177.7 L1588.3 1173.0 L1589.2 1168.4 L1590.1 1163.8 L1591.0 1159.3 L1592.0 1154.8 L1592.9 1150.5 L1593.8 1146.3 L1594.8 1142.2 L1595.7 1138.3 L1596.6 1134.6 L1597.5 1131.0 L1598.5 1127.6 L1599.4 1124.3 L1600.3 1121.3 L1601.2 1118.5 L1602.2 1115.9 L1603.1 1113.6 L1604.0 1111.4 L1604.9 1109.5 L1605.8 1107.9 L1606.8 1106.4 L1607.7 1105.2 L1608.6 1104.3 L1609.5 1103.5 L1610.5 1103.0 L1611.4 1102.7 L1612.3 1102.7 L1613.2 1102.9 L1614.2 1103.3 L1615.1 1103.8 L1616.0 1104.6 L1617.0 1105.6 L1617.9 1106.8 L1618.8 1108.2 L1619.7 1109.7 L1620.7 1111.4 L1621.6 1113.2 L1622.5 1115.2 L1623.4 1117.4 L1624.3 1119.6 L1625.3 1122.0 L1626.2 1124.5 L1627.1 1127.1 L1628.0 1129.7 L1629.0 1132.5 L1629.9 1135.3 L1630.8 1138.2 L1631.8 1141.2 L1632.7 1144.2 L1633.6 1147.3 L1634.5 1150.4 L1635.5 1153.5 L1636.4 1156.6 L1637.3 1159.8 L1638.2 1163.0 L1639.2 1166.1 L1640.1 1169.3 L1641.0 1172.4 L1641.9 1175.6 L1642.8 1178.7 L1643.8 1181.8 L1644.7 1184.9 L1645.6 1187.9 L1646.5 1190.9 L1647.5 1193.9 L1648.4 1196.8 L1649.3 1199.7 L1650.2 1202.5 L1651.2 1205.3 L1652.1 1208.1 L1653.0 1210.7 L1654.0 1213.4 L1654.9 1215.9 L1655.8 1218.4 L1656.7 1220.9 L1657.7 1223.3 L1658.6 1225.6 L1659.5 1227.9 L1660.4 1230.1 L1661.3 1232.2 L1662.3 1234.3 L1663.2 1236.3 L1664.1 1238.3 L1665.0 1240.2 L1666.0 1242.1 L1666.9 1243.8 L1667.8 1245.6 L1668.8 1247.2 L1669.7 1248.8 L1670.6 1250.4 L1671.5 1251.9 L1672.5 1253.3 L1673.4 1254.7 L1674.3 1256.1 L1675.2 1257.3 L1676.2 1258.6 L1677.1 1259.8 L1678.0 1260.9 L1678.9 1262.0 L1679.8 1263.1 L1680.8 1264.1 L1681.7 1265.1 L1682.6 1266.0 L1683.5 1266.9 L1684.5 1267.7 L1685.4 1268.5 L1686.3 1269.3 L1687.2 1270.1 L1688.2 1270.8 L1689.1 1271.5 L1690.0 1272.1 L1691.0 1272.8 L1691.9 1273.4 L1692.8 1273.9 L1693.7 1274.5 L1694.7 1275.0 L1695.6 1275.5 L1696.5 1276.0 L1700.2 1277.7 L1703.9 1279.1 L1707.6 1280.2 L1711.3 1281.2 L1715.0 1282.0 L1718.7 1282.7 L1722.4 1283.2 L1726.1 1283.7 L1729.8 1284.1 L1733.5 1284.4 L1737.2 1284.7 L1740.9 1284.9 L1744.6 1285.1 L1748.3 1285.3 L1752.0 1285.4 L1755.7 1285.6 L1759.4 1285.7 L1763.1 1285.8 L1766.8 1285.8 L1770.5 1285.9 L1774.2 1286.0 L1777.9 1286.0 L1781.6 1286.1 L1785.3 1286.1 L1789.0 1286.2 L1792.7 1286.2 L1796.4 1286.2 L1800.1 1286.2 L1803.8 1286.3 L1807.5 1286.3 L1811.2 1286.3 L1814.9 1286.3 L1818.6 1286.3 L1822.3 1286.4 L1826.0 1286.4 L1829.7 1286.4 L1833.4 1286.4 L1837.1 1286.4 L1840.8 1286.4 L1844.5 1286.4 L1848.2 1286.4 L1851.9 1286.4 L1855.6 1286.4 L1859.3 1286.4 L1863.0 1286.4 L1866.7 1286.4 L1870.4 1286.4 L1874.1 1286.5 L1877.8 1286.5 L1881.5 1286.5 L1885.2 1286.5 L1888.9 1286.5 L1892.6 1286.5 L1896.3 1286.5 L1900.0 1286.5 L1903.7 1286.5 L1907.4 1286.5 L1911.1 1286.5 L1914.8 1286.5 L1918.5 1286.5 L1922.2 1286.5 L1925.9 1286.5 L1929.6 1286.5 L1933.3 1286.5 L1937.0 1286.5 L1940.7 1286.5"/>
<path stroke="#0000ff" d="M1156.3 1286.5 L1160.0 1286.5 L1163.7 1286.5 L1167.4 1286.5 L1171.1 1286.5 L1174.8 1286.5 L1178.5 1286.5 L1182.2 1286.5 L1185.9 1286.5 L1189.6 1286.4 L1193.3 1286.4 L1197.0 1286.4 L1200.7 1286.4 L1204.4 1286.4 L1208.1 1286.4 L1211.8 1286.4 L1215.5 1286.4 L1219.2 1286.4 L1222.9 1286.4 L1226.6 1286.4 L1230.3 1286.4 L1234.0 1286.4 L1237.7 1286.4 L1241.4 1286.4 L1245.1 1286.3 L1248.8 1286.3 L1252.5 1286.3 L1256.2 1286.3 L1259.9 1286.3 L1263.6 1286.3 L1267.3 1286.2 L1271.0 1286.2 L1274.7 1286.2 L1278.4 1286.1 L1282.1 1286.1 L1285.8 1286.1 L1289.5 1286.0 L1293.2 1286.0 L1296.9 1285.9 L1300.6 1285.8 L1304.3 1285.7 L1308.0 1285.6 L1311.7 1285.5 L1315.4 1285.4 L1319.1 1285.2 L1322.8 1285.1 L1326.5 1284.9 L1330.2 1284.6 L1333.9 1284.3 L1337.6 1284.0 L1341.3 1283.6 L1345.0 1283.1 L1348.7 1282.5 L1352.4 1281.9 L1356.1 1281.1 L1359.8 1280.1 L1363.5 1279.0 L1367.2 1277.6 L1370.9 1276.0 L1374.6 1274.1 L1378.3 1271.8 L1382.0 1269.1 L1385.7 1266.0 L1389.4 1262.3 L1393.1 1258.0 L1396.8 1253.1 L1400.5 1247.3 L1401.4 1245.8 L1402.3 1244.1 L1403.3 1242.5 L1404.2 1240.8 L1405.1 1239.0 L1406.0 1237.1 L1407.0 1235.3 L1407.9 1233.3 L1408.8 1231.3 L1409.8 1229.2 L1410.7 1227.1 L1411.6 1224.9 L1412.5 1222.6 L1413.5 1220.3 L1414.4 1217.9 L1415.3 1215.5 L1416.2 1212.9 L1417.2 1210.4 L1418.1 1207.7 L1419.0 1205.0 L1419.9 1202.2 L1420.8 1199.4 L1421.8 1196.5 L1422.7 1193.5 L1423.6 1190.5 L1424.5 1187.4 L1425.5 1184.2 L1426.4 1181.0 L1427.3 1177.7 L1428.2 1174.4 L1429.2 1171.0 L1430.1 1167.5 L1431.0 1164.0 L1432.0 1160.5 L1432.9 1156.9 L1433.8 1153.2 L1434.7 1149.5 L1435.7 1145.8 L1436.6 1142.0 L1437.5 1138.2 L1438.4 1134.3 L1439.3 1130.4 L1440.3 1126.5 L1441.2 1122.6 L1442.1 1118.6 L1443.0 1114.7 L1444.0 1110.7 L1444.9 1106.7 L1445.8 1102.7 L1446.8 1098.8 L1447.7 1094.8 L1448.6 1090.9 L1449.5 1087.0 L1450.5 1083.1 L1451.4 1079.2 L1452.3 1075.4 L1453.2 1071.7 L1454.2 1068.0 L1455.1 1064.4 L1456.0 1060.8 L1456.9 1057.3 L1457.8 1053.9 L1458.8 1050.6 L1459.7 1047.4 L1460.6 1044.3 L1461.5 1041.3 L1462.5 1038.5 L1463.4 1035.7 L1464.3 1033.2 L1465.2 1030.7 L1466.2 1028.4 L1467.1 1026.3 L1468.0 1024.4 L1469.0 1022.6 L1469.9 1021.0 L1470.8 1019.6 L1471.7 1018.4 L1472.7 1017.4 L1473.6 1016.6 L1474.5 1016.0 L1475.4 1015.7 L1476.3 1015.5 L1477.3 1015.6 L1478.2 1015.9 L1479.1 1016.5 L1480.0 1017.3 L1481.0 1018.4 L1481.9 1019.6 L1482.8 1021.2 L1483.8 1022.9 L1484.7 1024.9 L1485.6 1027.2 L1486.5 1029.7 L1487.5 1032.4 L1488.4 1035.4 L1489.3 1038.6 L1490.2 1042.0 L1491.2 1045.6 L1492.1 1049.4 L1493.0 1053.5 L1493.9 1057.7 L1494.8 1062.2 L1495.8 1066.8 L1496.7 1071.5 L1497.6 1076.5 L1498.5 1081.5 L1499.5 1086.8 L1500.4 1092.1 L1501.3 1097.5 L1502.2 1103.1 L1503.2 1108.7 L1504.1 1114.4 L1505.0 1120.2 L1506.0 1126.0 L1506.9 1131.8 L1507.8 1137.7 L1508.7 1143.6 L1509.7 1149.4 L1510.6 1155.2 L1511.5 1161.1 L1512.4 1166.8 L1513.3 1172.5 L1514.3 1178.1 L1515.2 1183.7 L1516.1 1189.1 L1517.0 1194.5 L1518.0 1199.8 L1518.9 1204.9 L1519.8 1209.9 L1520.8 1214.8 L1521.7 1219.5 L1522.6 1224.1 L1523.5 1228.6 L1524.5 1232.8 L1525.4 1237.0 L1526.3 1240.9 L1527.2 1244.7 L1528.2 1248.4 L1529.1 1251.8 L1530.0 1255.1 L1530.9 1258.3 L1531.8 1261.2 L1532.8 1264.0 L1533.7 1266.6 L1534.6 1269.1 L1535.5 1271.4 L1536.5 1273.5 L1537.4 1275.4 L1538.3 1277.2 L1539.2 1278.9 L1540.2 1280.3 L1541.1 1281.6 L1542.0 1282.8 L1543.0 1283.8 L1543.9 1284.6 L1544.8 1285.3 L1545.7 1285.8 L1546.7 1286.2 L1547.6 1286.4 L1548.5 1286.5 L1549.4 1286.4 L1550.3 1286.2 L1551.3 1285.8 L1552.2 1285.3 L1553.1 1284.6 L1554.0 1283.8 L1555.0 1282.8 L1555.9 1281.6 L1556.8 1280.3 L1557.8 1278.9 L1558.7 1277.2 L1559.6 1275.4 L1560.5 1273.5 L1561.5 1271.4 L1562.4 1269.1 L1563.3 1266.6 L1564.2 1264.0 L1565.2 1261.2 L1566.1 1258.3 L1567.0 1255.1 L1567.9 1251.8 L1568.8 1248.4 L1569.8 1244.7 L1570.7 1240.9 L1571.6 1237.0 L1572.5 1232.8 L1573.5 1228.6 L1574.4 1224.1 L1575.3 1219.5 L1576.2 1214.8 L1577.2 1209.9 L1578.1 1204.9 L1579.0 1199.8 L1580.0 1194.5 L1580.9 1189.1 L1581.8 1183.7 L1582.7 1178.1 L1583.7 1172.5 L1584.6 1166.8 L1585.5 1161.1 L1586.4 1155.2 L1587.3 1149.4 L1588.3 1143.6 L1589.2 1137.7 L1590.1 1131.8 L1591.0 1126.0 L1592.0 1120.2 L1592.9 1114.4 L1593.8 1108.7 L1594.8 1103.1 L1595.7 1097.5 L1596.6 1092.1 L1597.5 1086.8 L1598.5 1081.5 L1599.4 1076.5 L1600.3 1071.5 L1601.2 1066.8 L1602.2 1062.2 L1603.1 1057.7 L1604.0 1053.5 L1604.9 1049.4 L1605.8 1045.6 L1606.8 1042.0 L1607.7 1038.6 L1608.6 1035.4 L1609.5 1032.4 L1610.5 1029.7 L1611.4 1027.2 L1612.3 1024.9 L1613.2 1022.9 L1614.2 1021.2 L1615.1 1019.6 L1616.0 1018.4 L1617.0 1017.3 L1617.9 1016.5 L1618.8 1015.9 L1619.7 1015.6 L1620.7 1015.5 L1621.6 1015.7 L1622.5 1016.0 L1623.4 1016.6 L1624.3 1017.4 L1625.3 1018.4 L1626.2 1019.6 L1627.1 1021.0 L1628.0 1022.6 L1629.0 1024.4 L1629.9 1026.3 L1630.8 1028.4 L1631.8 1030.7 L1632.7 1033.2 L1633.6 1035.7 L1634.5 1038.5 L1635.5 1041.3 L1636.4 1044.3 L1637.3 1047.4 L1638.2 1050.6 L1639.2 1053.9 L1640.1 1057.3 L1641.0 1060.8 L1641.9 1064.4 L1642.8 1068.0 L1643.8 1071.7 L1644.7 1075.4 L1645.6 1079.2 L1646.5 1083.1 L1647.5 1087.0 L1648.4 1090.9 L1649.3 1094.8 L1650.2 1098.8 L1651.2 1102.7 L1652.1 1106.7 L1653.0 1110.7 L1654.0 1114.7 L1654.9 1118.6 L1655.8 1122.6 L1656.7 1126.5 L1657.7 1130.4 L1658.6 1134.3 L1659.5 1138.2 L1660.4 1142.0 L1661.3 1145.8 L1662.3 1149.5 L1663.2 1153.2 L1664.1 1156.9 L1665.0 1160.5 L1666.0 1164.0 L1666.9 1167.5 L1667.8 1171.0 L1668.8 1174.4 L1669.7 1177.7 L1670.6 1181.0 L1671.5 1184.2 L1672.5 1187.4 L1673.4 1190.5 L1674.3 1193.5 L1675.2 1196.5 L1676.2 1199.4 L1677.1 1202.2 L1678.0 1205.0 L1678.9 1207.7 L1679.8 1210.4 L1680.8 1212.9 L1681.7 1215.5 L1682.6 1217.9 L1683.5 1220.3 L1684.5 1222.6 L1685.4 1224.9 L1686.3 1227.1 L1687.2 1229.2 L1688.2 1231.3 L1689.1 1233.3 L1690.0 1235.3 L1691.0 1237.1 L1691.9 1239.0 L1692.8 1240.8 L1693.7 1242.5 L1694.7 1244.1 L1695.6 1245.8 L1696.5 1247.3 L1700.2 1253.1 L1703.9 1258.0 L1707.6 1262.3 L1711.3 1266.0 L1715.0 1269.1 L1718.7 1271.8 L1722.4 1274.1 L1726.1 1276.0 L1729.8 1277.6 L1733.5 1279.0 L1737.2 1280.1 L1740.9 1281.1 L1744.6 1281.9 L1748.3 1282.5 L1752.0 1283.1 L1755.7 1283.6 L1759.4 1284.0 L1763.1 1284.3 L1766.8 1284.6 L1770.5 1284.9 L1774.2 1285.1 L1777.9 1285.2 L1781.6 1285.4 L1785.3 1285.5 L1789.0 1285.6 L1792.7 1285.7 L1796.4 1285.8 L1800.1 1285.9 L1803.8 1286.0 L1807.5 1286.0 L1811.2 1286.1 L1814.9 1286.1 L1818.6 1286.1 L1822.3 1286.2 L1826.0 1286.2 L1829.7 1286.2 L1833.4 1286.3 L1837.1 1286.3 L1840.8 1286.3 L1844.5 1286.3 L1848.2 1286.3 L1851.9 1286.3 L1855.6 1286.4 L1859.3 1286.4 L1863.0 1286.4 L1866.7 1286.4 L1870.4 1286.4 L1874.1 1286.4 L1877.8 1286.4 L1881.5 1286.4 L1885.2 1286.4 L1888.9 1286.4 L1892.6 1286.4 L1896.3 1286.4 L1900.0 1286.4 L1903.7 1286.4 L1907.4 1286.4 L1911.1 1286.5 L1914.8 1286.5 L1918.5 1286.5 L1922.2 1286.5 L1925.9 1286.5 L1929.6 1286.5 L1933.3 1286.5 L1937.0 1286.5 L1940.7 1286.5"/>
<path stroke="#008000" d="M1156.3 959.8 L1160.0 954.8 L1163.7 949.8 L1167.4 944.8 L1171.1 939.8 L1174.8 934.8 L1178.5 929.9 L1182.2 925.0 L1185.9 920.2 L1189.6 915.4 L1193.3 910.6 L1197.0 905.9 L1200.7 901.3 L1204.4 896.8 L1208.1 892.3 L1211.8 888.0 L1215.5 883.7 L1219.2 879.6 L1222.9 875.5 L1226.6 871.6 L1230.3 867.8 L1234.0 864.2 L1237.7 860.6 L1241.4 857.3 L1245.1 854.1 L1248.8 851.1 L1252.5 848.3 L1256.2 845.7 L1259.9 843.2 L1263.6 841.0 L1267.3 839.0 L1271.0 837.3 L1274.7 835.7 L1278.4 834.5 L1282.1 833.4 L1285.8 832.7 L1289.5 832.2 L1293.2 832.0 L1296.9 832.1 L1300.6 832.5 L1304.3 833.2 L1308.0 834.2 L1311.7 835.5 L1315.4 837.2 L1319.1 839.2 L1322.8 841.5 L1326.5 844.2 L1330.2 847.2 L1333.9 850.6 L1337.6 854.4 L1341.3 858.4 L1345.0 862.9 L1348.7 867.7 L1352.4 872.9 L1356.1 878.4 L1359.8 884.3 L1363.5 890.5 L1367.2 897.1 L1370.9 904.0 L1374.6 911.2 L1378.3 918.8 L1382.0 926.7 L1385.7 934.9 L1389.4 943.4 L1393.1 952.2 L1396.8 961.3 L1400.5 970.6 L1401.4 972.9 L1402.3 975.3 L1403.3 977.7 L1404.2 980.1 L1405.1 982.6 L1406.0 985.0 L1407.0 987.5 L1407.9 989.9 L1408.8 992.4 L1409.8 994.9 L1410.7 997.4 L1411.6 999.9 L1412.5 1002.4 L1413.5 1005.0 L1414.4 1007.5 L1415.3 1010.1 L1416.2 1012.6 L1417.2 1015.2 L1418.1 1017.8 L1419.0 1020.4 L1419.9 1023.0 L1420.8 1025.6 L1421.8 1028.2 L1422.7 1030.9 L1423.6 1033.5 L1424.5 1036.2 L1425.5 1038.8 L1426.4 1041.5 L1427.3 1044.1 L1428.2 1046.8 L1429.2 1049.5 L1430.1 1052.2 L1431.0 1054.8 L1432.0 1057.5 L1432.9 1060.2 L1433.8 1062.9 L1434.7 1065.6 L1435.7 1068.3 L1436.6 1071.0 L1437.5 1073.7 L1438.4 1076.4 L1439.3 1079.2 L1440.3 1081.9 L1441.2 1084.6 L1442.1 1087.3 L1443.0 1090.0 L1444.0 1092.7 L1444.9 1095.4 L1445.8 1098.1 L1446.8 1100.8 L1447.7 1103.5 L1448.6 1106.2 L1449.5 1108.9 L1450.5 1111.6 L1451.4 1114.2 L1452.3 1116.9 L1453.2 1119.6 L1454.2 1122.3 L1455.1 1124.9 L1456.0 1127.6 L1456.9 1130.2 L1457.8 1132.8 L1458.8 1135.5 L1459.7 1138.1 L1460.6 1140.7 L1461.5 1143.3 L1462.5 1145.9 L1463.4 1148.5 L1464.3 1151.0 L1465.2 1153.6 L1466.2 1156.1 L1467.1 1158.7 L1468.0 1161.2 L1469.0 1163.7 L1469.9 1166.2 L1470.8 1168.7 L1471.7 1171.1 L1472.7 1173.6 L1473.6 1176.0 L1474.5 1178.4 L1475.4 1180.8 L1476.3 1183.2 L1477.3 1185.6 L1478.2 1187.9 L1479.1 1190.2 L1480.0 1192.6 L1481.0 1194.8 L1481.9 1197.1 L1482.8 1199.4 L1483.8 1201.6 L1484.7 1203.8 L1485.6 1206.0 L1486.5 1208.2 L1487.5 1210.3 L1488.4 1212.4 L1489.3 1214.5 L1490.2 1216.6 L1491.2 1218.7 L1492.1 1220.7 L1493.0 1222.7 L1493.9 1224.7 L1494.8 1226.7 L1495.8 1228.6 L1496.7 1230.5 L1497.6 1232.4 L1498.5 1234.2 L1499.5 1236.1 L1500.4 1237.8 L1501.3 1239.6 L1502.2 1241.4 L1503.2 1243.1 L1504.1 1244.8 L1505.0 1246.4 L1506.0 1248.0 L1506.9 1249.6 L1507.8 1251.2 L1508.7 1252.7 L1509.7 1254.2 L1510.6 1255.7 L1511.5 1257.2 L1512.4 1258.6 L1513.3 1259.9 L1514.3 1261.3 L1515.2 1262.6 L1516.1 1263.9 L1517.0 1265.1 L1518.0 1266.4 L1518.9 1267.5 L1519.8 1268.7 L1520.8 1269.8 L1521.7 1270.9 L1522.6 1271.9 L1523.5 1272.9 L1524.5 1273.9 L1525.4 1274.8 L1526.3 1275.7 L1527.2 1276.6 L1528.2 1277.4 L1529.1 1278.2 L1530.0 1279.0 L1530.9 1279.7 L1531.8 1280.4 L1532.8 1281.1 L1533.7 1281.7 L1534.6 1282.3 L1535.5 1282.8 L1536.5 1283.3 L1537.4 1283.8 L1538.3 1284.2 L1539.2 1284.6 L1540.2 1285.0 L1541.1 1285.3 L1542.0 1285.6 L1543.0 1285.8 L1543.9 1286.0 L1544.8 1286.2 L1545.7 1286.3 L1546.7 1286.4 L1547.6 1286.5 L1548.5 1286.5 L1549.4 1286.5 L1550.3 1286.4 L1551.3 1286.3 L1552.2 1286.2 L1553.1 1286.0 L1554.0 1285.8 L1555.0 1285.6 L1555.9 1285.3 L1556.8 1285.0 L1557.8 1284.6 L1558.7 1284.2 L1559.6 1283.8 L1560.5 1283.3 L1561.5 1282.8 L1562.4 1282.3 L1563.3 1281.7 L1564.2 1281.1 L1565.2 1280.4 L1566.1 1279.7 L1567.0 1279.0 L1567.9 1278.2 L1568.8 1277.4 L1569.8 1276.6 L1570.7 1275.7 L1571.6 1274.8 L1572.5 1273.9 L1573.5 1272.9 L1574.4 1271.9 L1575.3 1270.9 L1576.2 1269.8 L1577.2 1268.7 L1578.1 1267.5 L1579.0 1266.4 L1580.0 1265.1 L1580.9 1263.9 L1581.8 1262.6 L1582.7 1261.3 L1583.7 1259.9 L1584.6 1258.6 L1585.5 1257.2 L1586.4 1255.7 L1587.3 1254.2 L1588.3 1252.7 L1589.2 1251.2 L1590.1 1249.6 L1591.0 1248.0 L1592.0 1246.4 L1592.9 1244.8 L1593.8 1243.1 L1594.8 1241.4 L1595.7 1239.6 L1596.6 1237.8 L1597.5 1236.1 L1598.5 1234.2 L1599.4 1232.4 L1600.3 1230.5 L1601.2 1228.6 L1602.2 1226.7 L1603.1 1224.7 L1604.0 1222.7 L1604.9 1220.7 L1605.8 1218.7 L1606.8 1216.6 L1607.7 1214.5 L1608.6 1212.4 L1609.5 1210.3 L1610.5 1208.2 L1611.4 1206.0 L1612.3 1203.8 L1613.2 1201.6 L1614.2 1199.4 L1615.1 1197.1 L1616.0 1194.8 L1617.0 1192.6 L1617.9 1190.2 L1618.8 1187.9 L1619.7 1185.6 L1620.7 1183.2 L1621.6 1180.8 L1622.5 1178.4 L1623.4 1176.0 L1624.3 1173.6 L1625.3 1171.1 L1626.2 1168.7 L1627.1 1166.2 L1628.0 1163.7 L1629.0 1161.2 L1629.9 1158.7 L1630.8 1156.1 L1631.8 1153.6 L1632.7 1151.0 L1633.6 1148.5 L1634.5 1145.9 L1635.5 1143.3 L1636.4 1140.7 L1637.3 1138.1 L1638.2 1135.5 L1639.2 1132.8 L1640.1 1130.2 L1641.0 1127.6 L1641.9 1124.9 L1642.8 1122.3 L1643.8 1119.6 L1644.7 1116.9 L1645.6 1114.2 L1646.5 1111.6 L1647.5 1108.9 L1648.4 1106.2 L1649.3 1103.5 L1650.2 1100.8 L1651.2 1098.1 L1652.1 1095.4 L1653.0 1092.7 L1654.0 1090.0 L1654.9 1087.3 L1655.8 1084.6 L1656.7 1081.9 L1657.7 1079.2 L1658.6 1076.4 L1659.5 1073.7 L1660.4 1071.0 L1661.3 1068.3 L1662.3 1065.6 L1663.2 1062.9 L1664.1 1060.2 L1665.0 1057.5 L1666.0 1054.8 L1666.9 1052.2 L1667.8 1049.5 L1668.8 1046.8 L1669.7 1044.1 L1670.6 1041.5 L1671.5 1038.8 L1672.5 1036.2 L1673.4 1033.5 L1674.3 1030.9 L1675.2 1028.2 L1676.2 1025.6 L1677.1 1023.0 L1678.0 1020.4 L1678.9 1017.8 L1679.8 1015.2 L1680.8 1012.6 L1681.7 1010.1 L1682.6 1007.5 L1683.5 1005.0 L1684.5 1002.4 L1685.4 999.9 L1686.3 997.4 L1687.2 994.9 L1688.2 992.4 L1689.1 989.9 L1690.0 987.5 L1691.0 985.0 L1691.9 982.6 L1692.8 980.1 L1693.7 977.7 L1694.7 975.3 L1695.6 972.9 L1696.5 970.6 L1700.2 961.3 L1703.9 952.2 L1707.6 943.4 L1711.3 934.9 L1715.0 926.7 L1718.7 918.8 L1722.4 911.2 L1726.1 904.0 L1729.8 897.1 L1733.5 890.5 L1737.2 884.3 L1740.9 878.4 L1744.6 872.9 L1748.3 867.7 L1752.0 862.9 L1755.7 858.4 L1759.4 854.4 L1763.1 850.6 L1766.8 847.2 L1770.5 844.2 L1774.2 841.5 L1777.9 839.2 L1781.6 837.2 L1785.3 835.5 L1789.0 834.2 L1792.7 833.2 L1796.4 832.5 L1800.1 832.1 L1803.8 832.0 L1807.5 832.2 L1811.2 832.7 L1814.9 833.4 L1818.6 834.5 L1822.3 835.7 L1826.0 837.3 L1829.7 839.0 L1833.4 841.0 L1837.1 843.2 L1840.8 845.7 L1844.5 848.3 L1848.2 851.1 L1851.9 854.1 L1855.6 857.3 L1859.3 860.6 L1863.0 864.2 L1866.7 867.8 L1870.4 871.6 L1874.1 875.5 L1877.8 879.6 L1881.5 883.7 L1885.2 888.0 L1888.9 892.3 L1892.6 896.8 L1896.3 901.3 L1900.0 905.9 L1903.7 910.6 L1907.4 915.4 L1911.1 920.2 L1914.8 925.0 L1918.5 929.9 L1922.2 934.8 L1925.9 939.8 L1929.6 944.8 L1933.3 949.8 L1937.0 954.8 L1940.7 959.8"/>
</g>
<line x1="540.4" y1="125.2" x2="593.5" y2="151.0" stroke="#000" stroke-width="5.0" stroke-linecap="round"/><polygon points="611.0,159.5 588.9,155.8 594.4,144.4" fill="#000"/>
<line x1="781.1" y1="817.3" x2="733.0" y2="834.2" stroke="#000" stroke-width="5.0" stroke-linecap="round"/><polygon points="714.6,840.6 732.8,827.5 737.0,839.4" fill="#000"/>
<line x1="391.5" y1="1181.8" x2="467.7" y2="1164.4" stroke="#000" stroke-width="5.0" stroke-linecap="round"/><polygon points="486.7,1160.0 467.1,1170.9 464.3,1158.7" fill="#000"/>
<line x1="1306.1" y1="351.9" x2="1301.1" y2="384.5" stroke="#000" stroke-width="5.0" stroke-linecap="round"/><polygon points="1298.2,403.8 1295.2,381.6 1307.7,383.5" fill="#000"/>
<line x1="1778.2" y1="341.3" x2="1785.7" y2="381.2" stroke="#000" stroke-width="5.0" stroke-linecap="round"/><polygon points="1789.3,400.4 1779.1,380.4 1791.5,378.1" fill="#000"/>
<line x1="1379.7" y1="787.0" x2="1324.6" y2="812.0" stroke="#000" stroke-width="5.0" stroke-linecap="round"/><polygon points="1306.8,820.0 1323.8,805.4 1329.0,816.9" fill="#000"/>
<line x1="1741.7" y1="786.8" x2="1786.3" y2="822.3" stroke="#000" stroke-width="5.0" stroke-linecap="round"/><polygon points="1801.5,834.5 1780.8,826.0 1788.6,816.2" fill="#000"/>
<rect x="228.5" y="48.5" width="739.0" height="578.0" fill="none" stroke="#000" stroke-width="3"/>
<path d="M228.5 626.5 V637.0 M413.2 626.5 V637.0 M598.0 626.5 V637.0 M782.8 626.5 V637.0 M967.5 626.5 V637.0 M320.9 626.5 V632.0 M505.6 626.5 V632.0 M690.4 626.5 V632.0 M875.1 626.5 V632.0 M228.5 626.5 H217.0 M228.5 530.2 H217.0 M228.5 433.8 H217.0 M228.5 337.5 H217.0 M228.5 241.2 H217.0 M228.5 144.8 H217.0 M228.5 48.5 H217.0 M228.5 578.3 H222.0 M228.5 482.0 H222.0 M228.5 385.7 H222.0 M228.5 289.3 H222.0 M228.5 193.0 H222.0 M228.5 96.7 H222.0" stroke="#000" stroke-width="3" fill="none"/>
<rect x="228.5" y="708.5" width="739.0" height="578.0" fill="none" stroke="#000" stroke-width="3"/>
<path d="M228.5 1286.5 V1297.0 M413.2 1286.5 V1297.0 M598.0 1286.5 V1297.0 M782.8 1286.5 V1297.0 M967.5 1286.5 V1297.0 M320.9 1286.5 V1292.0 M505.6 1286.5 V1292.0 M690.4 1286.5 V1292.0 M875.1 1286.5 V1292.0 M228.5 1286.5 H217.0 M228.5 1142.0 H217.0 M228.5 997.5 H217.0 M228.5 853.0 H217.0 M228.5 708.5 H217.0 M228.5 1214.2 H222.0 M228.5 1069.8 H222.0 M228.5 925.2 H222.0 M228.5 780.8 H222.0" stroke="#000" stroke-width="3" fill="none"/>
<rect x="1178.5" y="48.5" width="740.0" height="578.0" fill="none" stroke="#000" stroke-width="3"/>
<path d="M1178.5 626.5 V637.0 M1363.5 626.5 V637.0 M1548.5 626.5 V637.0 M1733.5 626.5 V637.0 M1918.5 626.5 V637.0 M1271.0 626.5 V632.0 M1456.0 626.5 V632.0 M1641.0 626.5 V632.0 M1826.0 626.5 V632.0 M1178.5 626.5 H1167.0 M1178.5 433.8 H1167.0 M1178.5 241.2 H1167.0 M1178.5 48.5 H1167.0 M1178.5 530.2 H1172.0 M1178.5 337.5 H1172.0 M1178.5 144.8 H1172.0" stroke="#000" stroke-width="3" fill="none"/>
<rect x="1178.5" y="708.5" width="740.0" height="578.0" fill="none" stroke="#000" stroke-width="3"/>
<path d="M1178.5 1286.5 V1297.0 M1363.5 1286.5 V1297.0 M1548.5 1286.5 V1297.0 M1733.5 1286.5 V1297.0 M1918.5 1286.5 V1297.0 M1271.0 1286.5 V1292.0 M1456.0 1286.5 V1292.0 M1641.0 1286.5 V1292.0 M1826.0 1286.5 V1292.0 M1178.5 1286.5 H1167.0 M1178.5 1055.3 H1167.0 M1178.5 824.1 H1167.0 M1178.5 1170.9 H1172.0 M1178.5 939.7 H1172.0" stroke="#000" stroke-width="3" fill="none"/>
<line x1="675.5" y1="235.5" x2="726.5" y2="235.5" stroke="#000000" stroke-width="9" stroke-linecap="round"/>
<line x1="675.5" y1="281.5" x2="726.5" y2="281.5" stroke="#ff0000" stroke-width="9" stroke-linecap="round"/>
<line x1="675.5" y1="327.5" x2="726.5" y2="327.5" stroke="#00ff00" stroke-width="9" stroke-linecap="round"/>
<line x1="675.5" y1="373.5" x2="726.5" y2="373.5" stroke="#0000ff" stroke-width="9" stroke-linecap="round"/>
<line x1="675.5" y1="419.5" x2="726.5" y2="419.5" stroke="#008000" stroke-width="9" stroke-linecap="round"/>
</svg></body></html>
